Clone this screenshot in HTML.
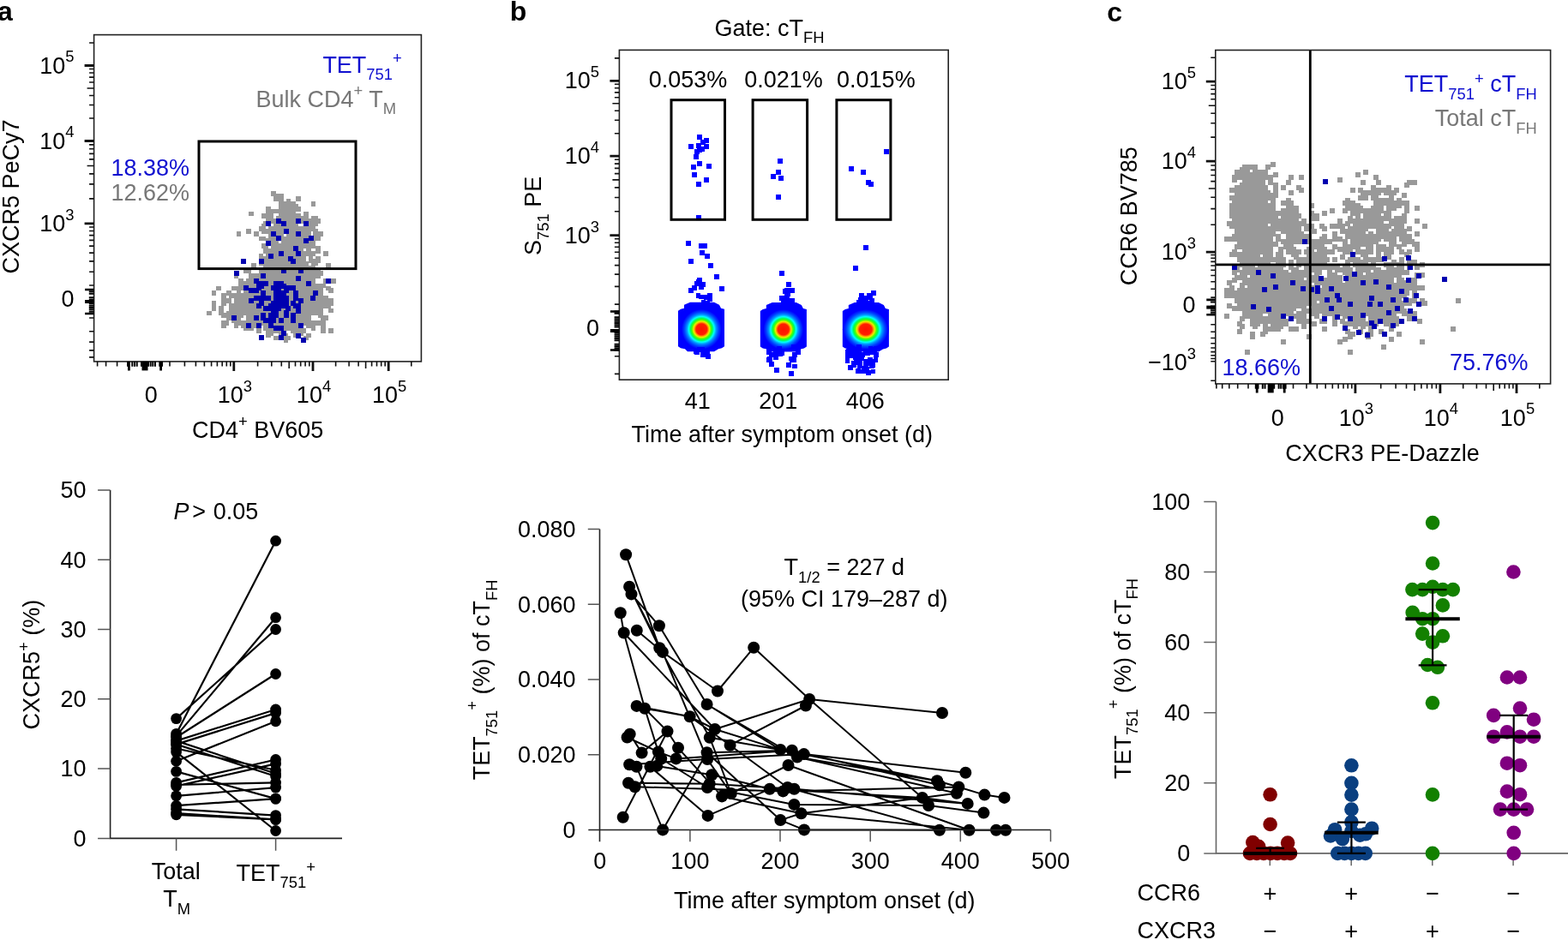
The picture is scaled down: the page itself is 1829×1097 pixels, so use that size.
<!DOCTYPE html>
<html><head><meta charset="utf-8"><title>Figure</title>
<style>html,body{margin:0;padding:0;background:#fff;}svg{display:block;}</style></head>
<body><svg width="1829" height="1097" viewBox="0 0 1829 1097" font-family='"Liberation Sans", Arial, Helvetica, sans-serif'>
<rect width="1829" height="1097" fill="#fff"/>
<path d="M327.7 353.8h5.8v5.8h-5.8zM319 333.5h5.8v5.8h-5.8zM316.1 333.5h5.8v5.8h-5.8zM327.7 371.2h5.8v5.8h-5.8zM316.1 339.3h5.8v5.8h-5.8zM339.3 353.8h5.8v5.8h-5.8zM330.6 333.5h5.8v5.8h-5.8zM327.7 359.6h5.8v5.8h-5.8zM292.9 342.2h5.8v5.8h-5.8zM278.4 327.7h5.8v5.8h-5.8zM281.3 345.1h5.8v5.8h-5.8zM295.8 353.8h5.8v5.8h-5.8zM330.6 345.1h5.8v5.8h-5.8zM263.9 339.3h5.8v5.8h-5.8zM324.8 350.9h5.8v5.8h-5.8zM290 342.2h5.8v5.8h-5.8zM301.6 336.4h5.8v5.8h-5.8zM353.8 336.4h5.8v5.8h-5.8zM327.7 365.4h5.8v5.8h-5.8zM313.2 348h5.8v5.8h-5.8zM330.6 350.9h5.8v5.8h-5.8zM295.8 350.9h5.8v5.8h-5.8zM362.5 321.9h5.8v5.8h-5.8zM348 350.9h5.8v5.8h-5.8zM310.3 382.8h5.8v5.8h-5.8zM345.1 327.7h5.8v5.8h-5.8zM321.9 359.6h5.8v5.8h-5.8zM324.8 359.6h5.8v5.8h-5.8zM362.5 336.4h5.8v5.8h-5.8zM333.5 342.2h5.8v5.8h-5.8zM330.6 327.7h5.8v5.8h-5.8zM313.2 345.1h5.8v5.8h-5.8zM350.9 368.3h5.8v5.8h-5.8zM292.9 336.4h5.8v5.8h-5.8zM342.2 316.1h5.8v5.8h-5.8zM316.1 348h5.8v5.8h-5.8zM359.6 359.6h5.8v5.8h-5.8zM319 342.2h5.8v5.8h-5.8zM321.9 374.1h5.8v5.8h-5.8zM316.1 345.1h5.8v5.8h-5.8zM336.4 348h5.8v5.8h-5.8zM321.9 330.6h5.8v5.8h-5.8zM327.7 342.2h5.8v5.8h-5.8zM356.7 359.6h5.8v5.8h-5.8zM319 368.3h5.8v5.8h-5.8zM284.2 313.2h5.8v5.8h-5.8zM330.6 388.6h5.8v5.8h-5.8zM307.4 339.3h5.8v5.8h-5.8zM333.5 356.7h5.8v5.8h-5.8zM321.9 345.1h5.8v5.8h-5.8zM345.1 356.7h5.8v5.8h-5.8zM301.6 348h5.8v5.8h-5.8zM327.7 330.6h5.8v5.8h-5.8zM333.5 333.5h5.8v5.8h-5.8zM350.9 353.8h5.8v5.8h-5.8zM330.6 339.3h5.8v5.8h-5.8zM324.8 316.1h5.8v5.8h-5.8zM298.7 356.7h5.8v5.8h-5.8zM272.6 362.5h5.8v5.8h-5.8zM284.2 362.5h5.8v5.8h-5.8zM307.4 362.5h5.8v5.8h-5.8zM330.6 321.9h5.8v5.8h-5.8zM359.6 374.1h5.8v5.8h-5.8zM324.8 345.1h5.8v5.8h-5.8zM321.9 333.5h5.8v5.8h-5.8zM353.8 339.3h5.8v5.8h-5.8zM324.8 336.4h5.8v5.8h-5.8zM310.3 327.7h5.8v5.8h-5.8zM359.6 345.1h5.8v5.8h-5.8zM350.9 348h5.8v5.8h-5.8zM310.3 342.2h5.8v5.8h-5.8zM319 345.1h5.8v5.8h-5.8zM368.3 336.4h5.8v5.8h-5.8zM301.6 353.8h5.8v5.8h-5.8zM362.5 324.8h5.8v5.8h-5.8zM321.9 339.3h5.8v5.8h-5.8zM327.7 350.9h5.8v5.8h-5.8zM307.4 356.7h5.8v5.8h-5.8zM298.7 327.7h5.8v5.8h-5.8zM359.6 339.3h5.8v5.8h-5.8zM333.5 348h5.8v5.8h-5.8zM342.2 345.1h5.8v5.8h-5.8zM321.9 350.9h5.8v5.8h-5.8zM336.4 339.3h5.8v5.8h-5.8zM292.9 365.4h5.8v5.8h-5.8zM339.3 362.5h5.8v5.8h-5.8zM348 365.4h5.8v5.8h-5.8zM316.1 374.1h5.8v5.8h-5.8zM295.8 362.5h5.8v5.8h-5.8zM339.3 365.4h5.8v5.8h-5.8zM374.1 374.1h5.8v5.8h-5.8zM298.7 319h5.8v5.8h-5.8zM348 330.6h5.8v5.8h-5.8zM327.7 362.5h5.8v5.8h-5.8zM287.1 313.2h5.8v5.8h-5.8zM333.5 350.9h5.8v5.8h-5.8zM304.5 324.8h5.8v5.8h-5.8zM287.1 356.7h5.8v5.8h-5.8zM324.8 356.7h5.8v5.8h-5.8zM301.6 339.3h5.8v5.8h-5.8zM301.6 333.5h5.8v5.8h-5.8zM330.6 336.4h5.8v5.8h-5.8zM336.4 353.8h5.8v5.8h-5.8zM377 324.8h5.8v5.8h-5.8zM348 348h5.8v5.8h-5.8zM327.7 324.8h5.8v5.8h-5.8zM316.1 362.5h5.8v5.8h-5.8zM327.7 310.3h5.8v5.8h-5.8zM310.3 316.1h5.8v5.8h-5.8zM246.5 339.3h5.8v5.8h-5.8zM359.6 350.9h5.8v5.8h-5.8zM298.7 333.5h5.8v5.8h-5.8zM356.7 350.9h5.8v5.8h-5.8zM327.7 348h5.8v5.8h-5.8zM342.2 353.8h5.8v5.8h-5.8zM301.6 356.7h5.8v5.8h-5.8zM310.3 368.3h5.8v5.8h-5.8zM295.8 348h5.8v5.8h-5.8zM327.7 327.7h5.8v5.8h-5.8zM371.2 374.1h5.8v5.8h-5.8zM336.4 304.5h5.8v5.8h-5.8zM330.6 330.6h5.8v5.8h-5.8zM356.7 353.8h5.8v5.8h-5.8zM327.7 374.1h5.8v5.8h-5.8zM313.2 342.2h5.8v5.8h-5.8zM281.3 377h5.8v5.8h-5.8zM350.9 365.4h5.8v5.8h-5.8zM345.1 350.9h5.8v5.8h-5.8zM333.5 345.1h5.8v5.8h-5.8zM365.4 359.6h5.8v5.8h-5.8zM324.8 339.3h5.8v5.8h-5.8zM310.3 377h5.8v5.8h-5.8zM339.3 350.9h5.8v5.8h-5.8zM319 330.6h5.8v5.8h-5.8zM324.8 365.4h5.8v5.8h-5.8zM287.1 345.1h5.8v5.8h-5.8zM304.5 365.4h5.8v5.8h-5.8zM307.4 359.6h5.8v5.8h-5.8zM365.4 345.1h5.8v5.8h-5.8zM313.2 353.8h5.8v5.8h-5.8zM327.7 333.5h5.8v5.8h-5.8zM339.3 382.8h5.8v5.8h-5.8zM295.8 330.6h5.8v5.8h-5.8zM359.6 333.5h5.8v5.8h-5.8zM353.8 374.1h5.8v5.8h-5.8zM333.5 359.6h5.8v5.8h-5.8zM377 345.1h5.8v5.8h-5.8zM313.2 324.8h5.8v5.8h-5.8zM350.9 333.5h5.8v5.8h-5.8zM304.5 339.3h5.8v5.8h-5.8zM333.5 353.8h5.8v5.8h-5.8zM319 348h5.8v5.8h-5.8zM339.3 379.9h5.8v5.8h-5.8zM342.2 350.9h5.8v5.8h-5.8zM284.2 356.7h5.8v5.8h-5.8zM278.4 324.8h5.8v5.8h-5.8zM348 362.5h5.8v5.8h-5.8zM324.8 319h5.8v5.8h-5.8zM319 336.4h5.8v5.8h-5.8zM342.2 388.6h5.8v5.8h-5.8zM333.5 336.4h5.8v5.8h-5.8zM298.7 348h5.8v5.8h-5.8zM353.8 368.3h5.8v5.8h-5.8zM353.8 342.2h5.8v5.8h-5.8zM339.3 348h5.8v5.8h-5.8zM316.1 342.2h5.8v5.8h-5.8zM295.8 324.8h5.8v5.8h-5.8zM348 345.1h5.8v5.8h-5.8zM333.5 365.4h5.8v5.8h-5.8zM284.2 336.4h5.8v5.8h-5.8zM330.6 356.7h5.8v5.8h-5.8zM319 365.4h5.8v5.8h-5.8zM333.5 327.7h5.8v5.8h-5.8zM304.5 362.5h5.8v5.8h-5.8zM339.3 316.1h5.8v5.8h-5.8zM359.6 342.2h5.8v5.8h-5.8zM365.4 339.3h5.8v5.8h-5.8zM316.1 365.4h5.8v5.8h-5.8zM295.8 368.3h5.8v5.8h-5.8zM336.4 330.6h5.8v5.8h-5.8zM307.4 345.1h5.8v5.8h-5.8zM301.6 327.7h5.8v5.8h-5.8zM290 348h5.8v5.8h-5.8zM310.3 333.5h5.8v5.8h-5.8zM348 339.3h5.8v5.8h-5.8zM365.4 336.4h5.8v5.8h-5.8zM336.4 345.1h5.8v5.8h-5.8zM324.8 330.6h5.8v5.8h-5.8zM342.2 330.6h5.8v5.8h-5.8zM281.3 348h5.8v5.8h-5.8zM353.8 321.9h5.8v5.8h-5.8zM298.7 336.4h5.8v5.8h-5.8zM307.4 336.4h5.8v5.8h-5.8zM342.2 336.4h5.8v5.8h-5.8zM339.3 333.5h5.8v5.8h-5.8zM295.8 319h5.8v5.8h-5.8zM374.1 345.1h5.8v5.8h-5.8zM374.1 330.6h5.8v5.8h-5.8zM287.1 330.6h5.8v5.8h-5.8zM292.9 362.5h5.8v5.8h-5.8zM348 333.5h5.8v5.8h-5.8zM362.5 301.6h5.8v5.8h-5.8zM339.3 330.6h5.8v5.8h-5.8zM353.8 330.6h5.8v5.8h-5.8zM319 324.8h5.8v5.8h-5.8zM301.6 374.1h5.8v5.8h-5.8zM348 342.2h5.8v5.8h-5.8zM304.5 316.1h5.8v5.8h-5.8zM324.8 348h5.8v5.8h-5.8zM324.8 371.2h5.8v5.8h-5.8zM374.1 348h5.8v5.8h-5.8zM307.4 348h5.8v5.8h-5.8zM313.2 336.4h5.8v5.8h-5.8zM342.2 348h5.8v5.8h-5.8zM292.9 350.9h5.8v5.8h-5.8zM292.9 339.3h5.8v5.8h-5.8zM319 313.2h5.8v5.8h-5.8zM321.9 342.2h5.8v5.8h-5.8zM319 339.3h5.8v5.8h-5.8zM324.8 342.2h5.8v5.8h-5.8zM342.2 321.9h5.8v5.8h-5.8zM310.3 345.1h5.8v5.8h-5.8zM342.2 356.7h5.8v5.8h-5.8zM333.5 324.8h5.8v5.8h-5.8zM339.3 368.3h5.8v5.8h-5.8zM287.1 365.4h5.8v5.8h-5.8zM324.8 307.4h5.8v5.8h-5.8zM336.4 324.8h5.8v5.8h-5.8zM295.8 339.3h5.8v5.8h-5.8zM333.5 379.9h5.8v5.8h-5.8zM368.3 348h5.8v5.8h-5.8zM321.9 327.7h5.8v5.8h-5.8zM310.3 356.7h5.8v5.8h-5.8zM336.4 350.9h5.8v5.8h-5.8zM350.9 336.4h5.8v5.8h-5.8zM324.8 362.5h5.8v5.8h-5.8zM342.2 368.3h5.8v5.8h-5.8zM336.4 333.5h5.8v5.8h-5.8zM287.1 359.6h5.8v5.8h-5.8zM324.8 353.8h5.8v5.8h-5.8zM284.2 342.2h5.8v5.8h-5.8zM313.2 333.5h5.8v5.8h-5.8zM269.7 342.2h5.8v5.8h-5.8zM350.9 356.7h5.8v5.8h-5.8zM345.1 301.6h5.8v5.8h-5.8zM345.1 377h5.8v5.8h-5.8zM333.5 362.5h5.8v5.8h-5.8zM350.9 382.8h5.8v5.8h-5.8zM321.9 348h5.8v5.8h-5.8zM333.5 371.2h5.8v5.8h-5.8zM301.6 345.1h5.8v5.8h-5.8zM321.9 362.5h5.8v5.8h-5.8zM353.8 324.8h5.8v5.8h-5.8zM304.5 353.8h5.8v5.8h-5.8zM310.3 321.9h5.8v5.8h-5.8zM353.8 356.7h5.8v5.8h-5.8zM339.3 342.2h5.8v5.8h-5.8zM353.8 345.1h5.8v5.8h-5.8zM353.8 333.5h5.8v5.8h-5.8zM310.3 359.6h5.8v5.8h-5.8zM350.9 339.3h5.8v5.8h-5.8zM316.1 368.3h5.8v5.8h-5.8zM382.8 382.8h5.8v5.8h-5.8zM365.4 348h5.8v5.8h-5.8zM301.6 350.9h5.8v5.8h-5.8zM339.3 336.4h5.8v5.8h-5.8zM287.1 324.8h5.8v5.8h-5.8zM345.1 336.4h5.8v5.8h-5.8zM342.2 342.2h5.8v5.8h-5.8zM356.7 348h5.8v5.8h-5.8zM307.4 342.2h5.8v5.8h-5.8zM319 391.5h5.8v5.8h-5.8zM345.1 382.8h5.8v5.8h-5.8zM356.7 356.7h5.8v5.8h-5.8zM345.1 339.3h5.8v5.8h-5.8zM374.1 377h5.8v5.8h-5.8zM342.2 359.6h5.8v5.8h-5.8zM275.5 359.6h5.8v5.8h-5.8zM321.9 356.7h5.8v5.8h-5.8zM345.1 342.2h5.8v5.8h-5.8zM269.7 371.2h5.8v5.8h-5.8zM333.5 368.3h5.8v5.8h-5.8zM377 350.9h5.8v5.8h-5.8zM281.3 333.5h5.8v5.8h-5.8zM327.7 316.1h5.8v5.8h-5.8zM313.2 339.3h5.8v5.8h-5.8zM284.2 348h5.8v5.8h-5.8zM374.1 382.8h5.8v5.8h-5.8zM359.6 362.5h5.8v5.8h-5.8zM310.3 374.1h5.8v5.8h-5.8zM319 350.9h5.8v5.8h-5.8zM298.7 342.2h5.8v5.8h-5.8zM382.8 348h5.8v5.8h-5.8zM345.1 330.6h5.8v5.8h-5.8zM321.9 365.4h5.8v5.8h-5.8zM365.4 316.1h5.8v5.8h-5.8zM310.3 339.3h5.8v5.8h-5.8zM345.1 359.6h5.8v5.8h-5.8zM345.1 345.1h5.8v5.8h-5.8zM304.5 313.2h5.8v5.8h-5.8zM333.5 377h5.8v5.8h-5.8zM321.9 321.9h5.8v5.8h-5.8zM307.4 333.5h5.8v5.8h-5.8zM295.8 356.7h5.8v5.8h-5.8zM345.1 348h5.8v5.8h-5.8zM336.4 356.7h5.8v5.8h-5.8zM290 345.1h5.8v5.8h-5.8zM321.9 353.8h5.8v5.8h-5.8zM292.9 377h5.8v5.8h-5.8zM284.2 345.1h5.8v5.8h-5.8zM316.1 313.2h5.8v5.8h-5.8zM348 359.6h5.8v5.8h-5.8zM324.8 333.5h5.8v5.8h-5.8zM342.2 339.3h5.8v5.8h-5.8zM362.5 353.8h5.8v5.8h-5.8zM356.7 342.2h5.8v5.8h-5.8zM321.9 391.5h5.8v5.8h-5.8zM359.6 353.8h5.8v5.8h-5.8zM348 385.7h5.8v5.8h-5.8zM345.1 353.8h5.8v5.8h-5.8zM330.6 379.9h5.8v5.8h-5.8zM304.5 348h5.8v5.8h-5.8zM316.1 353.8h5.8v5.8h-5.8zM356.7 388.6h5.8v5.8h-5.8zM330.6 374.1h5.8v5.8h-5.8zM292.9 368.3h5.8v5.8h-5.8zM324.8 374.1h5.8v5.8h-5.8zM327.7 356.7h5.8v5.8h-5.8zM313.2 313.2h5.8v5.8h-5.8zM350.9 359.6h5.8v5.8h-5.8zM356.7 324.8h5.8v5.8h-5.8zM356.7 339.3h5.8v5.8h-5.8zM298.7 371.2h5.8v5.8h-5.8zM324.8 327.7h5.8v5.8h-5.8zM336.4 362.5h5.8v5.8h-5.8zM310.3 353.8h5.8v5.8h-5.8zM327.7 339.3h5.8v5.8h-5.8zM316.1 350.9h5.8v5.8h-5.8zM382.8 336.4h5.8v5.8h-5.8zM278.4 333.5h5.8v5.8h-5.8zM345.1 362.5h5.8v5.8h-5.8zM339.3 359.6h5.8v5.8h-5.8zM269.7 359.6h5.8v5.8h-5.8zM301.6 365.4h5.8v5.8h-5.8zM304.5 321.9h5.8v5.8h-5.8zM353.8 348h5.8v5.8h-5.8zM316.1 382.8h5.8v5.8h-5.8zM336.4 379.9h5.8v5.8h-5.8zM316.1 356.7h5.8v5.8h-5.8zM319 319h5.8v5.8h-5.8zM321.9 310.3h5.8v5.8h-5.8zM336.4 336.4h5.8v5.8h-5.8zM284.2 330.6h5.8v5.8h-5.8zM275.5 333.5h5.8v5.8h-5.8zM368.3 330.6h5.8v5.8h-5.8zM342.2 324.8h5.8v5.8h-5.8zM371.2 353.8h5.8v5.8h-5.8zM371.2 316.1h5.8v5.8h-5.8zM321.9 324.8h5.8v5.8h-5.8zM330.6 391.5h5.8v5.8h-5.8zM356.7 330.6h5.8v5.8h-5.8zM304.5 342.2h5.8v5.8h-5.8zM310.3 365.4h5.8v5.8h-5.8zM298.7 321.9h5.8v5.8h-5.8zM310.3 310.3h5.8v5.8h-5.8zM348 368.3h5.8v5.8h-5.8zM324.8 321.9h5.8v5.8h-5.8zM362.5 307.4h5.8v5.8h-5.8zM298.7 345.1h5.8v5.8h-5.8zM356.7 313.2h5.8v5.8h-5.8zM327.7 336.4h5.8v5.8h-5.8zM330.6 353.8h5.8v5.8h-5.8zM348 353.8h5.8v5.8h-5.8zM385.7 324.8h5.8v5.8h-5.8zM333.5 391.5h5.8v5.8h-5.8zM316.1 327.7h5.8v5.8h-5.8zM310.3 350.9h5.8v5.8h-5.8zM307.4 310.3h5.8v5.8h-5.8zM307.4 316.1h5.8v5.8h-5.8zM324.8 368.3h5.8v5.8h-5.8zM342.2 327.7h5.8v5.8h-5.8zM307.4 379.9h5.8v5.8h-5.8zM353.8 391.5h5.8v5.8h-5.8zM336.4 359.6h5.8v5.8h-5.8zM313.2 330.6h5.8v5.8h-5.8zM316.1 336.4h5.8v5.8h-5.8zM287.1 333.5h5.8v5.8h-5.8zM301.6 342.2h5.8v5.8h-5.8zM281.3 330.6h5.8v5.8h-5.8zM368.3 313.2h5.8v5.8h-5.8zM319 353.8h5.8v5.8h-5.8zM342.2 365.4h5.8v5.8h-5.8zM356.7 368.3h5.8v5.8h-5.8zM362.5 348h5.8v5.8h-5.8zM292.9 353.8h5.8v5.8h-5.8zM284.2 333.5h5.8v5.8h-5.8zM321.9 336.4h5.8v5.8h-5.8zM342.2 379.9h5.8v5.8h-5.8zM295.8 371.2h5.8v5.8h-5.8zM333.5 321.9h5.8v5.8h-5.8zM342.2 371.2h5.8v5.8h-5.8zM362.5 359.6h5.8v5.8h-5.8zM350.9 342.2h5.8v5.8h-5.8zM304.5 374.1h5.8v5.8h-5.8zM336.4 307.4h5.8v5.8h-5.8zM298.7 382.8h5.8v5.8h-5.8zM310.3 362.5h5.8v5.8h-5.8zM330.6 362.5h5.8v5.8h-5.8zM310.3 371.2h5.8v5.8h-5.8zM345.1 365.4h5.8v5.8h-5.8zM362.5 356.7h5.8v5.8h-5.8zM330.6 324.8h5.8v5.8h-5.8zM298.7 324.8h5.8v5.8h-5.8zM368.3 333.5h5.8v5.8h-5.8zM371.2 365.4h5.8v5.8h-5.8zM368.3 319h5.8v5.8h-5.8zM287.1 368.3h5.8v5.8h-5.8zM313.2 359.6h5.8v5.8h-5.8zM330.6 304.5h5.8v5.8h-5.8zM307.4 353.8h5.8v5.8h-5.8zM365.4 353.8h5.8v5.8h-5.8zM362.5 379.9h5.8v5.8h-5.8zM327.7 345.1h5.8v5.8h-5.8zM301.6 371.2h5.8v5.8h-5.8zM295.8 345.1h5.8v5.8h-5.8zM307.4 327.7h5.8v5.8h-5.8zM295.8 327.7h5.8v5.8h-5.8zM316.1 319h5.8v5.8h-5.8zM292.9 321.9h5.8v5.8h-5.8zM371.2 342.2h5.8v5.8h-5.8zM292.9 333.5h5.8v5.8h-5.8zM342.2 319h5.8v5.8h-5.8zM319 356.7h5.8v5.8h-5.8zM319 362.5h5.8v5.8h-5.8zM365.4 313.2h5.8v5.8h-5.8zM350.9 371.2h5.8v5.8h-5.8zM350.9 350.9h5.8v5.8h-5.8zM298.7 359.6h5.8v5.8h-5.8zM310.3 307.4h5.8v5.8h-5.8zM371.2 333.5h5.8v5.8h-5.8zM362.5 377h5.8v5.8h-5.8zM272.6 319h5.8v5.8h-5.8zM374.1 371.2h5.8v5.8h-5.8zM350.9 327.7h5.8v5.8h-5.8zM319 327.7h5.8v5.8h-5.8zM330.6 377h5.8v5.8h-5.8zM304.5 330.6h5.8v5.8h-5.8zM295.8 374.1h5.8v5.8h-5.8zM316.1 324.8h5.8v5.8h-5.8zM371.2 362.5h5.8v5.8h-5.8zM319 374.1h5.8v5.8h-5.8zM290 374.1h5.8v5.8h-5.8zM310.3 301.6h5.8v5.8h-5.8zM290 336.4h5.8v5.8h-5.8zM333.5 316.1h5.8v5.8h-5.8zM304.5 356.7h5.8v5.8h-5.8zM304.5 333.5h5.8v5.8h-5.8zM295.8 377h5.8v5.8h-5.8zM348 374.1h5.8v5.8h-5.8zM356.7 377h5.8v5.8h-5.8zM359.6 336.4h5.8v5.8h-5.8zM339.3 324.8h5.8v5.8h-5.8zM377 368.3h5.8v5.8h-5.8zM336.4 319h5.8v5.8h-5.8zM278.4 365.4h5.8v5.8h-5.8zM362.5 327.7h5.8v5.8h-5.8zM330.6 342.2h5.8v5.8h-5.8zM365.4 333.5h5.8v5.8h-5.8zM261 348h5.8v5.8h-5.8zM365.4 330.6h5.8v5.8h-5.8zM298.7 374.1h5.8v5.8h-5.8zM313.2 382.8h5.8v5.8h-5.8zM284.2 327.7h5.8v5.8h-5.8zM336.4 371.2h5.8v5.8h-5.8zM382.8 359.6h5.8v5.8h-5.8zM275.5 345.1h5.8v5.8h-5.8zM313.2 368.3h5.8v5.8h-5.8zM269.7 333.5h5.8v5.8h-5.8zM301.6 330.6h5.8v5.8h-5.8zM307.4 350.9h5.8v5.8h-5.8zM368.3 353.8h5.8v5.8h-5.8zM310.3 348h5.8v5.8h-5.8zM321.9 368.3h5.8v5.8h-5.8zM313.2 385.7h5.8v5.8h-5.8zM379.9 353.8h5.8v5.8h-5.8zM321.9 313.2h5.8v5.8h-5.8zM295.8 333.5h5.8v5.8h-5.8zM365.4 362.5h5.8v5.8h-5.8zM290 319h5.8v5.8h-5.8zM295.8 342.2h5.8v5.8h-5.8zM330.6 313.2h5.8v5.8h-5.8zM275.5 371.2h5.8v5.8h-5.8zM336.4 365.4h5.8v5.8h-5.8zM336.4 368.3h5.8v5.8h-5.8zM330.6 371.2h5.8v5.8h-5.8zM359.6 348h5.8v5.8h-5.8zM362.5 350.9h5.8v5.8h-5.8zM292.9 359.6h5.8v5.8h-5.8zM272.6 348h5.8v5.8h-5.8zM330.6 307.4h5.8v5.8h-5.8zM348 319h5.8v5.8h-5.8zM310.3 388.6h5.8v5.8h-5.8zM310.3 319h5.8v5.8h-5.8zM304.5 345.1h5.8v5.8h-5.8zM292.9 324.8h5.8v5.8h-5.8zM382.8 350.9h5.8v5.8h-5.8zM371.2 356.7h5.8v5.8h-5.8zM362.5 339.3h5.8v5.8h-5.8zM307.4 365.4h5.8v5.8h-5.8zM356.7 362.5h5.8v5.8h-5.8zM301.6 313.2h5.8v5.8h-5.8zM292.9 330.6h5.8v5.8h-5.8zM269.7 362.5h5.8v5.8h-5.8zM298.7 330.6h5.8v5.8h-5.8zM290 379.9h5.8v5.8h-5.8zM333.5 374.1h5.8v5.8h-5.8zM307.4 368.3h5.8v5.8h-5.8zM374.1 353.8h5.8v5.8h-5.8zM330.6 348h5.8v5.8h-5.8zM301.6 359.6h5.8v5.8h-5.8zM275.5 342.2h5.8v5.8h-5.8zM310.3 324.8h5.8v5.8h-5.8zM298.7 353.8h5.8v5.8h-5.8zM353.8 365.4h5.8v5.8h-5.8zM298.7 365.4h5.8v5.8h-5.8zM327.7 368.3h5.8v5.8h-5.8zM339.3 356.7h5.8v5.8h-5.8zM371.2 348h5.8v5.8h-5.8zM321.9 382.8h5.8v5.8h-5.8zM371.2 336.4h5.8v5.8h-5.8zM313.2 362.5h5.8v5.8h-5.8zM353.8 350.9h5.8v5.8h-5.8zM359.6 356.7h5.8v5.8h-5.8zM324.8 385.7h5.8v5.8h-5.8zM379.9 333.5h5.8v5.8h-5.8zM345.1 333.5h5.8v5.8h-5.8zM359.6 330.6h5.8v5.8h-5.8zM339.3 374.1h5.8v5.8h-5.8zM278.4 348h5.8v5.8h-5.8zM365.4 374.1h5.8v5.8h-5.8zM287.1 350.9h5.8v5.8h-5.8zM371.2 359.6h5.8v5.8h-5.8zM330.6 394.4h5.8v5.8h-5.8zM327.7 292.9h5.8v5.8h-5.8zM330.6 261h5.8v5.8h-5.8zM345.1 269.7h5.8v5.8h-5.8zM324.8 246.5h5.8v5.8h-5.8zM319 301.6h5.8v5.8h-5.8zM304.5 284.2h5.8v5.8h-5.8zM345.1 275.5h5.8v5.8h-5.8zM336.4 255.2h5.8v5.8h-5.8zM356.7 316.1h5.8v5.8h-5.8zM336.4 237.8h5.8v5.8h-5.8zM316.1 310.3h5.8v5.8h-5.8zM362.5 292.9h5.8v5.8h-5.8zM353.8 269.7h5.8v5.8h-5.8zM330.6 284.2h5.8v5.8h-5.8zM339.3 243.6h5.8v5.8h-5.8zM348 321.9h5.8v5.8h-5.8zM313.2 249.4h5.8v5.8h-5.8zM339.3 266.8h5.8v5.8h-5.8zM292.9 307.4h5.8v5.8h-5.8zM336.4 272.6h5.8v5.8h-5.8zM368.3 290h5.8v5.8h-5.8zM319 287.1h5.8v5.8h-5.8zM316.1 263.9h5.8v5.8h-5.8zM339.3 269.7h5.8v5.8h-5.8zM348 307.4h5.8v5.8h-5.8zM342.2 298.7h5.8v5.8h-5.8zM356.7 284.2h5.8v5.8h-5.8zM365.4 258.1h5.8v5.8h-5.8zM327.7 246.5h5.8v5.8h-5.8zM327.7 298.7h5.8v5.8h-5.8zM356.7 266.8h5.8v5.8h-5.8zM333.5 275.5h5.8v5.8h-5.8zM321.9 252.3h5.8v5.8h-5.8zM333.5 237.8h5.8v5.8h-5.8zM336.4 287.1h5.8v5.8h-5.8zM321.9 258.1h5.8v5.8h-5.8zM310.3 336.4h5.8v5.8h-5.8zM342.2 275.5h5.8v5.8h-5.8zM362.5 261h5.8v5.8h-5.8zM327.7 313.2h5.8v5.8h-5.8zM339.3 339.3h5.8v5.8h-5.8zM324.8 298.7h5.8v5.8h-5.8zM321.9 226.2h5.8v5.8h-5.8zM330.6 281.3h5.8v5.8h-5.8zM365.4 275.5h5.8v5.8h-5.8zM333.5 301.6h5.8v5.8h-5.8zM359.6 284.2h5.8v5.8h-5.8zM350.9 298.7h5.8v5.8h-5.8zM327.7 287.1h5.8v5.8h-5.8zM333.5 261h5.8v5.8h-5.8zM353.8 246.5h5.8v5.8h-5.8zM353.8 310.3h5.8v5.8h-5.8zM330.6 263.9h5.8v5.8h-5.8zM330.6 298.7h5.8v5.8h-5.8zM345.1 292.9h5.8v5.8h-5.8zM350.9 269.7h5.8v5.8h-5.8zM336.4 243.6h5.8v5.8h-5.8zM345.1 290h5.8v5.8h-5.8zM333.5 246.5h5.8v5.8h-5.8zM324.8 287.1h5.8v5.8h-5.8zM327.7 295.8h5.8v5.8h-5.8zM345.1 319h5.8v5.8h-5.8zM316.1 292.9h5.8v5.8h-5.8zM353.8 304.5h5.8v5.8h-5.8zM316.1 266.8h5.8v5.8h-5.8zM324.8 284.2h5.8v5.8h-5.8zM353.8 249.4h5.8v5.8h-5.8zM342.2 301.6h5.8v5.8h-5.8zM359.6 298.7h5.8v5.8h-5.8zM348 301.6h5.8v5.8h-5.8zM362.5 234.9h5.8v5.8h-5.8zM353.8 278.4h5.8v5.8h-5.8zM327.7 258.1h5.8v5.8h-5.8zM301.6 275.5h5.8v5.8h-5.8zM321.9 298.7h5.8v5.8h-5.8zM307.4 324.8h5.8v5.8h-5.8zM336.4 278.4h5.8v5.8h-5.8zM321.9 263.9h5.8v5.8h-5.8zM313.2 269.7h5.8v5.8h-5.8zM333.5 281.3h5.8v5.8h-5.8zM310.3 278.4h5.8v5.8h-5.8zM319 290h5.8v5.8h-5.8zM365.4 301.6h5.8v5.8h-5.8zM327.7 240.7h5.8v5.8h-5.8zM310.3 240.7h5.8v5.8h-5.8zM345.1 263.9h5.8v5.8h-5.8zM333.5 269.7h5.8v5.8h-5.8zM321.9 275.5h5.8v5.8h-5.8zM319 307.4h5.8v5.8h-5.8zM316.1 255.2h5.8v5.8h-5.8zM310.3 246.5h5.8v5.8h-5.8zM327.7 278.4h5.8v5.8h-5.8zM301.6 295.8h5.8v5.8h-5.8zM336.4 295.8h5.8v5.8h-5.8zM345.1 229.1h5.8v5.8h-5.8zM350.9 313.2h5.8v5.8h-5.8zM310.3 281.3h5.8v5.8h-5.8zM319 269.7h5.8v5.8h-5.8zM350.9 263.9h5.8v5.8h-5.8zM330.6 234.9h5.8v5.8h-5.8zM330.6 287.1h5.8v5.8h-5.8zM321.9 266.8h5.8v5.8h-5.8zM365.4 252.3h5.8v5.8h-5.8zM324.8 313.2h5.8v5.8h-5.8zM356.7 287.1h5.8v5.8h-5.8zM345.1 304.5h5.8v5.8h-5.8zM359.6 258.1h5.8v5.8h-5.8zM353.8 275.5h5.8v5.8h-5.8zM330.6 258.1h5.8v5.8h-5.8zM304.5 261h5.8v5.8h-5.8zM345.1 316.1h5.8v5.8h-5.8zM339.3 255.2h5.8v5.8h-5.8zM316.1 287.1h5.8v5.8h-5.8zM327.7 255.2h5.8v5.8h-5.8zM339.3 278.4h5.8v5.8h-5.8zM350.9 284.2h5.8v5.8h-5.8zM330.6 266.8h5.8v5.8h-5.8zM327.7 304.5h5.8v5.8h-5.8zM304.5 275.5h5.8v5.8h-5.8zM324.8 290h5.8v5.8h-5.8zM324.8 272.6h5.8v5.8h-5.8zM313.2 321.9h5.8v5.8h-5.8zM348 263.9h5.8v5.8h-5.8zM350.9 278.4h5.8v5.8h-5.8zM319 275.5h5.8v5.8h-5.8zM333.5 234.9h5.8v5.8h-5.8zM336.4 316.1h5.8v5.8h-5.8zM336.4 275.5h5.8v5.8h-5.8zM324.8 269.7h5.8v5.8h-5.8zM316.1 316.1h5.8v5.8h-5.8zM333.5 310.3h5.8v5.8h-5.8zM348 292.9h5.8v5.8h-5.8zM362.5 278.4h5.8v5.8h-5.8zM339.3 298.7h5.8v5.8h-5.8zM330.6 246.5h5.8v5.8h-5.8zM310.3 295.8h5.8v5.8h-5.8zM313.2 246.5h5.8v5.8h-5.8zM348 316.1h5.8v5.8h-5.8zM379.9 307.4h5.8v5.8h-5.8zM321.9 261h5.8v5.8h-5.8zM275.5 269.7h5.8v5.8h-5.8zM330.6 310.3h5.8v5.8h-5.8zM336.4 301.6h5.8v5.8h-5.8zM356.7 255.2h5.8v5.8h-5.8zM359.6 319h5.8v5.8h-5.8zM345.1 252.3h5.8v5.8h-5.8zM327.7 281.3h5.8v5.8h-5.8zM327.7 243.6h5.8v5.8h-5.8zM348 255.2h5.8v5.8h-5.8zM345.1 295.8h5.8v5.8h-5.8zM324.8 263.9h5.8v5.8h-5.8zM313.2 304.5h5.8v5.8h-5.8zM324.8 292.9h5.8v5.8h-5.8zM319 284.2h5.8v5.8h-5.8zM342.2 287.1h5.8v5.8h-5.8zM324.8 255.2h5.8v5.8h-5.8zM327.7 263.9h5.8v5.8h-5.8zM336.4 266.8h5.8v5.8h-5.8zM356.7 278.4h5.8v5.8h-5.8zM319 278.4h5.8v5.8h-5.8zM336.4 269.7h5.8v5.8h-5.8zM333.5 249.4h5.8v5.8h-5.8zM365.4 304.5h5.8v5.8h-5.8zM350.9 330.6h5.8v5.8h-5.8zM350.9 281.3h5.8v5.8h-5.8zM336.4 290h5.8v5.8h-5.8zM339.3 290h5.8v5.8h-5.8zM319 229.1h5.8v5.8h-5.8zM321.9 229.1h5.8v5.8h-5.8zM333.5 284.2h5.8v5.8h-5.8zM304.5 304.5h5.8v5.8h-5.8zM348 287.1h5.8v5.8h-5.8zM339.3 295.8h5.8v5.8h-5.8zM348 266.8h5.8v5.8h-5.8zM319 281.3h5.8v5.8h-5.8zM307.4 258.1h5.8v5.8h-5.8zM342.2 284.2h5.8v5.8h-5.8zM339.3 234.9h5.8v5.8h-5.8zM348 284.2h5.8v5.8h-5.8zM345.1 272.6h5.8v5.8h-5.8zM342.2 313.2h5.8v5.8h-5.8zM348 295.8h5.8v5.8h-5.8zM353.8 284.2h5.8v5.8h-5.8zM333.5 252.3h5.8v5.8h-5.8zM368.3 298.7h5.8v5.8h-5.8zM307.4 298.7h5.8v5.8h-5.8zM316.1 223.3h5.8v5.8h-5.8zM324.8 226.2h5.8v5.8h-5.8zM301.6 316.1h5.8v5.8h-5.8zM339.3 281.3h5.8v5.8h-5.8zM321.9 304.5h5.8v5.8h-5.8zM324.8 237.8h5.8v5.8h-5.8zM368.3 275.5h5.8v5.8h-5.8zM321.9 292.9h5.8v5.8h-5.8zM307.4 249.4h5.8v5.8h-5.8zM342.2 255.2h5.8v5.8h-5.8zM336.4 261h5.8v5.8h-5.8zM336.4 263.9h5.8v5.8h-5.8zM345.1 281.3h5.8v5.8h-5.8zM319 310.3h5.8v5.8h-5.8zM319 272.6h5.8v5.8h-5.8zM359.6 278.4h5.8v5.8h-5.8zM339.3 310.3h5.8v5.8h-5.8zM336.4 252.3h5.8v5.8h-5.8zM356.7 272.6h5.8v5.8h-5.8zM350.9 307.4h5.8v5.8h-5.8zM348 310.3h5.8v5.8h-5.8zM362.5 284.2h5.8v5.8h-5.8zM339.3 249.4h5.8v5.8h-5.8zM319 295.8h5.8v5.8h-5.8zM324.8 243.6h5.8v5.8h-5.8zM307.4 290h5.8v5.8h-5.8zM313.2 275.5h5.8v5.8h-5.8zM350.9 316.1h5.8v5.8h-5.8zM339.3 287.1h5.8v5.8h-5.8zM348 252.3h5.8v5.8h-5.8zM336.4 281.3h5.8v5.8h-5.8zM313.2 290h5.8v5.8h-5.8zM333.5 272.6h5.8v5.8h-5.8zM339.3 246.5h5.8v5.8h-5.8zM333.5 295.8h5.8v5.8h-5.8zM339.3 313.2h5.8v5.8h-5.8zM313.2 243.6h5.8v5.8h-5.8zM336.4 298.7h5.8v5.8h-5.8zM368.3 301.6h5.8v5.8h-5.8zM319 243.6h5.8v5.8h-5.8zM377 292.9h5.8v5.8h-5.8zM353.8 258.1h5.8v5.8h-5.8zM345.1 298.7h5.8v5.8h-5.8zM342.2 304.5h5.8v5.8h-5.8zM313.2 298.7h5.8v5.8h-5.8zM371.2 269.7h5.8v5.8h-5.8zM304.5 298.7h5.8v5.8h-5.8zM313.2 263.9h5.8v5.8h-5.8zM342.2 278.4h5.8v5.8h-5.8zM348 371.2h5.8v5.8h-5.8zM319 266.8h5.8v5.8h-5.8zM316.1 269.7h5.8v5.8h-5.8zM313.2 266.8h5.8v5.8h-5.8zM310.3 249.4h5.8v5.8h-5.8zM313.2 295.8h5.8v5.8h-5.8zM301.6 263.9h5.8v5.8h-5.8zM345.1 287.1h5.8v5.8h-5.8zM324.8 310.3h5.8v5.8h-5.8zM324.8 261h5.8v5.8h-5.8zM342.2 258.1h5.8v5.8h-5.8zM365.4 269.7h5.8v5.8h-5.8zM368.3 255.2h5.8v5.8h-5.8zM342.2 252.3h5.8v5.8h-5.8zM310.3 290h5.8v5.8h-5.8zM345.1 249.4h5.8v5.8h-5.8zM353.8 263.9h5.8v5.8h-5.8zM342.2 237.8h5.8v5.8h-5.8zM359.6 301.6h5.8v5.8h-5.8zM324.8 258.1h5.8v5.8h-5.8zM304.5 249.4h5.8v5.8h-5.8zM359.6 275.5h5.8v5.8h-5.8zM321.9 243.6h5.8v5.8h-5.8zM313.2 272.6h5.8v5.8h-5.8zM330.6 295.8h5.8v5.8h-5.8zM342.2 290h5.8v5.8h-5.8zM336.4 258.1h5.8v5.8h-5.8zM295.8 269.7h5.8v5.8h-5.8zM327.7 252.3h5.8v5.8h-5.8zM313.2 281.3h5.8v5.8h-5.8zM365.4 266.8h5.8v5.8h-5.8zM359.6 263.9h5.8v5.8h-5.8zM368.3 287.1h5.8v5.8h-5.8zM330.6 319h5.8v5.8h-5.8zM348 304.5h5.8v5.8h-5.8zM350.9 255.2h5.8v5.8h-5.8zM362.5 252.3h5.8v5.8h-5.8zM307.4 266.8h5.8v5.8h-5.8zM350.9 272.6h5.8v5.8h-5.8zM321.9 307.4h5.8v5.8h-5.8zM350.9 310.3h5.8v5.8h-5.8zM350.9 266.8h5.8v5.8h-5.8zM359.6 255.2h5.8v5.8h-5.8zM290 246.5h5.8v5.8h-5.8zM316.1 281.3h5.8v5.8h-5.8zM342.2 281.3h5.8v5.8h-5.8zM321.9 290h5.8v5.8h-5.8zM316.1 284.2h5.8v5.8h-5.8zM316.1 272.6h5.8v5.8h-5.8zM304.5 266.8h5.8v5.8h-5.8zM310.3 252.3h5.8v5.8h-5.8zM330.6 278.4h5.8v5.8h-5.8zM353.8 266.8h5.8v5.8h-5.8zM350.9 292.9h5.8v5.8h-5.8zM333.5 232h5.8v5.8h-5.8zM310.3 304.5h5.8v5.8h-5.8zM356.7 290h5.8v5.8h-5.8zM327.7 266.8h5.8v5.8h-5.8zM350.9 295.8h5.8v5.8h-5.8zM327.7 275.5h5.8v5.8h-5.8zM342.2 292.9h5.8v5.8h-5.8zM336.4 284.2h5.8v5.8h-5.8zM359.6 313.2h5.8v5.8h-5.8zM301.6 304.5h5.8v5.8h-5.8zM319 258.1h5.8v5.8h-5.8zM330.6 292.9h5.8v5.8h-5.8zM342.2 333.5h5.8v5.8h-5.8zM345.1 240.7h5.8v5.8h-5.8zM287.1 266.8h5.8v5.8h-5.8zM356.7 327.7h5.8v5.8h-5.8zM348 278.4h5.8v5.8h-5.8zM339.3 261h5.8v5.8h-5.8zM336.4 249.4h5.8v5.8h-5.8zM353.8 292.9h5.8v5.8h-5.8zM307.4 284.2h5.8v5.8h-5.8zM333.5 266.8h5.8v5.8h-5.8zM348 269.7h5.8v5.8h-5.8zM342.2 310.3h5.8v5.8h-5.8zM339.3 284.2h5.8v5.8h-5.8zM356.7 310.3h5.8v5.8h-5.8zM356.7 292.9h5.8v5.8h-5.8zM330.6 316.1h5.8v5.8h-5.8zM324.8 232h5.8v5.8h-5.8zM345.1 284.2h5.8v5.8h-5.8zM333.5 240.7h5.8v5.8h-5.8zM278.4 374.1h5.8v5.8h-5.8zM287.1 362.5h5.8v5.8h-5.8zM281.3 353.8h5.8v5.8h-5.8zM261 365.4h5.8v5.8h-5.8zM287.1 342.2h5.8v5.8h-5.8zM261 374.1h5.8v5.8h-5.8zM284.2 350.9h5.8v5.8h-5.8zM252.3 333.5h5.8v5.8h-5.8zM255.2 356.7h5.8v5.8h-5.8zM278.4 353.8h5.8v5.8h-5.8zM246.5 350.9h5.8v5.8h-5.8zM266.8 342.2h5.8v5.8h-5.8zM269.7 353.8h5.8v5.8h-5.8zM275.5 339.3h5.8v5.8h-5.8zM272.6 374.1h5.8v5.8h-5.8zM292.9 348h5.8v5.8h-5.8zM278.4 362.5h5.8v5.8h-5.8zM287.1 353.8h5.8v5.8h-5.8zM292.9 356.7h5.8v5.8h-5.8zM255.2 362.5h5.8v5.8h-5.8zM258.1 350.9h5.8v5.8h-5.8zM278.4 350.9h5.8v5.8h-5.8zM272.6 368.3h5.8v5.8h-5.8zM240.7 362.5h5.8v5.8h-5.8zM313.2 356.7h5.8v5.8h-5.8zM290 350.9h5.8v5.8h-5.8zM278.4 342.2h5.8v5.8h-5.8zM258.1 365.4h5.8v5.8h-5.8zM266.8 359.6h5.8v5.8h-5.8zM278.4 356.7h5.8v5.8h-5.8zM246.5 356.7h5.8v5.8h-5.8zM258.1 377h5.8v5.8h-5.8zM272.6 377h5.8v5.8h-5.8zM295.8 359.6h5.8v5.8h-5.8zM281.3 356.7h5.8v5.8h-5.8zM298.7 362.5h5.8v5.8h-5.8zM263.9 348h5.8v5.8h-5.8zM272.6 345.1h5.8v5.8h-5.8zM281.3 374.1h5.8v5.8h-5.8zM258.1 374.1h5.8v5.8h-5.8zM275.5 362.5h5.8v5.8h-5.8zM258.1 342.2h5.8v5.8h-5.8zM281.3 350.9h5.8v5.8h-5.8zM266.8 362.5h5.8v5.8h-5.8zM290 353.8h5.8v5.8h-5.8zM263.9 368.3h5.8v5.8h-5.8zM284.2 379.9h5.8v5.8h-5.8zM266.8 353.8h5.8v5.8h-5.8zM258.1 345.1h5.8v5.8h-5.8zM281.3 359.6h5.8v5.8h-5.8zM263.9 362.5h5.8v5.8h-5.8zM287.1 371.2h5.8v5.8h-5.8zM281.3 362.5h5.8v5.8h-5.8zM275.5 353.8h5.8v5.8h-5.8zM275.5 348h5.8v5.8h-5.8z" fill="#999" shape-rendering="crispEdges"/>
<path d="M295.7 345h6v6h-6zM304.4 365.3h6v6h-6zM318.9 379.8h6v6h-6zM330.5 362.4h6v6h-6zM321.8 350.8h6v6h-6zM330.5 365.3h6v6h-6zM307.3 356.6h6v6h-6zM362.4 345h6v6h-6zM316 333.4h6v6h-6zM295.7 368.2h6v6h-6zM318.9 353.7h6v6h-6zM350.8 394.3h6v6h-6zM304.4 368.2h6v6h-6zM330.5 353.7h6v6h-6zM327.6 347.9h6v6h-6zM345 359.5h6v6h-6zM324.7 371.1h6v6h-6zM333.4 356.6h6v6h-6zM324.7 379.8h6v6h-6zM327.6 345h6v6h-6zM304.4 339.2h6v6h-6zM301.5 347.9h6v6h-6zM318.9 359.5h6v6h-6zM321.8 327.6h6v6h-6zM339.2 333.4h6v6h-6zM298.6 327.6h6v6h-6zM318.9 365.3h6v6h-6zM339.2 350.8h6v6h-6zM298.6 333.4h6v6h-6zM304.4 345h6v6h-6zM289.9 347.9h6v6h-6zM330.5 345h6v6h-6zM327.6 330.5h6v6h-6zM295.7 336.3h6v6h-6zM339.2 365.3h6v6h-6zM310.2 371.1h6v6h-6zM313.1 376.9h6v6h-6zM327.6 339.2h6v6h-6zM333.4 333.4h6v6h-6zM304.4 318.9h6v6h-6zM324.7 345h6v6h-6zM318.9 339.2h6v6h-6zM342.1 339.2h6v6h-6zM307.3 371.1h6v6h-6zM342.1 353.7h6v6h-6zM289.9 336.3h6v6h-6zM330.5 347.9h6v6h-6zM345 321.8h6v6h-6zM330.5 336.3h6v6h-6zM342.1 345h6v6h-6zM336.3 333.4h6v6h-6zM295.7 324.7h6v6h-6zM307.3 327.6h6v6h-6zM339.2 371.1h6v6h-6zM324.7 327.6h6v6h-6zM345 353.7h6v6h-6zM284.1 333.4h6v6h-6zM298.6 353.7h6v6h-6zM321.8 330.5h6v6h-6zM301.5 330.5h6v6h-6zM313.1 356.6h6v6h-6zM347.9 313.1h6v6h-6zM318.9 347.9h6v6h-6zM318.9 342.1h6v6h-6zM313.1 365.3h6v6h-6zM310.2 345h6v6h-6zM316 365.3h6v6h-6zM318.9 350.8h6v6h-6zM318.9 327.6h6v6h-6zM304.4 327.6h6v6h-6zM321.8 333.4h6v6h-6zM301.5 350.8h6v6h-6zM327.6 313.1h6v6h-6zM347.9 347.9h6v6h-6zM316 368.2h6v6h-6zM318.9 336.3h6v6h-6zM356.6 327.6h6v6h-6zM316 362.4h6v6h-6zM301.5 345h6v6h-6zM324.7 391.4h6v6h-6zM321.8 356.6h6v6h-6zM324.7 353.7h6v6h-6zM321.8 339.2h6v6h-6zM345 388.5h6v6h-6zM313.1 353.7h6v6h-6zM316 371.1h6v6h-6zM316 350.8h6v6h-6zM310.2 258h6v6h-6zM321.8 255.1h6v6h-6zM327.6 258h6v6h-6zM345 255.1h6v6h-6zM353.7 258h6v6h-6zM330.5 266.7h6v6h-6zM316 269.6h6v6h-6zM345 269.6h6v6h-6zM321.8 275.4h6v6h-6zM353.7 278.3h6v6h-6zM359.5 275.4h6v6h-6zM310.2 281.2h6v6h-6zM342.1 287h6v6h-6zM345 292.8h6v6h-6zM324.7 292.8h6v6h-6zM313.1 295.7h6v6h-6zM281.2 301.5h6v6h-6zM301.5 301.5h6v6h-6zM336.3 298.6h6v6h-6zM339.2 301.5h6v6h-6zM272.5 316h6v6h-6zM379.8 324.7h6v6h-6zM365.3 339.2h6v6h-6zM269.6 368.2h6v6h-6zM287 376.9h6v6h-6zM301.5 391.4h6v6h-6zM327.6 385.6h6v6h-6zM347.9 376.9h6v6h-6zM298.6 376.9h6v6h-6z" fill="#0000b0" shape-rendering="crispEdges"/>
<rect x="232" y="165" width="183" height="148.6" fill="none" stroke="#000" stroke-width="3"/>
<rect x="109.6" y="40.6" width="381.8" height="381.3" fill="none" stroke="#222" stroke-width="1.6"/>
<path d="M104.1 333H109.6M104.1 317.3H109.6M104.1 304.9H109.6M104.1 295.1H109.6M104.1 287.1H109.6M104.1 280.4H109.6M104.1 274.6H109.6M104.1 269.5H109.6M104.1 265H109.6M104.1 231.9H109.6M104.1 214.9H109.6M104.1 202.9H109.6M101.6 193.5H109.6M104.1 185.9H109.6M104.1 179.4H109.6M104.1 173.8H109.6M104.1 168.9H109.6M104.1 138H109.6M104.1 122.5H109.6M104.1 111.5H109.6M101.6 103H109.6M104.1 96H109.6M104.1 90.1H109.6M104.1 85H109.6M104.1 80.5H109.6M104.1 50H109.6M104.1 371H109.6M104.1 386.7H109.6M104.1 399.1H109.6M104.1 408.9H109.6M104.1 416.9H109.6" stroke="#111" stroke-width="1.6" fill="none"/>
<path d="M98.6 260.9H109.6M98.6 164.5H109.6M98.6 76.5H109.6" stroke="#111" stroke-width="2.8" fill="none"/>
<path d="M198 421.9V427.4M215.4 421.9V427.4M228.4 421.9V427.4M238.4 421.9V427.4M246.6 421.9V427.4M253.4 421.9V427.4M259.2 421.9V427.4M264.3 421.9V427.4M268.8 421.9V427.4M300.6 421.9V427.4M316.8 421.9V427.4M328.3 421.9V427.4M337.2 421.9V429.9M344.5 421.9V427.4M350.7 421.9V427.4M356.1 421.9V427.4M360.8 421.9V427.4M391.6 421.9V427.4M407.1 421.9V427.4M418.1 421.9V427.4M426.6 421.9V429.9M433.6 421.9V427.4M439.5 421.9V427.4M444.7 421.9V427.4M449.2 421.9V427.4M479.8 421.9V427.4M136.6 421.9V427.4M123.6 421.9V427.4M113.6 421.9V427.4" stroke="#111" stroke-width="1.6" fill="none"/>
<path d="M272.8 421.9V432.9M365 421.9V432.9M453.2 421.9V432.9" stroke="#111" stroke-width="2.8" fill="none"/>
<path d="M103.8 338H109.6M103.8 340.3H109.6M103.8 342.7H109.6M103.8 347.3H109.6M103.8 349.7H109.6M103.8 352H109.6M103.8 354.3H109.6M103.8 356.7H109.6M103.8 359H109.6M103.8 361.3H109.6M103.8 363.7H109.6M103.8 366H109.6" stroke="#000" stroke-width="2" fill="none"/>
<path d="M99.1 338H109.6M99.1 366H109.6" stroke="#000" stroke-width="2.6" fill="none"/>
<path d="M99.1 352H109.6" stroke="#000" stroke-width="4" fill="none"/>
<path d="M149 421.9V427.7M154.3 421.9V427.7M157 421.9V427.7M159.7 421.9V427.7M165 421.9V427.7M167.7 421.9V427.7M170.3 421.9V427.7M173 421.9V427.7M175.7 421.9V427.7M178.3 421.9V427.7M181 421.9V427.7M186.3 421.9V427.7M189 421.9V427.7" stroke="#000" stroke-width="2" fill="none"/>
<path d="M150.4 421.9V432.4M187.6 421.9V432.4" stroke="#000" stroke-width="2.8" fill="none"/>
<path d="M169 421.9V432.4" stroke="#000" stroke-width="7" fill="none"/>
<text x="86.6" y="85.7" font-size="27" fill="#000" text-anchor="end" transform="matrix(1 0 0 1.04 0 -3.43)"><tspan>10</tspan><tspan dy="-12.7" font-size="18.4">5</tspan></text>
<text x="86.6" y="173.7" font-size="27" fill="#000" text-anchor="end" transform="matrix(1 0 0 1.04 0 -6.95)"><tspan>10</tspan><tspan dy="-12.7" font-size="18.4">4</tspan></text>
<text x="86.6" y="270.1" font-size="27" fill="#000" text-anchor="end" transform="matrix(1 0 0 1.04 0 -10.80)"><tspan>10</tspan><tspan dy="-12.7" font-size="18.4">3</tspan></text>
<text x="86.4" y="358.4" font-size="27" fill="#000" text-anchor="end" transform="matrix(1 0 0 1.04 0 -14.34)"><tspan>0</tspan></text>
<text x="273.8" y="470.4" font-size="27" fill="#000" text-anchor="middle" transform="matrix(1 0 0 1.04 0 -18.82)"><tspan>10</tspan><tspan dy="-12.7" font-size="18.4">3</tspan></text>
<text x="366" y="470.4" font-size="27" fill="#000" text-anchor="middle" transform="matrix(1 0 0 1.04 0 -18.82)"><tspan>10</tspan><tspan dy="-12.7" font-size="18.4">4</tspan></text>
<text x="454.2" y="470.4" font-size="27" fill="#000" text-anchor="middle" transform="matrix(1 0 0 1.04 0 -18.82)"><tspan>10</tspan><tspan dy="-12.7" font-size="18.4">5</tspan></text>
<text x="176.3" y="470.4" font-size="27" fill="#000" text-anchor="middle" transform="matrix(1 0 0 1.04 0 -18.82)"><tspan>0</tspan></text>
<text x="224" y="511" font-size="27" fill="#000" text-anchor="start" transform="matrix(1 0 0 1.04 0 -20.44)"><tspan>CD4</tspan><tspan dy="-12.2" font-size="18.4">+</tspan><tspan dy="12.2"> BV605</tspan></text>
<text x="22.3" y="229.5" font-size="27" fill="#000" text-anchor="middle" transform="rotate(-90 22.3 229.5) matrix(1 0 0 1.04 0 -9.18)"><tspan>CXCR5 PeCy7</tspan></text>
<text x="468.8" y="84.7" font-size="27" fill="#1010d0" text-anchor="end" transform="matrix(1 0 0 1.04 0 -3.39)"><tspan>TET</tspan><tspan dy="8.1" font-size="18.4">751</tspan><tspan dy="-18.4" font-size="18.4">+</tspan></text>
<text x="462" y="124.8" font-size="27" fill="#777" text-anchor="end" transform="matrix(1 0 0 1.04 0 -4.99)"><tspan>Bulk CD4</tspan><tspan dy="-12.2" font-size="18.4">+</tspan><tspan dy="12.2"> T</tspan><tspan dy="8.1" font-size="18.4">M</tspan></text>
<text x="221" y="204.8" font-size="27" fill="#1010d0" text-anchor="end" transform="matrix(1 0 0 1.04 0 -8.19)"><tspan>18.38%</tspan></text>
<text x="221" y="233.8" font-size="27" fill="#777" text-anchor="end" transform="matrix(1 0 0 1.04 0 -9.35)"><tspan>12.62%</tspan></text>
<defs><radialGradient id="pc" cx="50%" cy="50%" r="50%">
<stop offset="0" stop-color="#ff1000"/><stop offset="0.27" stop-color="#ff2000"/><stop offset="0.33" stop-color="#ff9000"/>
<stop offset="0.39" stop-color="#e8f000"/><stop offset="0.46" stop-color="#50ff00"/><stop offset="0.53" stop-color="#00ff50"/>
<stop offset="0.62" stop-color="#00ffff"/><stop offset="0.72" stop-color="#0090ff"/><stop offset="0.84" stop-color="#0040ff"/><stop offset="0.97" stop-color="#0000ff"/>
</radialGradient></defs>
<polygon points="791,362.8 794,360.8 798,359.8 798,355.8 805,352.8 833,352.8 839,355.8 841,359.8 845,360.8 845,404.3 842,406.3 838,407.3 833,410.3 802,410.3 799,407.3 794,406.3 791,404.3" fill="#0000ff"/>
<circle cx="818.3" cy="384.3" r="24" fill="url(#pc)"/>
<polygon points="886.8,363 889.8,361 893.8,360 893.8,356 900.8,353 928.9,353 934.9,356 936.9,360 940.9,361 940.9,404.5 937.9,406.5 933.9,407.5 928.9,410.5 897.8,410.5 894.8,407.5 889.8,406.5 886.8,404.5" fill="#0000ff"/>
<circle cx="913.8" cy="384.5" r="24" fill="url(#pc)"/>
<polygon points="982.8,363 985.8,361 989.8,360 989.8,356 996.8,353 1024.9,353 1030.9,356 1032.9,360 1036.9,361 1036.9,404.5 1033.9,406.5 1029.9,407.5 1024.9,410.5 993.8,410.5 990.8,407.5 985.8,406.5 982.8,404.5" fill="#0000ff"/>
<ellipse cx="1009.8" cy="384.5" rx="26.9" ry="24" fill="url(#pc)"/>
<path d="M990.1 412.6h5.8v5.8h-5.8zM1012.6 403.6h5.8v5.8h-5.8zM1003.6 411.1h5.8v5.8h-5.8zM988.6 411.1h5.8v5.8h-5.8zM994.6 405.1h5.8v5.8h-5.8zM1020.1 403.6h5.8v5.8h-5.8zM997.6 412.6h5.8v5.8h-5.8zM999.1 402.1h5.8v5.8h-5.8zM1015.6 406.6h5.8v5.8h-5.8zM999.1 417.1h5.8v5.8h-5.8zM1018.6 417.1h5.8v5.8h-5.8zM999.1 414.1h5.8v5.8h-5.8zM1014.1 405.1h5.8v5.8h-5.8zM1018.6 403.6h5.8v5.8h-5.8zM1008.1 406.6h5.8v5.8h-5.8zM993.1 405.1h5.8v5.8h-5.8zM1017.1 405.1h5.8v5.8h-5.8zM996.1 405.1h5.8v5.8h-5.8zM1018.6 415.6h5.8v5.8h-5.8zM994.6 411.1h5.8v5.8h-5.8zM990.1 409.6h5.8v5.8h-5.8zM985.6 414.1h5.8v5.8h-5.8zM1006.6 406.6h5.8v5.8h-5.8zM985.6 418.6h5.8v5.8h-5.8zM990.1 408.1h5.8v5.8h-5.8zM985.6 408.1h5.8v5.8h-5.8zM999.1 411.1h5.8v5.8h-5.8zM996.1 406.6h5.8v5.8h-5.8zM1012.6 406.6h5.8v5.8h-5.8zM996.1 411.1h5.8v5.8h-5.8zM994.6 414.1h5.8v5.8h-5.8zM988.6 408.1h5.8v5.8h-5.8zM999.1 406.6h5.8v5.8h-5.8zM1014.1 408.1h5.8v5.8h-5.8zM999.1 409.6h5.8v5.8h-5.8zM1014.1 418.6h5.8v5.8h-5.8zM996.1 420.1h5.8v5.8h-5.8zM1011.1 421.6h5.8v5.8h-5.8zM996.1 418.6h5.8v5.8h-5.8zM1006.6 430.6h5.8v5.8h-5.8zM1014.1 424.6h5.8v5.8h-5.8zM1002.1 430.6h5.8v5.8h-5.8zM1008.1 430.6h5.8v5.8h-5.8zM1008.1 427.6h5.8v5.8h-5.8zM1008.1 418.6h5.8v5.8h-5.8zM1015.6 430.6h5.8v5.8h-5.8zM1006.6 418.6h5.8v5.8h-5.8zM993.1 423.1h5.8v5.8h-5.8zM1000.6 420.1h5.8v5.8h-5.8zM999.1 349.6h5.8v5.8h-5.8zM1011.1 342.1h5.8v5.8h-5.8zM1002.1 345.1h5.8v5.8h-5.8zM1006.6 348.1h5.8v5.8h-5.8zM1005.1 351.1h5.8v5.8h-5.8zM1003.6 345.1h5.8v5.8h-5.8zM1011.1 351.1h5.8v5.8h-5.8zM1012.6 343.6h5.8v5.8h-5.8zM1000.6 346.6h5.8v5.8h-5.8zM1014.1 348.1h5.8v5.8h-5.8zM817.6 343.6h5.8v5.8h-5.8zM825.1 342.1h5.8v5.8h-5.8zM817.6 349.6h5.8v5.8h-5.8zM822.1 351.1h5.8v5.8h-5.8zM814.6 343.6h5.8v5.8h-5.8zM825.1 346.6h5.8v5.8h-5.8zM811.6 342.1h5.8v5.8h-5.8zM916.6 340.6h5.8v5.8h-5.8zM916.6 352.6h5.8v5.8h-5.8zM916.6 348.1h5.8v5.8h-5.8zM921.1 348.1h5.8v5.8h-5.8zM915.1 336.1h5.8v5.8h-5.8zM918.1 349.6h5.8v5.8h-5.8zM921.1 336.1h5.8v5.8h-5.8zM909.1 345.1h5.8v5.8h-5.8zM906.1 403.6h5.8v5.8h-5.8zM903.1 408.1h5.8v5.8h-5.8zM909.1 409.6h5.8v5.8h-5.8zM894.1 417.1h5.8v5.8h-5.8zM897.1 411.1h5.8v5.8h-5.8zM894.1 408.1h5.8v5.8h-5.8zM894.1 406.6h5.8v5.8h-5.8zM901.6 408.1h5.8v5.8h-5.8zM924.1 424.6h5.8v5.8h-5.8zM922.6 402.1h5.8v5.8h-5.8zM928.6 406.6h5.8v5.8h-5.8zM919.6 415.6h5.8v5.8h-5.8zM924.1 411.1h5.8v5.8h-5.8zM921.1 417.1h5.8v5.8h-5.8zM814.6 405.1h5.8v5.8h-5.8zM813.1 405.1h5.8v5.8h-5.8zM810.1 408.1h5.8v5.8h-5.8zM816.1 405.1h5.8v5.8h-5.8zM822.1 409.6h5.8v5.8h-5.8z" fill="#0000ff" shape-rendering="crispEdges"/>
<path d="M813.1 157.1h5.8v5.8h-5.8zM821.1 161.1h5.8v5.8h-5.8zM803.1 168.1h5.8v5.8h-5.8zM812.1 167.1h5.8v5.8h-5.8zM821.1 168.1h5.8v5.8h-5.8zM813.1 172.1h5.8v5.8h-5.8zM810.1 174.1h5.8v5.8h-5.8zM816.1 171.1h5.8v5.8h-5.8zM813.1 188.1h5.8v5.8h-5.8zM806.1 192.1h5.8v5.8h-5.8zM824.1 191.1h5.8v5.8h-5.8zM807.1 201.1h5.8v5.8h-5.8zM821.1 207.1h5.8v5.8h-5.8zM812.1 212.1h5.8v5.8h-5.8zM812.1 251.1h5.8v5.8h-5.8zM817.1 163.1h5.8v5.8h-5.8zM809.1 180.1h5.8v5.8h-5.8zM907.1 185.1h5.8v5.8h-5.8zM905.1 198.1h5.8v5.8h-5.8zM899.1 203.1h5.8v5.8h-5.8zM908.1 205.1h5.8v5.8h-5.8zM905.1 227.1h5.8v5.8h-5.8zM990.1 194.1h5.8v5.8h-5.8zM1004.1 198.1h5.8v5.8h-5.8zM1010.1 210.1h5.8v5.8h-5.8zM1013.1 212.1h5.8v5.8h-5.8zM1031.1 174.1h5.8v5.8h-5.8zM800.1 281.1h5.8v5.8h-5.8zM815.1 284.1h5.8v5.8h-5.8zM819.1 284.1h5.8v5.8h-5.8zM816.1 292.1h5.8v5.8h-5.8zM822.1 296.1h5.8v5.8h-5.8zM803.1 302.1h5.8v5.8h-5.8zM826.1 307.1h5.8v5.8h-5.8zM833.1 320.1h5.8v5.8h-5.8zM813.1 324.1h5.8v5.8h-5.8zM810.1 328.1h5.8v5.8h-5.8zM817.1 329.1h5.8v5.8h-5.8zM803.1 336.1h5.8v5.8h-5.8zM839.1 334.1h5.8v5.8h-5.8zM821.1 344.1h5.8v5.8h-5.8zM812.1 326.1h5.8v5.8h-5.8zM815.1 332.1h5.8v5.8h-5.8zM807.1 333.1h5.8v5.8h-5.8zM909.1 316.1h5.8v5.8h-5.8zM917.1 329.1h5.8v5.8h-5.8zM913.1 337.1h5.8v5.8h-5.8zM915.1 343.1h5.8v5.8h-5.8zM911.1 348.1h5.8v5.8h-5.8zM921.1 350.1h5.8v5.8h-5.8zM913.1 353.1h5.8v5.8h-5.8zM903.1 429.1h5.8v5.8h-5.8zM920.1 433.1h5.8v5.8h-5.8zM897.1 422.1h5.8v5.8h-5.8zM923.1 417.1h5.8v5.8h-5.8zM902.1 414.1h5.8v5.8h-5.8zM928.1 408.1h5.8v5.8h-5.8zM894.1 405.1h5.8v5.8h-5.8zM907.1 410.1h5.8v5.8h-5.8zM917.1 423.1h5.8v5.8h-5.8zM895.1 416.1h5.8v5.8h-5.8zM1007.1 286.1h5.8v5.8h-5.8zM995.1 310.1h5.8v5.8h-5.8zM1016.1 339.1h5.8v5.8h-5.8zM1007.1 345.1h5.8v5.8h-5.8zM1002.1 342.1h5.8v5.8h-5.8zM1011.1 344.1h5.8v5.8h-5.8zM989.1 426.1h5.8v5.8h-5.8zM998.1 430.1h5.8v5.8h-5.8zM1010.1 432.1h5.8v5.8h-5.8zM1015.1 423.1h5.8v5.8h-5.8zM1019.1 411.1h5.8v5.8h-5.8zM997.1 419.1h5.8v5.8h-5.8zM985.1 400.1h5.8v5.8h-5.8zM992.1 412.1h5.8v5.8h-5.8zM1002.1 415.1h5.8v5.8h-5.8zM1007.1 422.1h5.8v5.8h-5.8zM1000.1 424.1h5.8v5.8h-5.8zM1012.1 417.1h5.8v5.8h-5.8zM993.1 421.1h5.8v5.8h-5.8zM1005.1 427.1h5.8v5.8h-5.8zM997.1 409.1h5.8v5.8h-5.8zM1009.1 409.1h5.8v5.8h-5.8zM987.1 407.1h5.8v5.8h-5.8zM817.1 411.1h5.8v5.8h-5.8zM823.1 413.1h5.8v5.8h-5.8zM809.1 407.1h5.8v5.8h-5.8z" fill="#0000ff" shape-rendering="crispEdges"/>
<rect x="783" y="116.7" width="62.5" height="139.6" fill="none" stroke="#000" stroke-width="3"/>
<rect x="878.1" y="116.7" width="63.5" height="139.6" fill="none" stroke="#000" stroke-width="3"/>
<rect x="975.9" y="116.7" width="63" height="139.6" fill="none" stroke="#000" stroke-width="3"/>
<rect x="722.4" y="58.4" width="383.8" height="384.8" fill="none" stroke="#222" stroke-width="1.6"/>
<path d="M716.9 355.1H722.4M716.9 334.4H722.4M716.9 320.1H722.4M716.9 309.6H722.4M716.9 301.2H722.4M716.9 294.2H722.4M716.9 288.3H722.4M716.9 283.2H722.4M716.9 278.7H722.4M716.9 246.8H722.4M716.9 230.5H722.4M716.9 218.9H722.4M714.4 209.9H722.4M716.9 202.6H722.4M716.9 196.4H722.4M716.9 191.1H722.4M716.9 186.3H722.4M716.9 155.7H722.4M716.9 140.2H722.4M716.9 129.2H722.4M714.4 120.7H722.4M716.9 113.8H722.4M716.9 107.9H722.4M716.9 102.8H722.4M716.9 98.3H722.4M716.9 67.9H722.4M716.9 415.7H722.4M716.9 436.4H722.4" stroke="#111" stroke-width="1.6" fill="none"/>
<path d="M711.4 274.6H722.4M711.4 182.1H722.4M711.4 94.3H722.4" stroke="#111" stroke-width="2.8" fill="none"/>
<path d="M716.6 363.5H722.4M716.6 365.8H722.4M716.6 370.2H722.4M716.6 372.5H722.4M716.6 374.8H722.4M716.6 377H722.4M716.6 379.2H722.4M716.6 381.5H722.4M716.6 386H722.4M716.6 388.2H722.4M716.6 390.5H722.4M716.6 392.8H722.4M716.6 395H722.4M716.6 397.2H722.4M716.6 401.8H722.4M716.6 404H722.4M716.6 406.2H722.4M716.6 408.5H722.4" stroke="#000" stroke-width="2" fill="none"/>
<path d="M711.9 363.5H722.4M711.9 408.5H722.4" stroke="#000" stroke-width="2.6" fill="none"/>
<path d="M711.9 386H722.4" stroke="#000" stroke-width="4" fill="none"/>
<text x="699" y="103.5" font-size="27" fill="#000" text-anchor="end" transform="matrix(1 0 0 1.04 0 -4.14)"><tspan>10</tspan><tspan dy="-12.7" font-size="18.4">5</tspan></text>
<text x="699" y="191.3" font-size="27" fill="#000" text-anchor="end" transform="matrix(1 0 0 1.04 0 -7.65)"><tspan>10</tspan><tspan dy="-12.7" font-size="18.4">4</tspan></text>
<text x="699" y="283.8" font-size="27" fill="#000" text-anchor="end" transform="matrix(1 0 0 1.04 0 -11.35)"><tspan>10</tspan><tspan dy="-12.7" font-size="18.4">3</tspan></text>
<text x="699" y="392" font-size="27" fill="#000" text-anchor="end" transform="matrix(1 0 0 1.04 0 -15.68)"><tspan>0</tspan></text>
<text x="813.8" y="477" font-size="27" fill="#000" text-anchor="middle" transform="matrix(1 0 0 1.04 0 -19.08)"><tspan>41</tspan></text>
<text x="907.7" y="477" font-size="27" fill="#000" text-anchor="middle" transform="matrix(1 0 0 1.04 0 -19.08)"><tspan>201</tspan></text>
<text x="1009.3" y="477" font-size="27" fill="#000" text-anchor="middle" transform="matrix(1 0 0 1.04 0 -19.08)"><tspan>406</tspan></text>
<text x="736.5" y="516" font-size="27" fill="#000" text-anchor="start" transform="matrix(1 0 0 1.04 0 -20.64)"><tspan>Time after symptom onset (d)</tspan></text>
<text x="833.6" y="41.8" font-size="27" fill="#000" text-anchor="start" transform="matrix(1 0 0 1.04 0 -1.67)"><tspan>Gate: cT</tspan><tspan dy="8.1" font-size="18.4">FH</tspan></text>
<text x="756.7" y="101.6" font-size="27" fill="#000" text-anchor="start" transform="matrix(1 0 0 1.04 0 -4.06)"><tspan>0.053%</tspan></text>
<text x="868.3" y="101.6" font-size="27" fill="#000" text-anchor="start" transform="matrix(1 0 0 1.04 0 -4.06)"><tspan>0.021%</tspan></text>
<text x="976.1" y="101.6" font-size="27" fill="#000" text-anchor="start" transform="matrix(1 0 0 1.04 0 -4.06)"><tspan>0.015%</tspan></text>
<text x="631.3" y="251.8" font-size="27" fill="#000" text-anchor="middle" transform="rotate(-90 631.3 251.8) matrix(1 0 0 1.04 0 -10.07)"><tspan>S</tspan><tspan dy="8.1" font-size="18.4">751</tspan><tspan dy="-8.1"> PE</tspan></text>
<path d="M1455 276.1h5.9v5.9h-5.9zM1452 258.1h5.9v5.9h-5.9zM1449 306.1h5.9v5.9h-5.9zM1470 282.1h5.9v5.9h-5.9zM1443 222.1h5.9v5.9h-5.9zM1470 249.1h5.9v5.9h-5.9zM1455 261.1h5.9v5.9h-5.9zM1446 273.1h5.9v5.9h-5.9zM1458 267.1h5.9v5.9h-5.9zM1452 267.1h5.9v5.9h-5.9zM1452 279.1h5.9v5.9h-5.9zM1470 279.1h5.9v5.9h-5.9zM1464 270.1h5.9v5.9h-5.9zM1428 276.1h5.9v5.9h-5.9zM1455 255.1h5.9v5.9h-5.9zM1455 216.1h5.9v5.9h-5.9zM1452 270.1h5.9v5.9h-5.9zM1476 237.1h5.9v5.9h-5.9zM1449 291.1h5.9v5.9h-5.9zM1449 309.1h5.9v5.9h-5.9zM1461 228.1h5.9v5.9h-5.9zM1470 300.1h5.9v5.9h-5.9zM1443 294.1h5.9v5.9h-5.9zM1455 294.1h5.9v5.9h-5.9zM1455 210.1h5.9v5.9h-5.9zM1464 279.1h5.9v5.9h-5.9zM1482 300.1h5.9v5.9h-5.9zM1467 246.1h5.9v5.9h-5.9zM1452 246.1h5.9v5.9h-5.9zM1449 246.1h5.9v5.9h-5.9zM1431 258.1h5.9v5.9h-5.9zM1458 321.1h5.9v5.9h-5.9zM1467 240.1h5.9v5.9h-5.9zM1464 219.1h5.9v5.9h-5.9zM1452 204.1h5.9v5.9h-5.9zM1476 270.1h5.9v5.9h-5.9zM1446 252.1h5.9v5.9h-5.9zM1470 267.1h5.9v5.9h-5.9zM1464 231.1h5.9v5.9h-5.9zM1452 255.1h5.9v5.9h-5.9zM1470 231.1h5.9v5.9h-5.9zM1446 285.1h5.9v5.9h-5.9zM1449 282.1h5.9v5.9h-5.9zM1461 276.1h5.9v5.9h-5.9zM1479 273.1h5.9v5.9h-5.9zM1467 228.1h5.9v5.9h-5.9zM1476 291.1h5.9v5.9h-5.9zM1485 261.1h5.9v5.9h-5.9zM1461 279.1h5.9v5.9h-5.9zM1458 252.1h5.9v5.9h-5.9zM1446 279.1h5.9v5.9h-5.9zM1446 267.1h5.9v5.9h-5.9zM1443 282.1h5.9v5.9h-5.9zM1449 276.1h5.9v5.9h-5.9zM1443 240.1h5.9v5.9h-5.9zM1473 231.1h5.9v5.9h-5.9zM1461 240.1h5.9v5.9h-5.9zM1434 261.1h5.9v5.9h-5.9zM1464 222.1h5.9v5.9h-5.9zM1449 252.1h5.9v5.9h-5.9zM1452 315.1h5.9v5.9h-5.9zM1443 273.1h5.9v5.9h-5.9zM1470 201.1h5.9v5.9h-5.9zM1440 267.1h5.9v5.9h-5.9zM1455 264.1h5.9v5.9h-5.9zM1473 243.1h5.9v5.9h-5.9zM1461 258.1h5.9v5.9h-5.9zM1443 300.1h5.9v5.9h-5.9zM1470 276.1h5.9v5.9h-5.9zM1446 243.1h5.9v5.9h-5.9zM1452 243.1h5.9v5.9h-5.9zM1446 264.1h5.9v5.9h-5.9zM1461 264.1h5.9v5.9h-5.9zM1452 288.1h5.9v5.9h-5.9zM1452 252.1h5.9v5.9h-5.9zM1470 246.1h5.9v5.9h-5.9zM1455 234.1h5.9v5.9h-5.9zM1452 234.1h5.9v5.9h-5.9zM1464 240.1h5.9v5.9h-5.9zM1440 270.1h5.9v5.9h-5.9zM1452 264.1h5.9v5.9h-5.9zM1464 285.1h5.9v5.9h-5.9zM1470 237.1h5.9v5.9h-5.9zM1458 219.1h5.9v5.9h-5.9zM1476 264.1h5.9v5.9h-5.9zM1437 294.1h5.9v5.9h-5.9zM1461 270.1h5.9v5.9h-5.9zM1464 210.1h5.9v5.9h-5.9zM1470 240.1h5.9v5.9h-5.9zM1455 300.1h5.9v5.9h-5.9zM1470 243.1h5.9v5.9h-5.9zM1440 258.1h5.9v5.9h-5.9zM1464 252.1h5.9v5.9h-5.9zM1446 231.1h5.9v5.9h-5.9zM1446 258.1h5.9v5.9h-5.9zM1467 282.1h5.9v5.9h-5.9zM1458 309.1h5.9v5.9h-5.9zM1440 252.1h5.9v5.9h-5.9zM1473 309.1h5.9v5.9h-5.9zM1473 273.1h5.9v5.9h-5.9zM1461 237.1h5.9v5.9h-5.9zM1458 270.1h5.9v5.9h-5.9zM1449 279.1h5.9v5.9h-5.9zM1449 204.1h5.9v5.9h-5.9zM1449 207.1h5.9v5.9h-5.9zM1443 285.1h5.9v5.9h-5.9zM1458 258.1h5.9v5.9h-5.9zM1473 288.1h5.9v5.9h-5.9zM1464 216.1h5.9v5.9h-5.9zM1449 249.1h5.9v5.9h-5.9zM1467 243.1h5.9v5.9h-5.9zM1458 279.1h5.9v5.9h-5.9zM1476 273.1h5.9v5.9h-5.9zM1455 240.1h5.9v5.9h-5.9zM1476 249.1h5.9v5.9h-5.9zM1449 267.1h5.9v5.9h-5.9zM1479 255.1h5.9v5.9h-5.9zM1473 240.1h5.9v5.9h-5.9zM1458 303.1h5.9v5.9h-5.9zM1446 297.1h5.9v5.9h-5.9zM1467 270.1h5.9v5.9h-5.9zM1461 207.1h5.9v5.9h-5.9zM1464 225.1h5.9v5.9h-5.9zM1488 246.1h5.9v5.9h-5.9zM1461 222.1h5.9v5.9h-5.9zM1455 219.1h5.9v5.9h-5.9zM1464 234.1h5.9v5.9h-5.9zM1455 279.1h5.9v5.9h-5.9zM1452 294.1h5.9v5.9h-5.9zM1458 231.1h5.9v5.9h-5.9zM1461 285.1h5.9v5.9h-5.9zM1443 279.1h5.9v5.9h-5.9zM1443 231.1h5.9v5.9h-5.9zM1440 309.1h5.9v5.9h-5.9zM1461 261.1h5.9v5.9h-5.9zM1452 282.1h5.9v5.9h-5.9zM1437 255.1h5.9v5.9h-5.9zM1482 243.1h5.9v5.9h-5.9zM1449 255.1h5.9v5.9h-5.9zM1470 258.1h5.9v5.9h-5.9zM1464 243.1h5.9v5.9h-5.9zM1461 255.1h5.9v5.9h-5.9zM1467 273.1h5.9v5.9h-5.9zM1449 198.1h5.9v5.9h-5.9zM1446 240.1h5.9v5.9h-5.9zM1458 249.1h5.9v5.9h-5.9zM1452 297.1h5.9v5.9h-5.9zM1470 264.1h5.9v5.9h-5.9zM1455 315.1h5.9v5.9h-5.9zM1449 216.1h5.9v5.9h-5.9zM1464 282.1h5.9v5.9h-5.9zM1473 255.1h5.9v5.9h-5.9zM1470 225.1h5.9v5.9h-5.9zM1461 234.1h5.9v5.9h-5.9zM1461 273.1h5.9v5.9h-5.9zM1443 252.1h5.9v5.9h-5.9zM1461 249.1h5.9v5.9h-5.9zM1464 246.1h5.9v5.9h-5.9zM1458 213.1h5.9v5.9h-5.9zM1455 249.1h5.9v5.9h-5.9zM1461 210.1h5.9v5.9h-5.9zM1443 246.1h5.9v5.9h-5.9zM1464 264.1h5.9v5.9h-5.9zM1470 288.1h5.9v5.9h-5.9zM1449 228.1h5.9v5.9h-5.9zM1461 252.1h5.9v5.9h-5.9zM1461 303.1h5.9v5.9h-5.9zM1470 270.1h5.9v5.9h-5.9zM1467 255.1h5.9v5.9h-5.9zM1470 261.1h5.9v5.9h-5.9zM1467 198.1h5.9v5.9h-5.9zM1473 315.1h5.9v5.9h-5.9zM1449 261.1h5.9v5.9h-5.9zM1449 273.1h5.9v5.9h-5.9zM1473 198.1h5.9v5.9h-5.9zM1443 237.1h5.9v5.9h-5.9zM1458 282.1h5.9v5.9h-5.9zM1482 270.1h5.9v5.9h-5.9zM1464 273.1h5.9v5.9h-5.9zM1488 273.1h5.9v5.9h-5.9zM1464 294.1h5.9v5.9h-5.9zM1479 294.1h5.9v5.9h-5.9zM1467 276.1h5.9v5.9h-5.9zM1446 261.1h5.9v5.9h-5.9zM1467 258.1h5.9v5.9h-5.9zM1476 285.1h5.9v5.9h-5.9zM1449 270.1h5.9v5.9h-5.9zM1479 249.1h5.9v5.9h-5.9zM1473 264.1h5.9v5.9h-5.9zM1467 303.1h5.9v5.9h-5.9zM1464 291.1h5.9v5.9h-5.9zM1443 276.1h5.9v5.9h-5.9zM1458 261.1h5.9v5.9h-5.9zM1476 204.1h5.9v5.9h-5.9zM1458 234.1h5.9v5.9h-5.9zM1467 279.1h5.9v5.9h-5.9zM1443 261.1h5.9v5.9h-5.9zM1467 237.1h5.9v5.9h-5.9zM1470 198.1h5.9v5.9h-5.9zM1440 216.1h5.9v5.9h-5.9zM1446 219.1h5.9v5.9h-5.9zM1482 189.1h5.9v5.9h-5.9zM1458 291.1h5.9v5.9h-5.9zM1458 276.1h5.9v5.9h-5.9zM1473 228.1h5.9v5.9h-5.9zM1467 261.1h5.9v5.9h-5.9zM1470 291.1h5.9v5.9h-5.9zM1455 213.1h5.9v5.9h-5.9zM1464 300.1h5.9v5.9h-5.9zM1485 225.1h5.9v5.9h-5.9zM1476 228.1h5.9v5.9h-5.9zM1452 210.1h5.9v5.9h-5.9zM1455 282.1h5.9v5.9h-5.9zM1437 207.1h5.9v5.9h-5.9zM1434 228.1h5.9v5.9h-5.9zM1464 258.1h5.9v5.9h-5.9zM1434 243.1h5.9v5.9h-5.9zM1458 237.1h5.9v5.9h-5.9zM1455 225.1h5.9v5.9h-5.9zM1437 204.1h5.9v5.9h-5.9zM1437 276.1h5.9v5.9h-5.9zM1467 210.1h5.9v5.9h-5.9zM1446 213.1h5.9v5.9h-5.9zM1446 276.1h5.9v5.9h-5.9zM1449 258.1h5.9v5.9h-5.9zM1452 219.1h5.9v5.9h-5.9zM1479 237.1h5.9v5.9h-5.9zM1458 288.1h5.9v5.9h-5.9zM1452 231.1h5.9v5.9h-5.9zM1464 249.1h5.9v5.9h-5.9zM1467 216.1h5.9v5.9h-5.9zM1458 255.1h5.9v5.9h-5.9zM1452 240.1h5.9v5.9h-5.9zM1449 222.1h5.9v5.9h-5.9zM1452 237.1h5.9v5.9h-5.9zM1461 267.1h5.9v5.9h-5.9zM1467 249.1h5.9v5.9h-5.9zM1455 273.1h5.9v5.9h-5.9zM1473 261.1h5.9v5.9h-5.9zM1440 225.1h5.9v5.9h-5.9zM1440 231.1h5.9v5.9h-5.9zM1449 213.1h5.9v5.9h-5.9zM1443 228.1h5.9v5.9h-5.9zM1473 216.1h5.9v5.9h-5.9zM1467 252.1h5.9v5.9h-5.9zM1470 285.1h5.9v5.9h-5.9zM1482 225.1h5.9v5.9h-5.9zM1437 231.1h5.9v5.9h-5.9zM1443 225.1h5.9v5.9h-5.9zM1470 273.1h5.9v5.9h-5.9zM1437 243.1h5.9v5.9h-5.9zM1464 261.1h5.9v5.9h-5.9zM1470 216.1h5.9v5.9h-5.9zM1461 219.1h5.9v5.9h-5.9zM1443 267.1h5.9v5.9h-5.9zM1458 207.1h5.9v5.9h-5.9zM1476 279.1h5.9v5.9h-5.9zM1467 204.1h5.9v5.9h-5.9zM1458 264.1h5.9v5.9h-5.9zM1452 285.1h5.9v5.9h-5.9zM1479 225.1h5.9v5.9h-5.9zM1461 243.1h5.9v5.9h-5.9zM1479 267.1h5.9v5.9h-5.9zM1455 243.1h5.9v5.9h-5.9zM1482 228.1h5.9v5.9h-5.9zM1446 195.1h5.9v5.9h-5.9zM1461 315.1h5.9v5.9h-5.9zM1455 252.1h5.9v5.9h-5.9zM1443 219.1h5.9v5.9h-5.9zM1455 231.1h5.9v5.9h-5.9zM1437 261.1h5.9v5.9h-5.9zM1449 219.1h5.9v5.9h-5.9zM1458 240.1h5.9v5.9h-5.9zM1434 249.1h5.9v5.9h-5.9zM1479 276.1h5.9v5.9h-5.9zM1449 243.1h5.9v5.9h-5.9zM1461 204.1h5.9v5.9h-5.9zM1482 249.1h5.9v5.9h-5.9zM1449 192.1h5.9v5.9h-5.9zM1476 243.1h5.9v5.9h-5.9zM1458 192.1h5.9v5.9h-5.9zM1464 276.1h5.9v5.9h-5.9zM1461 297.1h5.9v5.9h-5.9zM1461 198.1h5.9v5.9h-5.9zM1455 267.1h5.9v5.9h-5.9zM1467 231.1h5.9v5.9h-5.9zM1440 198.1h5.9v5.9h-5.9zM1476 246.1h5.9v5.9h-5.9zM1440 285.1h5.9v5.9h-5.9zM1437 237.1h5.9v5.9h-5.9zM1461 231.1h5.9v5.9h-5.9zM1476 222.1h5.9v5.9h-5.9zM1461 225.1h5.9v5.9h-5.9zM1440 234.1h5.9v5.9h-5.9zM1446 201.1h5.9v5.9h-5.9zM1473 237.1h5.9v5.9h-5.9zM1452 222.1h5.9v5.9h-5.9zM1455 246.1h5.9v5.9h-5.9zM1467 264.1h5.9v5.9h-5.9zM1470 252.1h5.9v5.9h-5.9zM1479 210.1h5.9v5.9h-5.9zM1455 297.1h5.9v5.9h-5.9zM1455 207.1h5.9v5.9h-5.9zM1473 267.1h5.9v5.9h-5.9zM1446 216.1h5.9v5.9h-5.9zM1458 273.1h5.9v5.9h-5.9zM1452 216.1h5.9v5.9h-5.9zM1476 276.1h5.9v5.9h-5.9zM1452 276.1h5.9v5.9h-5.9zM1503 270.1h5.9v5.9h-5.9zM1458 225.1h5.9v5.9h-5.9zM1470 207.1h5.9v5.9h-5.9zM1446 294.1h5.9v5.9h-5.9zM1443 264.1h5.9v5.9h-5.9zM1461 213.1h5.9v5.9h-5.9zM1455 288.1h5.9v5.9h-5.9zM1455 258.1h5.9v5.9h-5.9zM1485 264.1h5.9v5.9h-5.9zM1458 243.1h5.9v5.9h-5.9zM1443 216.1h5.9v5.9h-5.9zM1452 225.1h5.9v5.9h-5.9zM1455 222.1h5.9v5.9h-5.9zM1437 273.1h5.9v5.9h-5.9zM1449 234.1h5.9v5.9h-5.9zM1446 222.1h5.9v5.9h-5.9zM1446 246.1h5.9v5.9h-5.9zM1434 219.1h5.9v5.9h-5.9zM1461 282.1h5.9v5.9h-5.9zM1470 210.1h5.9v5.9h-5.9zM1455 303.1h5.9v5.9h-5.9zM1470 228.1h5.9v5.9h-5.9zM1485 201.1h5.9v5.9h-5.9zM1452 249.1h5.9v5.9h-5.9zM1470 255.1h5.9v5.9h-5.9zM1467 309.1h5.9v5.9h-5.9zM1437 246.1h5.9v5.9h-5.9zM1470 219.1h5.9v5.9h-5.9zM1455 309.1h5.9v5.9h-5.9zM1473 285.1h5.9v5.9h-5.9zM1452 273.1h5.9v5.9h-5.9zM1464 255.1h5.9v5.9h-5.9zM1449 294.1h5.9v5.9h-5.9zM1449 264.1h5.9v5.9h-5.9zM1482 246.1h5.9v5.9h-5.9zM1458 222.1h5.9v5.9h-5.9zM1440 243.1h5.9v5.9h-5.9zM1449 300.1h5.9v5.9h-5.9zM1467 285.1h5.9v5.9h-5.9zM1485 246.1h5.9v5.9h-5.9zM1476 300.1h5.9v5.9h-5.9zM1455 333.1h5.9v5.9h-5.9zM1455 237.1h5.9v5.9h-5.9zM1458 246.1h5.9v5.9h-5.9zM1449 231.1h5.9v5.9h-5.9zM1461 294.1h5.9v5.9h-5.9zM1464 198.1h5.9v5.9h-5.9zM1473 246.1h5.9v5.9h-5.9zM1470 234.1h5.9v5.9h-5.9zM1461 192.1h5.9v5.9h-5.9zM1449 297.1h5.9v5.9h-5.9zM1452 198.1h5.9v5.9h-5.9zM1434 294.1h5.9v5.9h-5.9zM1473 252.1h5.9v5.9h-5.9zM1434 276.1h5.9v5.9h-5.9zM1467 267.1h5.9v5.9h-5.9zM1455 270.1h5.9v5.9h-5.9zM1467 234.1h5.9v5.9h-5.9zM1440 255.1h5.9v5.9h-5.9zM1446 300.1h5.9v5.9h-5.9zM1458 294.1h5.9v5.9h-5.9zM1473 270.1h5.9v5.9h-5.9zM1473 294.1h5.9v5.9h-5.9zM1440 276.1h5.9v5.9h-5.9zM1452 261.1h5.9v5.9h-5.9zM1479 288.1h5.9v5.9h-5.9zM1479 246.1h5.9v5.9h-5.9zM1473 297.1h5.9v5.9h-5.9zM1434 237.1h5.9v5.9h-5.9zM1467 288.1h5.9v5.9h-5.9zM1464 213.1h5.9v5.9h-5.9zM1464 228.1h5.9v5.9h-5.9zM1437 291.1h5.9v5.9h-5.9zM1482 267.1h5.9v5.9h-5.9zM1452 228.1h5.9v5.9h-5.9zM1443 255.1h5.9v5.9h-5.9zM1437 315.1h5.9v5.9h-5.9zM1473 282.1h5.9v5.9h-5.9zM1437 258.1h5.9v5.9h-5.9zM1461 300.1h5.9v5.9h-5.9zM1458 300.1h5.9v5.9h-5.9zM1461 291.1h5.9v5.9h-5.9zM1458 201.1h5.9v5.9h-5.9zM1494 243.1h5.9v5.9h-5.9zM1440 228.1h5.9v5.9h-5.9zM1482 237.1h5.9v5.9h-5.9zM1467 300.1h5.9v5.9h-5.9zM1458 228.1h5.9v5.9h-5.9zM1446 255.1h5.9v5.9h-5.9zM1446 228.1h5.9v5.9h-5.9zM1476 288.1h5.9v5.9h-5.9zM1473 258.1h5.9v5.9h-5.9zM1455 228.1h5.9v5.9h-5.9zM1461 246.1h5.9v5.9h-5.9zM1449 285.1h5.9v5.9h-5.9zM1443 204.1h5.9v5.9h-5.9zM1452 207.1h5.9v5.9h-5.9zM1455 285.1h5.9v5.9h-5.9zM1452 213.1h5.9v5.9h-5.9zM1440 261.1h5.9v5.9h-5.9zM1470 306.1h5.9v5.9h-5.9zM1464 237.1h5.9v5.9h-5.9zM1476 303.1h5.9v5.9h-5.9zM1446 234.1h5.9v5.9h-5.9zM1479 282.1h5.9v5.9h-5.9zM1449 288.1h5.9v5.9h-5.9zM1455 192.1h5.9v5.9h-5.9zM1440 222.1h5.9v5.9h-5.9zM1461 201.1h5.9v5.9h-5.9zM1458 216.1h5.9v5.9h-5.9zM1476 192.1h5.9v5.9h-5.9zM1449 240.1h5.9v5.9h-5.9zM1455 312.1h5.9v5.9h-5.9zM1473 300.1h5.9v5.9h-5.9zM1452 300.1h5.9v5.9h-5.9zM1440 240.1h5.9v5.9h-5.9zM1494 246.1h5.9v5.9h-5.9zM1503 234.1h5.9v5.9h-5.9zM1497 279.1h5.9v5.9h-5.9zM1494 300.1h5.9v5.9h-5.9zM1509 240.1h5.9v5.9h-5.9zM1503 324.1h5.9v5.9h-5.9zM1521 264.1h5.9v5.9h-5.9zM1512 249.1h5.9v5.9h-5.9zM1482 282.1h5.9v5.9h-5.9zM1503 282.1h5.9v5.9h-5.9zM1500 276.1h5.9v5.9h-5.9zM1494 279.1h5.9v5.9h-5.9zM1512 264.1h5.9v5.9h-5.9zM1512 216.1h5.9v5.9h-5.9zM1491 306.1h5.9v5.9h-5.9zM1524 273.1h5.9v5.9h-5.9zM1500 231.1h5.9v5.9h-5.9zM1506 288.1h5.9v5.9h-5.9zM1506 279.1h5.9v5.9h-5.9zM1485 282.1h5.9v5.9h-5.9zM1482 309.1h5.9v5.9h-5.9zM1518 300.1h5.9v5.9h-5.9zM1491 330.1h5.9v5.9h-5.9zM1488 276.1h5.9v5.9h-5.9zM1515 204.1h5.9v5.9h-5.9zM1500 237.1h5.9v5.9h-5.9zM1503 237.1h5.9v5.9h-5.9zM1488 255.1h5.9v5.9h-5.9zM1485 312.1h5.9v5.9h-5.9zM1497 267.1h5.9v5.9h-5.9zM1509 291.1h5.9v5.9h-5.9zM1497 255.1h5.9v5.9h-5.9zM1500 291.1h5.9v5.9h-5.9zM1509 252.1h5.9v5.9h-5.9zM1473 327.1h5.9v5.9h-5.9zM1512 273.1h5.9v5.9h-5.9zM1503 252.1h5.9v5.9h-5.9zM1488 258.1h5.9v5.9h-5.9zM1497 249.1h5.9v5.9h-5.9zM1482 258.1h5.9v5.9h-5.9zM1506 252.1h5.9v5.9h-5.9zM1500 210.1h5.9v5.9h-5.9zM1497 264.1h5.9v5.9h-5.9zM1485 219.1h5.9v5.9h-5.9zM1506 243.1h5.9v5.9h-5.9zM1506 255.1h5.9v5.9h-5.9zM1509 258.1h5.9v5.9h-5.9zM1479 264.1h5.9v5.9h-5.9zM1497 285.1h5.9v5.9h-5.9zM1494 255.1h5.9v5.9h-5.9zM1512 300.1h5.9v5.9h-5.9zM1509 297.1h5.9v5.9h-5.9zM1512 279.1h5.9v5.9h-5.9zM1500 270.1h5.9v5.9h-5.9zM1530 267.1h5.9v5.9h-5.9zM1497 258.1h5.9v5.9h-5.9zM1500 273.1h5.9v5.9h-5.9zM1485 213.1h5.9v5.9h-5.9zM1503 222.1h5.9v5.9h-5.9zM1515 315.1h5.9v5.9h-5.9zM1500 267.1h5.9v5.9h-5.9zM1500 246.1h5.9v5.9h-5.9zM1494 216.1h5.9v5.9h-5.9zM1503 309.1h5.9v5.9h-5.9zM1503 276.1h5.9v5.9h-5.9zM1488 306.1h5.9v5.9h-5.9zM1491 288.1h5.9v5.9h-5.9zM1500 240.1h5.9v5.9h-5.9zM1512 267.1h5.9v5.9h-5.9zM1503 279.1h5.9v5.9h-5.9zM1500 255.1h5.9v5.9h-5.9zM1500 249.1h5.9v5.9h-5.9zM1494 267.1h5.9v5.9h-5.9zM1515 219.1h5.9v5.9h-5.9zM1503 204.1h5.9v5.9h-5.9zM1485 252.1h5.9v5.9h-5.9zM1500 243.1h5.9v5.9h-5.9zM1527 261.1h5.9v5.9h-5.9zM1488 315.1h5.9v5.9h-5.9zM1515 270.1h5.9v5.9h-5.9zM1509 273.1h5.9v5.9h-5.9zM1488 294.1h5.9v5.9h-5.9zM1503 240.1h5.9v5.9h-5.9zM1491 294.1h5.9v5.9h-5.9zM1509 270.1h5.9v5.9h-5.9zM1479 285.1h5.9v5.9h-5.9zM1512 291.1h5.9v5.9h-5.9zM1521 276.1h5.9v5.9h-5.9zM1509 312.1h5.9v5.9h-5.9zM1497 315.1h5.9v5.9h-5.9zM1524 288.1h5.9v5.9h-5.9zM1524 291.1h5.9v5.9h-5.9zM1488 300.1h5.9v5.9h-5.9zM1503 306.1h5.9v5.9h-5.9zM1506 249.1h5.9v5.9h-5.9zM1491 255.1h5.9v5.9h-5.9zM1494 249.1h5.9v5.9h-5.9zM1506 294.1h5.9v5.9h-5.9zM1524 300.1h5.9v5.9h-5.9zM1518 255.1h5.9v5.9h-5.9zM1509 276.1h5.9v5.9h-5.9zM1494 258.1h5.9v5.9h-5.9zM1503 288.1h5.9v5.9h-5.9zM1491 264.1h5.9v5.9h-5.9zM1479 204.1h5.9v5.9h-5.9zM1476 309.1h5.9v5.9h-5.9zM1521 318.1h5.9v5.9h-5.9zM1512 333.1h5.9v5.9h-5.9zM1509 246.1h5.9v5.9h-5.9zM1482 231.1h5.9v5.9h-5.9zM1530 252.1h5.9v5.9h-5.9zM1503 261.1h5.9v5.9h-5.9zM1494 234.1h5.9v5.9h-5.9zM1515 318.1h5.9v5.9h-5.9zM1506 264.1h5.9v5.9h-5.9zM1515 258.1h5.9v5.9h-5.9zM1482 255.1h5.9v5.9h-5.9zM1527 246.1h5.9v5.9h-5.9zM1473 324.1h5.9v5.9h-5.9zM1482 351.1h5.9v5.9h-5.9zM1488 324.1h5.9v5.9h-5.9zM1476 315.1h5.9v5.9h-5.9zM1500 327.1h5.9v5.9h-5.9zM1473 336.1h5.9v5.9h-5.9zM1467 327.1h5.9v5.9h-5.9zM1443 375.1h5.9v5.9h-5.9zM1485 348.1h5.9v5.9h-5.9zM1524 342.1h5.9v5.9h-5.9zM1491 345.1h5.9v5.9h-5.9zM1506 354.1h5.9v5.9h-5.9zM1485 339.1h5.9v5.9h-5.9zM1485 363.1h5.9v5.9h-5.9zM1437 342.1h5.9v5.9h-5.9zM1470 339.1h5.9v5.9h-5.9zM1437 357.1h5.9v5.9h-5.9zM1461 342.1h5.9v5.9h-5.9zM1470 315.1h5.9v5.9h-5.9zM1470 312.1h5.9v5.9h-5.9zM1461 339.1h5.9v5.9h-5.9zM1479 345.1h5.9v5.9h-5.9zM1476 381.1h5.9v5.9h-5.9zM1467 333.1h5.9v5.9h-5.9zM1476 333.1h5.9v5.9h-5.9zM1461 372.1h5.9v5.9h-5.9zM1482 339.1h5.9v5.9h-5.9zM1473 342.1h5.9v5.9h-5.9zM1509 354.1h5.9v5.9h-5.9zM1503 291.1h5.9v5.9h-5.9zM1488 363.1h5.9v5.9h-5.9zM1521 345.1h5.9v5.9h-5.9zM1443 354.1h5.9v5.9h-5.9zM1467 315.1h5.9v5.9h-5.9zM1467 363.1h5.9v5.9h-5.9zM1506 357.1h5.9v5.9h-5.9zM1458 387.1h5.9v5.9h-5.9zM1455 342.1h5.9v5.9h-5.9zM1449 366.1h5.9v5.9h-5.9zM1488 360.1h5.9v5.9h-5.9zM1482 342.1h5.9v5.9h-5.9zM1482 312.1h5.9v5.9h-5.9zM1500 360.1h5.9v5.9h-5.9zM1473 345.1h5.9v5.9h-5.9zM1485 372.1h5.9v5.9h-5.9zM1488 345.1h5.9v5.9h-5.9zM1470 318.1h5.9v5.9h-5.9zM1467 345.1h5.9v5.9h-5.9zM1476 345.1h5.9v5.9h-5.9zM1497 351.1h5.9v5.9h-5.9zM1485 357.1h5.9v5.9h-5.9zM1485 345.1h5.9v5.9h-5.9zM1491 315.1h5.9v5.9h-5.9zM1506 324.1h5.9v5.9h-5.9zM1497 345.1h5.9v5.9h-5.9zM1503 345.1h5.9v5.9h-5.9zM1461 363.1h5.9v5.9h-5.9zM1482 363.1h5.9v5.9h-5.9zM1497 348.1h5.9v5.9h-5.9zM1446 339.1h5.9v5.9h-5.9zM1482 375.1h5.9v5.9h-5.9zM1488 342.1h5.9v5.9h-5.9zM1506 342.1h5.9v5.9h-5.9zM1479 348.1h5.9v5.9h-5.9zM1449 360.1h5.9v5.9h-5.9zM1488 339.1h5.9v5.9h-5.9zM1455 348.1h5.9v5.9h-5.9zM1509 333.1h5.9v5.9h-5.9zM1458 351.1h5.9v5.9h-5.9zM1446 306.1h5.9v5.9h-5.9zM1470 333.1h5.9v5.9h-5.9zM1467 336.1h5.9v5.9h-5.9zM1494 360.1h5.9v5.9h-5.9zM1500 357.1h5.9v5.9h-5.9zM1473 348.1h5.9v5.9h-5.9zM1446 369.1h5.9v5.9h-5.9zM1488 333.1h5.9v5.9h-5.9zM1464 354.1h5.9v5.9h-5.9zM1470 321.1h5.9v5.9h-5.9zM1467 342.1h5.9v5.9h-5.9zM1458 366.1h5.9v5.9h-5.9zM1458 375.1h5.9v5.9h-5.9zM1500 330.1h5.9v5.9h-5.9zM1482 366.1h5.9v5.9h-5.9zM1476 324.1h5.9v5.9h-5.9zM1482 378.1h5.9v5.9h-5.9zM1449 354.1h5.9v5.9h-5.9zM1473 339.1h5.9v5.9h-5.9zM1503 354.1h5.9v5.9h-5.9zM1458 372.1h5.9v5.9h-5.9zM1452 357.1h5.9v5.9h-5.9zM1485 366.1h5.9v5.9h-5.9zM1479 363.1h5.9v5.9h-5.9zM1488 381.1h5.9v5.9h-5.9zM1467 366.1h5.9v5.9h-5.9zM1491 348.1h5.9v5.9h-5.9zM1470 354.1h5.9v5.9h-5.9zM1449 321.1h5.9v5.9h-5.9zM1494 318.1h5.9v5.9h-5.9zM1512 342.1h5.9v5.9h-5.9zM1503 366.1h5.9v5.9h-5.9zM1506 351.1h5.9v5.9h-5.9zM1476 318.1h5.9v5.9h-5.9zM1473 360.1h5.9v5.9h-5.9zM1509 348.1h5.9v5.9h-5.9zM1503 351.1h5.9v5.9h-5.9zM1443 336.1h5.9v5.9h-5.9zM1473 354.1h5.9v5.9h-5.9zM1461 345.1h5.9v5.9h-5.9zM1482 372.1h5.9v5.9h-5.9zM1428 342.1h5.9v5.9h-5.9zM1488 366.1h5.9v5.9h-5.9zM1500 339.1h5.9v5.9h-5.9zM1440 339.1h5.9v5.9h-5.9zM1455 357.1h5.9v5.9h-5.9zM1464 375.1h5.9v5.9h-5.9zM1485 333.1h5.9v5.9h-5.9zM1470 327.1h5.9v5.9h-5.9zM1488 372.1h5.9v5.9h-5.9zM1476 360.1h5.9v5.9h-5.9zM1461 351.1h5.9v5.9h-5.9zM1530 321.1h5.9v5.9h-5.9zM1506 366.1h5.9v5.9h-5.9zM1440 321.1h5.9v5.9h-5.9zM1494 348.1h5.9v5.9h-5.9zM1503 333.1h5.9v5.9h-5.9zM1515 339.1h5.9v5.9h-5.9zM1464 357.1h5.9v5.9h-5.9zM1491 312.1h5.9v5.9h-5.9zM1485 321.1h5.9v5.9h-5.9zM1464 360.1h5.9v5.9h-5.9zM1473 378.1h5.9v5.9h-5.9zM1479 324.1h5.9v5.9h-5.9zM1458 330.1h5.9v5.9h-5.9zM1482 345.1h5.9v5.9h-5.9zM1500 348.1h5.9v5.9h-5.9zM1479 351.1h5.9v5.9h-5.9zM1497 357.1h5.9v5.9h-5.9zM1464 351.1h5.9v5.9h-5.9zM1428 336.1h5.9v5.9h-5.9zM1491 336.1h5.9v5.9h-5.9zM1509 342.1h5.9v5.9h-5.9zM1509 366.1h5.9v5.9h-5.9zM1458 390.1h5.9v5.9h-5.9zM1458 345.1h5.9v5.9h-5.9zM1452 345.1h5.9v5.9h-5.9zM1503 348.1h5.9v5.9h-5.9zM1476 372.1h5.9v5.9h-5.9zM1461 360.1h5.9v5.9h-5.9zM1482 348.1h5.9v5.9h-5.9zM1479 333.1h5.9v5.9h-5.9zM1467 351.1h5.9v5.9h-5.9zM1464 333.1h5.9v5.9h-5.9zM1482 333.1h5.9v5.9h-5.9zM1479 321.1h5.9v5.9h-5.9zM1446 330.1h5.9v5.9h-5.9zM1455 354.1h5.9v5.9h-5.9zM1470 324.1h5.9v5.9h-5.9zM1446 351.1h5.9v5.9h-5.9zM1488 357.1h5.9v5.9h-5.9zM1518 348.1h5.9v5.9h-5.9zM1485 342.1h5.9v5.9h-5.9zM1461 378.1h5.9v5.9h-5.9zM1440 348.1h5.9v5.9h-5.9zM1488 348.1h5.9v5.9h-5.9zM1458 342.1h5.9v5.9h-5.9zM1479 336.1h5.9v5.9h-5.9zM1467 357.1h5.9v5.9h-5.9zM1461 348.1h5.9v5.9h-5.9zM1494 363.1h5.9v5.9h-5.9zM1461 333.1h5.9v5.9h-5.9zM1446 315.1h5.9v5.9h-5.9zM1443 384.1h5.9v5.9h-5.9zM1494 330.1h5.9v5.9h-5.9zM1512 318.1h5.9v5.9h-5.9zM1452 342.1h5.9v5.9h-5.9zM1464 369.1h5.9v5.9h-5.9zM1482 354.1h5.9v5.9h-5.9zM1524 336.1h5.9v5.9h-5.9zM1482 357.1h5.9v5.9h-5.9zM1446 378.1h5.9v5.9h-5.9zM1515 363.1h5.9v5.9h-5.9zM1473 333.1h5.9v5.9h-5.9zM1479 315.1h5.9v5.9h-5.9zM1470 336.1h5.9v5.9h-5.9zM1494 342.1h5.9v5.9h-5.9zM1503 303.1h5.9v5.9h-5.9zM1491 351.1h5.9v5.9h-5.9zM1446 321.1h5.9v5.9h-5.9zM1497 324.1h5.9v5.9h-5.9zM1470 351.1h5.9v5.9h-5.9zM1431 354.1h5.9v5.9h-5.9zM1479 327.1h5.9v5.9h-5.9zM1506 315.1h5.9v5.9h-5.9zM1518 333.1h5.9v5.9h-5.9zM1449 345.1h5.9v5.9h-5.9zM1485 351.1h5.9v5.9h-5.9zM1458 357.1h5.9v5.9h-5.9zM1449 363.1h5.9v5.9h-5.9zM1446 345.1h5.9v5.9h-5.9zM1461 312.1h5.9v5.9h-5.9zM1479 339.1h5.9v5.9h-5.9zM1509 381.1h5.9v5.9h-5.9zM1500 333.1h5.9v5.9h-5.9zM1461 369.1h5.9v5.9h-5.9zM1470 342.1h5.9v5.9h-5.9zM1503 336.1h5.9v5.9h-5.9zM1446 333.1h5.9v5.9h-5.9zM1503 381.1h5.9v5.9h-5.9zM1485 324.1h5.9v5.9h-5.9zM1494 306.1h5.9v5.9h-5.9zM1494 321.1h5.9v5.9h-5.9zM1443 357.1h5.9v5.9h-5.9zM1464 327.1h5.9v5.9h-5.9zM1449 348.1h5.9v5.9h-5.9zM1461 354.1h5.9v5.9h-5.9zM1437 324.1h5.9v5.9h-5.9zM1494 396.1h5.9v5.9h-5.9zM1452 327.1h5.9v5.9h-5.9zM1464 345.1h5.9v5.9h-5.9zM1443 339.1h5.9v5.9h-5.9zM1497 372.1h5.9v5.9h-5.9zM1488 330.1h5.9v5.9h-5.9zM1485 360.1h5.9v5.9h-5.9zM1464 321.1h5.9v5.9h-5.9zM1464 336.1h5.9v5.9h-5.9zM1455 327.1h5.9v5.9h-5.9zM1500 321.1h5.9v5.9h-5.9zM1470 357.1h5.9v5.9h-5.9zM1494 345.1h5.9v5.9h-5.9zM1479 354.1h5.9v5.9h-5.9zM1458 354.1h5.9v5.9h-5.9zM1506 339.1h5.9v5.9h-5.9zM1455 363.1h5.9v5.9h-5.9zM1485 336.1h5.9v5.9h-5.9zM1476 339.1h5.9v5.9h-5.9zM1458 333.1h5.9v5.9h-5.9zM1506 330.1h5.9v5.9h-5.9zM1497 375.1h5.9v5.9h-5.9zM1503 357.1h5.9v5.9h-5.9zM1458 339.1h5.9v5.9h-5.9zM1482 321.1h5.9v5.9h-5.9zM1497 342.1h5.9v5.9h-5.9zM1515 345.1h5.9v5.9h-5.9zM1470 372.1h5.9v5.9h-5.9zM1461 330.1h5.9v5.9h-5.9zM1512 330.1h5.9v5.9h-5.9zM1494 369.1h5.9v5.9h-5.9zM1476 357.1h5.9v5.9h-5.9zM1434 336.1h5.9v5.9h-5.9zM1443 345.1h5.9v5.9h-5.9zM1479 330.1h5.9v5.9h-5.9zM1449 339.1h5.9v5.9h-5.9zM1521 333.1h5.9v5.9h-5.9zM1494 351.1h5.9v5.9h-5.9zM1467 312.1h5.9v5.9h-5.9zM1431 342.1h5.9v5.9h-5.9zM1467 330.1h5.9v5.9h-5.9zM1488 336.1h5.9v5.9h-5.9zM1491 363.1h5.9v5.9h-5.9zM1482 318.1h5.9v5.9h-5.9zM1473 330.1h5.9v5.9h-5.9zM1476 351.1h5.9v5.9h-5.9zM1485 354.1h5.9v5.9h-5.9zM1434 339.1h5.9v5.9h-5.9zM1452 366.1h5.9v5.9h-5.9zM1512 372.1h5.9v5.9h-5.9zM1494 336.1h5.9v5.9h-5.9zM1515 342.1h5.9v5.9h-5.9zM1524 390.1h5.9v5.9h-5.9zM1488 321.1h5.9v5.9h-5.9zM1494 372.1h5.9v5.9h-5.9zM1494 327.1h5.9v5.9h-5.9zM1440 312.1h5.9v5.9h-5.9zM1491 342.1h5.9v5.9h-5.9zM1506 333.1h5.9v5.9h-5.9zM1452 324.1h5.9v5.9h-5.9zM1497 327.1h5.9v5.9h-5.9zM1515 321.1h5.9v5.9h-5.9zM1482 327.1h5.9v5.9h-5.9zM1479 342.1h5.9v5.9h-5.9zM1479 381.1h5.9v5.9h-5.9zM1434 333.1h5.9v5.9h-5.9zM1485 375.1h5.9v5.9h-5.9zM1506 336.1h5.9v5.9h-5.9zM1488 318.1h5.9v5.9h-5.9zM1491 327.1h5.9v5.9h-5.9zM1476 354.1h5.9v5.9h-5.9zM1449 327.1h5.9v5.9h-5.9zM1485 318.1h5.9v5.9h-5.9zM1464 330.1h5.9v5.9h-5.9zM1536 309.1h5.9v5.9h-5.9zM1497 336.1h5.9v5.9h-5.9zM1428 366.1h5.9v5.9h-5.9zM1449 324.1h5.9v5.9h-5.9zM1497 333.1h5.9v5.9h-5.9zM1491 333.1h5.9v5.9h-5.9zM1476 348.1h5.9v5.9h-5.9zM1515 336.1h5.9v5.9h-5.9zM1521 339.1h5.9v5.9h-5.9zM1527 351.1h5.9v5.9h-5.9zM1452 336.1h5.9v5.9h-5.9zM1506 321.1h5.9v5.9h-5.9zM1524 339.1h5.9v5.9h-5.9zM1491 354.1h5.9v5.9h-5.9zM1467 348.1h5.9v5.9h-5.9zM1473 321.1h5.9v5.9h-5.9zM1518 366.1h5.9v5.9h-5.9zM1518 327.1h5.9v5.9h-5.9zM1491 321.1h5.9v5.9h-5.9zM1458 363.1h5.9v5.9h-5.9zM1500 354.1h5.9v5.9h-5.9zM1485 369.1h5.9v5.9h-5.9zM1452 363.1h5.9v5.9h-5.9zM1461 357.1h5.9v5.9h-5.9zM1491 357.1h5.9v5.9h-5.9zM1467 318.1h5.9v5.9h-5.9zM1527 363.1h5.9v5.9h-5.9zM1485 327.1h5.9v5.9h-5.9zM1458 369.1h5.9v5.9h-5.9zM1458 327.1h5.9v5.9h-5.9zM1509 339.1h5.9v5.9h-5.9zM1497 363.1h5.9v5.9h-5.9zM1476 312.1h5.9v5.9h-5.9zM1452 354.1h5.9v5.9h-5.9zM1509 336.1h5.9v5.9h-5.9zM1482 369.1h5.9v5.9h-5.9zM1476 342.1h5.9v5.9h-5.9zM1470 387.1h5.9v5.9h-5.9zM1512 354.1h5.9v5.9h-5.9zM1494 333.1h5.9v5.9h-5.9zM1482 330.1h5.9v5.9h-5.9zM1485 309.1h5.9v5.9h-5.9zM1479 366.1h5.9v5.9h-5.9zM1464 348.1h5.9v5.9h-5.9zM1449 357.1h5.9v5.9h-5.9zM1455 324.1h5.9v5.9h-5.9zM1473 384.1h5.9v5.9h-5.9zM1467 321.1h5.9v5.9h-5.9zM1512 321.1h5.9v5.9h-5.9zM1500 318.1h5.9v5.9h-5.9zM1497 360.1h5.9v5.9h-5.9zM1533 342.1h5.9v5.9h-5.9zM1512 324.1h5.9v5.9h-5.9zM1470 330.1h5.9v5.9h-5.9zM1512 363.1h5.9v5.9h-5.9zM1470 345.1h5.9v5.9h-5.9zM1494 339.1h5.9v5.9h-5.9zM1473 369.1h5.9v5.9h-5.9zM1497 321.1h5.9v5.9h-5.9zM1458 312.1h5.9v5.9h-5.9zM1470 348.1h5.9v5.9h-5.9zM1473 318.1h5.9v5.9h-5.9zM1443 351.1h5.9v5.9h-5.9zM1515 330.1h5.9v5.9h-5.9zM1491 378.1h5.9v5.9h-5.9zM1479 369.1h5.9v5.9h-5.9zM1479 312.1h5.9v5.9h-5.9zM1503 363.1h5.9v5.9h-5.9zM1479 357.1h5.9v5.9h-5.9zM1485 381.1h5.9v5.9h-5.9zM1524 324.1h5.9v5.9h-5.9zM1473 357.1h5.9v5.9h-5.9zM1458 348.1h5.9v5.9h-5.9zM1581 291.1h5.9v5.9h-5.9zM1620 237.1h5.9v5.9h-5.9zM1635 234.1h5.9v5.9h-5.9zM1629 270.1h5.9v5.9h-5.9zM1575 234.1h5.9v5.9h-5.9zM1590 264.1h5.9v5.9h-5.9zM1581 279.1h5.9v5.9h-5.9zM1563 264.1h5.9v5.9h-5.9zM1599 216.1h5.9v5.9h-5.9zM1608 231.1h5.9v5.9h-5.9zM1533 249.1h5.9v5.9h-5.9zM1593 288.1h5.9v5.9h-5.9zM1587 303.1h5.9v5.9h-5.9zM1638 294.1h5.9v5.9h-5.9zM1635 273.1h5.9v5.9h-5.9zM1584 282.1h5.9v5.9h-5.9zM1626 270.1h5.9v5.9h-5.9zM1593 222.1h5.9v5.9h-5.9zM1617 273.1h5.9v5.9h-5.9zM1566 267.1h5.9v5.9h-5.9zM1617 261.1h5.9v5.9h-5.9zM1620 285.1h5.9v5.9h-5.9zM1560 255.1h5.9v5.9h-5.9zM1611 288.1h5.9v5.9h-5.9zM1638 213.1h5.9v5.9h-5.9zM1596 282.1h5.9v5.9h-5.9zM1632 309.1h5.9v5.9h-5.9zM1575 255.1h5.9v5.9h-5.9zM1572 285.1h5.9v5.9h-5.9zM1563 297.1h5.9v5.9h-5.9zM1623 276.1h5.9v5.9h-5.9zM1542 246.1h5.9v5.9h-5.9zM1620 225.1h5.9v5.9h-5.9zM1593 261.1h5.9v5.9h-5.9zM1623 273.1h5.9v5.9h-5.9zM1605 252.1h5.9v5.9h-5.9zM1599 261.1h5.9v5.9h-5.9zM1620 258.1h5.9v5.9h-5.9zM1626 219.1h5.9v5.9h-5.9zM1632 261.1h5.9v5.9h-5.9zM1629 267.1h5.9v5.9h-5.9zM1623 303.1h5.9v5.9h-5.9zM1584 267.1h5.9v5.9h-5.9zM1596 270.1h5.9v5.9h-5.9zM1557 261.1h5.9v5.9h-5.9zM1593 243.1h5.9v5.9h-5.9zM1635 276.1h5.9v5.9h-5.9zM1650 240.1h5.9v5.9h-5.9zM1569 273.1h5.9v5.9h-5.9zM1554 270.1h5.9v5.9h-5.9zM1581 255.1h5.9v5.9h-5.9zM1605 264.1h5.9v5.9h-5.9zM1650 282.1h5.9v5.9h-5.9zM1566 291.1h5.9v5.9h-5.9zM1563 267.1h5.9v5.9h-5.9zM1566 243.1h5.9v5.9h-5.9zM1635 249.1h5.9v5.9h-5.9zM1581 249.1h5.9v5.9h-5.9zM1590 303.1h5.9v5.9h-5.9zM1569 231.1h5.9v5.9h-5.9zM1614 222.1h5.9v5.9h-5.9zM1590 294.1h5.9v5.9h-5.9zM1599 252.1h5.9v5.9h-5.9zM1581 240.1h5.9v5.9h-5.9zM1632 291.1h5.9v5.9h-5.9zM1584 243.1h5.9v5.9h-5.9zM1617 216.1h5.9v5.9h-5.9zM1587 255.1h5.9v5.9h-5.9zM1569 237.1h5.9v5.9h-5.9zM1608 219.1h5.9v5.9h-5.9zM1575 246.1h5.9v5.9h-5.9zM1602 228.1h5.9v5.9h-5.9zM1629 255.1h5.9v5.9h-5.9zM1593 255.1h5.9v5.9h-5.9zM1581 237.1h5.9v5.9h-5.9zM1596 291.1h5.9v5.9h-5.9zM1578 279.1h5.9v5.9h-5.9zM1599 240.1h5.9v5.9h-5.9zM1620 222.1h5.9v5.9h-5.9zM1617 240.1h5.9v5.9h-5.9zM1608 300.1h5.9v5.9h-5.9zM1614 246.1h5.9v5.9h-5.9zM1596 252.1h5.9v5.9h-5.9zM1566 234.1h5.9v5.9h-5.9zM1599 276.1h5.9v5.9h-5.9zM1551 261.1h5.9v5.9h-5.9zM1611 267.1h5.9v5.9h-5.9zM1572 291.1h5.9v5.9h-5.9zM1566 279.1h5.9v5.9h-5.9zM1641 210.1h5.9v5.9h-5.9zM1605 270.1h5.9v5.9h-5.9zM1605 243.1h5.9v5.9h-5.9zM1590 225.1h5.9v5.9h-5.9zM1602 276.1h5.9v5.9h-5.9zM1584 261.1h5.9v5.9h-5.9zM1599 228.1h5.9v5.9h-5.9zM1524 279.1h5.9v5.9h-5.9zM1635 225.1h5.9v5.9h-5.9zM1581 270.1h5.9v5.9h-5.9zM1623 279.1h5.9v5.9h-5.9zM1608 273.1h5.9v5.9h-5.9zM1587 294.1h5.9v5.9h-5.9zM1614 288.1h5.9v5.9h-5.9zM1587 291.1h5.9v5.9h-5.9zM1527 237.1h5.9v5.9h-5.9zM1617 249.1h5.9v5.9h-5.9zM1602 219.1h5.9v5.9h-5.9zM1638 279.1h5.9v5.9h-5.9zM1596 273.1h5.9v5.9h-5.9zM1605 300.1h5.9v5.9h-5.9zM1602 222.1h5.9v5.9h-5.9zM1590 297.1h5.9v5.9h-5.9zM1611 252.1h5.9v5.9h-5.9zM1614 264.1h5.9v5.9h-5.9zM1614 219.1h5.9v5.9h-5.9zM1575 279.1h5.9v5.9h-5.9zM1590 273.1h5.9v5.9h-5.9zM1650 255.1h5.9v5.9h-5.9zM1605 249.1h5.9v5.9h-5.9zM1581 261.1h5.9v5.9h-5.9zM1560 207.1h5.9v5.9h-5.9zM1626 267.1h5.9v5.9h-5.9zM1602 279.1h5.9v5.9h-5.9zM1617 231.1h5.9v5.9h-5.9zM1629 237.1h5.9v5.9h-5.9zM1602 330.1h5.9v5.9h-5.9zM1599 306.1h5.9v5.9h-5.9zM1587 279.1h5.9v5.9h-5.9zM1599 273.1h5.9v5.9h-5.9zM1575 237.1h5.9v5.9h-5.9zM1605 222.1h5.9v5.9h-5.9zM1569 267.1h5.9v5.9h-5.9zM1587 267.1h5.9v5.9h-5.9zM1593 312.1h5.9v5.9h-5.9zM1587 210.1h5.9v5.9h-5.9zM1626 261.1h5.9v5.9h-5.9zM1596 222.1h5.9v5.9h-5.9zM1611 261.1h5.9v5.9h-5.9zM1632 252.1h5.9v5.9h-5.9zM1572 273.1h5.9v5.9h-5.9zM1569 258.1h5.9v5.9h-5.9zM1590 261.1h5.9v5.9h-5.9zM1584 240.1h5.9v5.9h-5.9zM1596 246.1h5.9v5.9h-5.9zM1602 255.1h5.9v5.9h-5.9zM1539 261.1h5.9v5.9h-5.9zM1635 270.1h5.9v5.9h-5.9zM1614 273.1h5.9v5.9h-5.9zM1584 228.1h5.9v5.9h-5.9zM1620 291.1h5.9v5.9h-5.9zM1611 273.1h5.9v5.9h-5.9zM1608 261.1h5.9v5.9h-5.9zM1605 237.1h5.9v5.9h-5.9zM1581 276.1h5.9v5.9h-5.9zM1590 198.1h5.9v5.9h-5.9zM1602 204.1h5.9v5.9h-5.9zM1647 282.1h5.9v5.9h-5.9zM1599 243.1h5.9v5.9h-5.9zM1614 234.1h5.9v5.9h-5.9zM1542 264.1h5.9v5.9h-5.9zM1581 273.1h5.9v5.9h-5.9zM1641 306.1h5.9v5.9h-5.9zM1605 291.1h5.9v5.9h-5.9zM1641 264.1h5.9v5.9h-5.9zM1605 285.1h5.9v5.9h-5.9zM1596 249.1h5.9v5.9h-5.9zM1578 264.1h5.9v5.9h-5.9zM1581 282.1h5.9v5.9h-5.9zM1590 300.1h5.9v5.9h-5.9zM1629 231.1h5.9v5.9h-5.9zM1626 252.1h5.9v5.9h-5.9zM1632 276.1h5.9v5.9h-5.9zM1596 279.1h5.9v5.9h-5.9zM1584 270.1h5.9v5.9h-5.9zM1608 258.1h5.9v5.9h-5.9zM1608 237.1h5.9v5.9h-5.9zM1611 231.1h5.9v5.9h-5.9zM1614 276.1h5.9v5.9h-5.9zM1602 243.1h5.9v5.9h-5.9zM1635 252.1h5.9v5.9h-5.9zM1623 240.1h5.9v5.9h-5.9zM1605 255.1h5.9v5.9h-5.9zM1623 255.1h5.9v5.9h-5.9zM1575 276.1h5.9v5.9h-5.9zM1569 240.1h5.9v5.9h-5.9zM1617 252.1h5.9v5.9h-5.9zM1575 270.1h5.9v5.9h-5.9zM1614 249.1h5.9v5.9h-5.9zM1593 285.1h5.9v5.9h-5.9zM1578 240.1h5.9v5.9h-5.9zM1635 255.1h5.9v5.9h-5.9zM1590 255.1h5.9v5.9h-5.9zM1647 210.1h5.9v5.9h-5.9zM1605 276.1h5.9v5.9h-5.9zM1602 324.1h5.9v5.9h-5.9zM1629 285.1h5.9v5.9h-5.9zM1614 306.1h5.9v5.9h-5.9zM1551 291.1h5.9v5.9h-5.9zM1587 282.1h5.9v5.9h-5.9zM1578 285.1h5.9v5.9h-5.9zM1572 240.1h5.9v5.9h-5.9zM1599 279.1h5.9v5.9h-5.9zM1566 288.1h5.9v5.9h-5.9zM1584 279.1h5.9v5.9h-5.9zM1587 222.1h5.9v5.9h-5.9zM1581 246.1h5.9v5.9h-5.9zM1641 291.1h5.9v5.9h-5.9zM1566 285.1h5.9v5.9h-5.9zM1611 285.1h5.9v5.9h-5.9zM1584 258.1h5.9v5.9h-5.9zM1605 240.1h5.9v5.9h-5.9zM1608 288.1h5.9v5.9h-5.9zM1608 243.1h5.9v5.9h-5.9zM1620 270.1h5.9v5.9h-5.9zM1614 294.1h5.9v5.9h-5.9zM1578 261.1h5.9v5.9h-5.9zM1650 288.1h5.9v5.9h-5.9zM1554 276.1h5.9v5.9h-5.9zM1602 261.1h5.9v5.9h-5.9zM1602 258.1h5.9v5.9h-5.9zM1572 264.1h5.9v5.9h-5.9zM1620 231.1h5.9v5.9h-5.9zM1590 243.1h5.9v5.9h-5.9zM1614 252.1h5.9v5.9h-5.9zM1560 276.1h5.9v5.9h-5.9zM1581 258.1h5.9v5.9h-5.9zM1596 285.1h5.9v5.9h-5.9zM1620 309.1h5.9v5.9h-5.9zM1641 273.1h5.9v5.9h-5.9zM1584 273.1h5.9v5.9h-5.9zM1605 267.1h5.9v5.9h-5.9zM1581 201.1h5.9v5.9h-5.9zM1605 210.1h5.9v5.9h-5.9zM1599 219.1h5.9v5.9h-5.9zM1650 270.1h5.9v5.9h-5.9zM1569 285.1h5.9v5.9h-5.9zM1602 234.1h5.9v5.9h-5.9zM1635 267.1h5.9v5.9h-5.9zM1575 219.1h5.9v5.9h-5.9zM1641 303.1h5.9v5.9h-5.9zM1569 306.1h5.9v5.9h-5.9zM1605 258.1h5.9v5.9h-5.9zM1599 258.1h5.9v5.9h-5.9zM1554 318.1h5.9v5.9h-5.9zM1623 237.1h5.9v5.9h-5.9zM1581 285.1h5.9v5.9h-5.9zM1596 321.1h5.9v5.9h-5.9zM1602 246.1h5.9v5.9h-5.9zM1578 258.1h5.9v5.9h-5.9zM1626 234.1h5.9v5.9h-5.9zM1635 282.1h5.9v5.9h-5.9zM1593 300.1h5.9v5.9h-5.9zM1644 279.1h5.9v5.9h-5.9zM1605 312.1h5.9v5.9h-5.9zM1638 243.1h5.9v5.9h-5.9zM1596 261.1h5.9v5.9h-5.9zM1590 228.1h5.9v5.9h-5.9zM1623 267.1h5.9v5.9h-5.9zM1602 300.1h5.9v5.9h-5.9zM1587 264.1h5.9v5.9h-5.9zM1608 255.1h5.9v5.9h-5.9zM1599 300.1h5.9v5.9h-5.9zM1563 261.1h5.9v5.9h-5.9zM1581 300.1h5.9v5.9h-5.9zM1620 279.1h5.9v5.9h-5.9zM1647 303.1h5.9v5.9h-5.9zM1617 246.1h5.9v5.9h-5.9zM1590 249.1h5.9v5.9h-5.9zM1638 237.1h5.9v5.9h-5.9zM1560 288.1h5.9v5.9h-5.9zM1623 258.1h5.9v5.9h-5.9zM1572 252.1h5.9v5.9h-5.9zM1554 300.1h5.9v5.9h-5.9zM1638 234.1h5.9v5.9h-5.9zM1584 219.1h5.9v5.9h-5.9zM1617 270.1h5.9v5.9h-5.9zM1659 261.1h5.9v5.9h-5.9zM1590 246.1h5.9v5.9h-5.9zM1623 222.1h5.9v5.9h-5.9zM1587 243.1h5.9v5.9h-5.9zM1626 312.1h5.9v5.9h-5.9zM1590 279.1h5.9v5.9h-5.9zM1638 333.1h5.9v5.9h-5.9zM1584 321.1h5.9v5.9h-5.9zM1587 342.1h5.9v5.9h-5.9zM1578 330.1h5.9v5.9h-5.9zM1548 321.1h5.9v5.9h-5.9zM1563 351.1h5.9v5.9h-5.9zM1578 327.1h5.9v5.9h-5.9zM1608 351.1h5.9v5.9h-5.9zM1569 333.1h5.9v5.9h-5.9zM1608 348.1h5.9v5.9h-5.9zM1569 345.1h5.9v5.9h-5.9zM1590 360.1h5.9v5.9h-5.9zM1566 357.1h5.9v5.9h-5.9zM1602 327.1h5.9v5.9h-5.9zM1620 357.1h5.9v5.9h-5.9zM1554 375.1h5.9v5.9h-5.9zM1560 327.1h5.9v5.9h-5.9zM1581 354.1h5.9v5.9h-5.9zM1608 339.1h5.9v5.9h-5.9zM1629 348.1h5.9v5.9h-5.9zM1629 387.1h5.9v5.9h-5.9zM1596 300.1h5.9v5.9h-5.9zM1578 324.1h5.9v5.9h-5.9zM1593 345.1h5.9v5.9h-5.9zM1557 324.1h5.9v5.9h-5.9zM1584 339.1h5.9v5.9h-5.9zM1518 357.1h5.9v5.9h-5.9zM1593 342.1h5.9v5.9h-5.9zM1599 324.1h5.9v5.9h-5.9zM1620 351.1h5.9v5.9h-5.9zM1584 330.1h5.9v5.9h-5.9zM1629 351.1h5.9v5.9h-5.9zM1578 306.1h5.9v5.9h-5.9zM1566 309.1h5.9v5.9h-5.9zM1626 345.1h5.9v5.9h-5.9zM1569 336.1h5.9v5.9h-5.9zM1554 339.1h5.9v5.9h-5.9zM1557 312.1h5.9v5.9h-5.9zM1596 381.1h5.9v5.9h-5.9zM1635 342.1h5.9v5.9h-5.9zM1581 345.1h5.9v5.9h-5.9zM1620 318.1h5.9v5.9h-5.9zM1539 372.1h5.9v5.9h-5.9zM1599 369.1h5.9v5.9h-5.9zM1599 366.1h5.9v5.9h-5.9zM1575 351.1h5.9v5.9h-5.9zM1635 360.1h5.9v5.9h-5.9zM1578 357.1h5.9v5.9h-5.9zM1572 318.1h5.9v5.9h-5.9zM1605 366.1h5.9v5.9h-5.9zM1614 321.1h5.9v5.9h-5.9zM1617 354.1h5.9v5.9h-5.9zM1578 300.1h5.9v5.9h-5.9zM1548 360.1h5.9v5.9h-5.9zM1614 351.1h5.9v5.9h-5.9zM1584 348.1h5.9v5.9h-5.9zM1575 336.1h5.9v5.9h-5.9zM1566 345.1h5.9v5.9h-5.9zM1611 327.1h5.9v5.9h-5.9zM1644 324.1h5.9v5.9h-5.9zM1605 360.1h5.9v5.9h-5.9zM1629 306.1h5.9v5.9h-5.9zM1620 363.1h5.9v5.9h-5.9zM1632 303.1h5.9v5.9h-5.9zM1572 339.1h5.9v5.9h-5.9zM1578 366.1h5.9v5.9h-5.9zM1572 363.1h5.9v5.9h-5.9zM1608 318.1h5.9v5.9h-5.9zM1563 333.1h5.9v5.9h-5.9zM1593 360.1h5.9v5.9h-5.9zM1587 357.1h5.9v5.9h-5.9zM1545 291.1h5.9v5.9h-5.9zM1581 351.1h5.9v5.9h-5.9zM1581 324.1h5.9v5.9h-5.9zM1602 375.1h5.9v5.9h-5.9zM1587 330.1h5.9v5.9h-5.9zM1566 375.1h5.9v5.9h-5.9zM1590 351.1h5.9v5.9h-5.9zM1626 360.1h5.9v5.9h-5.9zM1563 357.1h5.9v5.9h-5.9zM1620 333.1h5.9v5.9h-5.9zM1590 333.1h5.9v5.9h-5.9zM1614 330.1h5.9v5.9h-5.9zM1587 336.1h5.9v5.9h-5.9zM1587 345.1h5.9v5.9h-5.9zM1587 339.1h5.9v5.9h-5.9zM1530 360.1h5.9v5.9h-5.9zM1566 360.1h5.9v5.9h-5.9zM1566 351.1h5.9v5.9h-5.9zM1626 369.1h5.9v5.9h-5.9zM1626 354.1h5.9v5.9h-5.9zM1557 363.1h5.9v5.9h-5.9zM1626 357.1h5.9v5.9h-5.9zM1614 342.1h5.9v5.9h-5.9zM1575 360.1h5.9v5.9h-5.9zM1629 324.1h5.9v5.9h-5.9zM1617 345.1h5.9v5.9h-5.9zM1617 348.1h5.9v5.9h-5.9zM1623 360.1h5.9v5.9h-5.9zM1617 318.1h5.9v5.9h-5.9zM1560 354.1h5.9v5.9h-5.9zM1551 357.1h5.9v5.9h-5.9zM1641 333.1h5.9v5.9h-5.9zM1617 351.1h5.9v5.9h-5.9zM1611 318.1h5.9v5.9h-5.9zM1608 345.1h5.9v5.9h-5.9zM1623 348.1h5.9v5.9h-5.9zM1611 366.1h5.9v5.9h-5.9zM1596 360.1h5.9v5.9h-5.9zM1599 351.1h5.9v5.9h-5.9zM1626 342.1h5.9v5.9h-5.9zM1560 348.1h5.9v5.9h-5.9zM1629 333.1h5.9v5.9h-5.9zM1542 345.1h5.9v5.9h-5.9zM1575 375.1h5.9v5.9h-5.9zM1590 342.1h5.9v5.9h-5.9zM1575 348.1h5.9v5.9h-5.9zM1575 327.1h5.9v5.9h-5.9zM1590 330.1h5.9v5.9h-5.9zM1554 369.1h5.9v5.9h-5.9zM1533 366.1h5.9v5.9h-5.9zM1551 345.1h5.9v5.9h-5.9zM1656 306.1h5.9v5.9h-5.9zM1554 363.1h5.9v5.9h-5.9zM1596 333.1h5.9v5.9h-5.9zM1590 327.1h5.9v5.9h-5.9zM1596 369.1h5.9v5.9h-5.9zM1626 375.1h5.9v5.9h-5.9zM1575 333.1h5.9v5.9h-5.9zM1581 333.1h5.9v5.9h-5.9zM1542 309.1h5.9v5.9h-5.9zM1572 345.1h5.9v5.9h-5.9zM1626 333.1h5.9v5.9h-5.9zM1587 354.1h5.9v5.9h-5.9zM1590 375.1h5.9v5.9h-5.9zM1584 333.1h5.9v5.9h-5.9zM1545 351.1h5.9v5.9h-5.9zM1584 375.1h5.9v5.9h-5.9zM1584 357.1h5.9v5.9h-5.9zM1620 369.1h5.9v5.9h-5.9zM1584 336.1h5.9v5.9h-5.9zM1581 303.1h5.9v5.9h-5.9zM1566 342.1h5.9v5.9h-5.9zM1656 348.1h5.9v5.9h-5.9zM1581 372.1h5.9v5.9h-5.9zM1569 339.1h5.9v5.9h-5.9zM1575 339.1h5.9v5.9h-5.9zM1593 336.1h5.9v5.9h-5.9zM1572 342.1h5.9v5.9h-5.9zM1563 348.1h5.9v5.9h-5.9zM1587 327.1h5.9v5.9h-5.9zM1632 357.1h5.9v5.9h-5.9zM1596 357.1h5.9v5.9h-5.9zM1602 339.1h5.9v5.9h-5.9zM1593 387.1h5.9v5.9h-5.9zM1620 360.1h5.9v5.9h-5.9zM1656 351.1h5.9v5.9h-5.9zM1623 363.1h5.9v5.9h-5.9zM1611 369.1h5.9v5.9h-5.9zM1575 387.1h5.9v5.9h-5.9zM1599 345.1h5.9v5.9h-5.9zM1632 333.1h5.9v5.9h-5.9zM1593 330.1h5.9v5.9h-5.9zM1587 333.1h5.9v5.9h-5.9zM1596 324.1h5.9v5.9h-5.9zM1605 321.1h5.9v5.9h-5.9zM1596 342.1h5.9v5.9h-5.9zM1575 330.1h5.9v5.9h-5.9zM1572 375.1h5.9v5.9h-5.9zM1620 348.1h5.9v5.9h-5.9zM1620 321.1h5.9v5.9h-5.9zM1560 396.1h5.9v5.9h-5.9zM1590 339.1h5.9v5.9h-5.9zM1557 348.1h5.9v5.9h-5.9zM1590 354.1h5.9v5.9h-5.9zM1569 303.1h5.9v5.9h-5.9zM1581 369.1h5.9v5.9h-5.9zM1593 333.1h5.9v5.9h-5.9zM1629 339.1h5.9v5.9h-5.9zM1554 336.1h5.9v5.9h-5.9zM1608 324.1h5.9v5.9h-5.9zM1614 354.1h5.9v5.9h-5.9zM1650 333.1h5.9v5.9h-5.9zM1611 315.1h5.9v5.9h-5.9zM1602 342.1h5.9v5.9h-5.9zM1578 348.1h5.9v5.9h-5.9zM1608 354.1h5.9v5.9h-5.9zM1542 333.1h5.9v5.9h-5.9zM1620 354.1h5.9v5.9h-5.9zM1590 345.1h5.9v5.9h-5.9zM1626 336.1h5.9v5.9h-5.9zM1602 354.1h5.9v5.9h-5.9zM1602 357.1h5.9v5.9h-5.9zM1593 339.1h5.9v5.9h-5.9zM1623 342.1h5.9v5.9h-5.9zM1620 378.1h5.9v5.9h-5.9zM1611 357.1h5.9v5.9h-5.9zM1605 348.1h5.9v5.9h-5.9zM1623 315.1h5.9v5.9h-5.9zM1584 354.1h5.9v5.9h-5.9zM1569 342.1h5.9v5.9h-5.9zM1572 351.1h5.9v5.9h-5.9zM1617 366.1h5.9v5.9h-5.9zM1605 330.1h5.9v5.9h-5.9zM1602 312.1h5.9v5.9h-5.9zM1611 351.1h5.9v5.9h-5.9zM1605 357.1h5.9v5.9h-5.9zM1602 333.1h5.9v5.9h-5.9zM1602 363.1h5.9v5.9h-5.9zM1557 360.1h5.9v5.9h-5.9zM1584 363.1h5.9v5.9h-5.9zM1614 366.1h5.9v5.9h-5.9zM1632 327.1h5.9v5.9h-5.9zM1656 318.1h5.9v5.9h-5.9zM1551 351.1h5.9v5.9h-5.9zM1581 327.1h5.9v5.9h-5.9zM1530 342.1h5.9v5.9h-5.9zM1596 354.1h5.9v5.9h-5.9zM1545 336.1h5.9v5.9h-5.9zM1647 339.1h5.9v5.9h-5.9zM1542 357.1h5.9v5.9h-5.9zM1620 324.1h5.9v5.9h-5.9zM1548 345.1h5.9v5.9h-5.9zM1611 324.1h5.9v5.9h-5.9zM1581 330.1h5.9v5.9h-5.9zM1560 321.1h5.9v5.9h-5.9zM1596 336.1h5.9v5.9h-5.9zM1572 300.1h5.9v5.9h-5.9zM1641 327.1h5.9v5.9h-5.9zM1587 324.1h5.9v5.9h-5.9zM1602 318.1h5.9v5.9h-5.9zM1617 324.1h5.9v5.9h-5.9zM1650 318.1h5.9v5.9h-5.9zM1599 333.1h5.9v5.9h-5.9zM1599 354.1h5.9v5.9h-5.9zM1596 345.1h5.9v5.9h-5.9zM1584 315.1h5.9v5.9h-5.9zM1602 351.1h5.9v5.9h-5.9zM1590 321.1h5.9v5.9h-5.9zM1620 342.1h5.9v5.9h-5.9zM1608 357.1h5.9v5.9h-5.9zM1641 363.1h5.9v5.9h-5.9zM1578 354.1h5.9v5.9h-5.9zM1572 330.1h5.9v5.9h-5.9zM1584 309.1h5.9v5.9h-5.9zM1587 351.1h5.9v5.9h-5.9zM1596 330.1h5.9v5.9h-5.9zM1647 336.1h5.9v5.9h-5.9zM1617 372.1h5.9v5.9h-5.9zM1575 345.1h5.9v5.9h-5.9zM1569 360.1h5.9v5.9h-5.9zM1629 357.1h5.9v5.9h-5.9zM1596 387.1h5.9v5.9h-5.9zM1584 327.1h5.9v5.9h-5.9zM1611 342.1h5.9v5.9h-5.9zM1551 330.1h5.9v5.9h-5.9zM1629 360.1h5.9v5.9h-5.9zM1545 357.1h5.9v5.9h-5.9zM1632 351.1h5.9v5.9h-5.9zM1572 315.1h5.9v5.9h-5.9zM1623 345.1h5.9v5.9h-5.9zM1569 357.1h5.9v5.9h-5.9zM1545 327.1h5.9v5.9h-5.9zM1551 363.1h5.9v5.9h-5.9zM1542 324.1h5.9v5.9h-5.9zM1653 372.1h5.9v5.9h-5.9zM1539 327.1h5.9v5.9h-5.9zM1581 339.1h5.9v5.9h-5.9zM1554 327.1h5.9v5.9h-5.9zM1602 336.1h5.9v5.9h-5.9zM1542 354.1h5.9v5.9h-5.9zM1647 345.1h5.9v5.9h-5.9zM1554 324.1h5.9v5.9h-5.9zM1611 360.1h5.9v5.9h-5.9zM1596 318.1h5.9v5.9h-5.9zM1572 312.1h5.9v5.9h-5.9zM1581 321.1h5.9v5.9h-5.9zM1536 354.1h5.9v5.9h-5.9zM1596 339.1h5.9v5.9h-5.9zM1605 354.1h5.9v5.9h-5.9zM1599 336.1h5.9v5.9h-5.9zM1521 351.1h5.9v5.9h-5.9zM1560 333.1h5.9v5.9h-5.9zM1578 378.1h5.9v5.9h-5.9zM1563 372.1h5.9v5.9h-5.9zM1620 315.1h5.9v5.9h-5.9zM1542 327.1h5.9v5.9h-5.9zM1596 351.1h5.9v5.9h-5.9zM1581 315.1h5.9v5.9h-5.9zM1605 342.1h5.9v5.9h-5.9zM1560 342.1h5.9v5.9h-5.9zM1554 357.1h5.9v5.9h-5.9zM1596 363.1h5.9v5.9h-5.9zM1530 339.1h5.9v5.9h-5.9zM1638 315.1h5.9v5.9h-5.9zM1584 318.1h5.9v5.9h-5.9zM1545 333.1h5.9v5.9h-5.9zM1593 348.1h5.9v5.9h-5.9zM1602 360.1h5.9v5.9h-5.9zM1611 354.1h5.9v5.9h-5.9zM1563 339.1h5.9v5.9h-5.9zM1617 336.1h5.9v5.9h-5.9zM1587 378.1h5.9v5.9h-5.9zM1530 348.1h5.9v5.9h-5.9zM1542 330.1h5.9v5.9h-5.9zM1587 321.1h5.9v5.9h-5.9zM1578 318.1h5.9v5.9h-5.9zM1608 321.1h5.9v5.9h-5.9zM1611 336.1h5.9v5.9h-5.9zM1581 360.1h5.9v5.9h-5.9zM1593 309.1h5.9v5.9h-5.9zM1605 294.1h5.9v5.9h-5.9zM1551 342.1h5.9v5.9h-5.9zM1581 375.1h5.9v5.9h-5.9zM1578 375.1h5.9v5.9h-5.9zM1629 330.1h5.9v5.9h-5.9zM1566 363.1h5.9v5.9h-5.9zM1641 369.1h5.9v5.9h-5.9zM1605 363.1h5.9v5.9h-5.9zM1578 360.1h5.9v5.9h-5.9zM1530 354.1h5.9v5.9h-5.9zM1551 309.1h5.9v5.9h-5.9zM1599 321.1h5.9v5.9h-5.9zM1581 318.1h5.9v5.9h-5.9zM1608 363.1h5.9v5.9h-5.9zM1647 348.1h5.9v5.9h-5.9zM1632 360.1h5.9v5.9h-5.9zM1566 330.1h5.9v5.9h-5.9zM1590 348.1h5.9v5.9h-5.9zM1608 327.1h5.9v5.9h-5.9zM1554 330.1h5.9v5.9h-5.9zM1638 327.1h5.9v5.9h-5.9zM1530 294.1h5.9v5.9h-5.9zM1608 342.1h5.9v5.9h-5.9zM1572 357.1h5.9v5.9h-5.9zM1617 306.1h5.9v5.9h-5.9zM1584 360.1h5.9v5.9h-5.9zM1572 336.1h5.9v5.9h-5.9zM1557 330.1h5.9v5.9h-5.9zM1539 360.1h5.9v5.9h-5.9zM1542 342.1h5.9v5.9h-5.9zM1548 336.1h5.9v5.9h-5.9zM1608 336.1h5.9v5.9h-5.9zM1623 351.1h5.9v5.9h-5.9zM1611 330.1h5.9v5.9h-5.9zM1578 321.1h5.9v5.9h-5.9zM1518 336.1h5.9v5.9h-5.9zM1632 300.1h5.9v5.9h-5.9zM1614 327.1h5.9v5.9h-5.9zM1578 345.1h5.9v5.9h-5.9zM1536 345.1h5.9v5.9h-5.9zM1611 402.1h5.9v5.9h-5.9zM1584 384.1h5.9v5.9h-5.9zM1542 351.1h5.9v5.9h-5.9zM1605 345.1h5.9v5.9h-5.9zM1557 321.1h5.9v5.9h-5.9zM1584 342.1h5.9v5.9h-5.9zM1569 384.1h5.9v5.9h-5.9zM1605 339.1h5.9v5.9h-5.9zM1620 381.1h5.9v5.9h-5.9zM1623 318.1h5.9v5.9h-5.9zM1599 342.1h5.9v5.9h-5.9zM1548 312.1h5.9v5.9h-5.9zM1554 333.1h5.9v5.9h-5.9zM1572 387.1h5.9v5.9h-5.9zM1611 339.1h5.9v5.9h-5.9zM1614 348.1h5.9v5.9h-5.9zM1629 345.1h5.9v5.9h-5.9zM1560 312.1h5.9v5.9h-5.9zM1572 327.1h5.9v5.9h-5.9zM1587 306.1h5.9v5.9h-5.9zM1587 360.1h5.9v5.9h-5.9zM1554 366.1h5.9v5.9h-5.9zM1590 363.1h5.9v5.9h-5.9zM1605 318.1h5.9v5.9h-5.9zM1563 354.1h5.9v5.9h-5.9zM1557 309.1h5.9v5.9h-5.9zM1566 366.1h5.9v5.9h-5.9zM1539 294.1h5.9v5.9h-5.9zM1602 366.1h5.9v5.9h-5.9zM1590 336.1h5.9v5.9h-5.9zM1572 390.1h5.9v5.9h-5.9zM1584 351.1h5.9v5.9h-5.9zM1629 318.1h5.9v5.9h-5.9zM1566 336.1h5.9v5.9h-5.9zM1575 363.1h5.9v5.9h-5.9zM1590 312.1h5.9v5.9h-5.9zM1611 348.1h5.9v5.9h-5.9zM1560 345.1h5.9v5.9h-5.9zM1560 330.1h5.9v5.9h-5.9zM1602 348.1h5.9v5.9h-5.9zM1650 309.1h5.9v5.9h-5.9zM1626 348.1h5.9v5.9h-5.9zM1551 339.1h5.9v5.9h-5.9zM1623 282.1h5.9v5.9h-5.9zM1545 345.1h5.9v5.9h-5.9zM1614 372.1h5.9v5.9h-5.9zM1590 357.1h5.9v5.9h-5.9zM1542 339.1h5.9v5.9h-5.9zM1659 351.1h5.9v5.9h-5.9zM1623 357.1h5.9v5.9h-5.9zM1512 366.1h5.9v5.9h-5.9zM1632 336.1h5.9v5.9h-5.9zM1551 318.1h5.9v5.9h-5.9zM1593 357.1h5.9v5.9h-5.9zM1635 339.1h5.9v5.9h-5.9zM1578 369.1h5.9v5.9h-5.9zM1584 372.1h5.9v5.9h-5.9zM1584 345.1h5.9v5.9h-5.9zM1515 354.1h5.9v5.9h-5.9zM1602 345.1h5.9v5.9h-5.9zM1569 312.1h5.9v5.9h-5.9zM1569 318.1h5.9v5.9h-5.9zM1605 327.1h5.9v5.9h-5.9zM1617 312.1h5.9v5.9h-5.9zM1566 315.1h5.9v5.9h-5.9zM1608 330.1h5.9v5.9h-5.9zM1563 345.1h5.9v5.9h-5.9zM1566 393.1h5.9v5.9h-5.9zM1560 324.1h5.9v5.9h-5.9zM1617 360.1h5.9v5.9h-5.9zM1530 345.1h5.9v5.9h-5.9zM1617 321.1h5.9v5.9h-5.9zM1611 333.1h5.9v5.9h-5.9zM1560 336.1h5.9v5.9h-5.9zM1656 333.1h5.9v5.9h-5.9zM1587 363.1h5.9v5.9h-5.9zM1581 348.1h5.9v5.9h-5.9zM1638 330.1h5.9v5.9h-5.9zM1599 339.1h5.9v5.9h-5.9zM1533 345.1h5.9v5.9h-5.9zM1593 318.1h5.9v5.9h-5.9zM1587 369.1h5.9v5.9h-5.9zM1578 351.1h5.9v5.9h-5.9zM1563 336.1h5.9v5.9h-5.9zM1629 354.1h5.9v5.9h-5.9zM1545 363.1h5.9v5.9h-5.9zM1539 351.1h5.9v5.9h-5.9zM1545 342.1h5.9v5.9h-5.9zM1527 339.1h5.9v5.9h-5.9zM1608 384.1h5.9v5.9h-5.9zM1632 324.1h5.9v5.9h-5.9zM1572 360.1h5.9v5.9h-5.9zM1536 357.1h5.9v5.9h-5.9zM1551 327.1h5.9v5.9h-5.9zM1617 333.1h5.9v5.9h-5.9zM1554 351.1h5.9v5.9h-5.9zM1593 327.1h5.9v5.9h-5.9zM1614 345.1h5.9v5.9h-5.9zM1620 375.1h5.9v5.9h-5.9zM1560 363.1h5.9v5.9h-5.9zM1632 330.1h5.9v5.9h-5.9zM1608 360.1h5.9v5.9h-5.9zM1569 324.1h5.9v5.9h-5.9zM1569 348.1h5.9v5.9h-5.9zM1623 336.1h5.9v5.9h-5.9zM1584 324.1h5.9v5.9h-5.9zM1614 375.1h5.9v5.9h-5.9zM1554 354.1h5.9v5.9h-5.9zM1611 345.1h5.9v5.9h-5.9zM1557 366.1h5.9v5.9h-5.9zM1626 330.1h5.9v5.9h-5.9zM1641 351.1h5.9v5.9h-5.9zM1596 375.1h5.9v5.9h-5.9zM1521 315.1h5.9v5.9h-5.9zM1641 309.1h5.9v5.9h-5.9zM1638 351.1h5.9v5.9h-5.9zM1617 330.1h5.9v5.9h-5.9zM1581 363.1h5.9v5.9h-5.9zM1635 333.1h5.9v5.9h-5.9zM1569 351.1h5.9v5.9h-5.9zM1599 330.1h5.9v5.9h-5.9zM1593 390.1h5.9v5.9h-5.9zM1620 393.1h5.9v5.9h-5.9zM1623 330.1h5.9v5.9h-5.9zM1548 357.1h5.9v5.9h-5.9zM1524 372.1h5.9v5.9h-5.9zM1581 306.1h5.9v5.9h-5.9zM1647 330.1h5.9v5.9h-5.9zM1587 348.1h5.9v5.9h-5.9zM1581 342.1h5.9v5.9h-5.9zM1533 360.1h5.9v5.9h-5.9zM1602 372.1h5.9v5.9h-5.9zM1635 351.1h5.9v5.9h-5.9zM1596 309.1h5.9v5.9h-5.9zM1647 324.1h5.9v5.9h-5.9zM1599 327.1h5.9v5.9h-5.9zM1617 309.1h5.9v5.9h-5.9zM1605 324.1h5.9v5.9h-5.9zM1638 339.1h5.9v5.9h-5.9zM1542 366.1h5.9v5.9h-5.9zM1635 363.1h5.9v5.9h-5.9zM1617 369.1h5.9v5.9h-5.9zM1545 330.1h5.9v5.9h-5.9zM1581 357.1h5.9v5.9h-5.9zM1578 372.1h5.9v5.9h-5.9zM1575 324.1h5.9v5.9h-5.9zM1587 312.1h5.9v5.9h-5.9zM1608 333.1h5.9v5.9h-5.9zM1575 342.1h5.9v5.9h-5.9zM1563 360.1h5.9v5.9h-5.9zM1605 369.1h5.9v5.9h-5.9zM1617 297.1h5.9v5.9h-5.9zM1581 309.1h5.9v5.9h-5.9zM1638 348.1h5.9v5.9h-5.9zM1608 372.1h5.9v5.9h-5.9zM1578 342.1h5.9v5.9h-5.9zM1623 366.1h5.9v5.9h-5.9zM1596 366.1h5.9v5.9h-5.9zM1524 306.1h5.9v5.9h-5.9zM1632 315.1h5.9v5.9h-5.9zM1602 321.1h5.9v5.9h-5.9zM1614 357.1h5.9v5.9h-5.9zM1599 357.1h5.9v5.9h-5.9zM1593 354.1h5.9v5.9h-5.9zM1647 363.1h5.9v5.9h-5.9zM1545 348.1h5.9v5.9h-5.9zM1557 327.1h5.9v5.9h-5.9zM1644 348.1h5.9v5.9h-5.9zM1533 330.1h5.9v5.9h-5.9zM1527 321.1h5.9v5.9h-5.9zM1524 315.1h5.9v5.9h-5.9zM1515 273.1h5.9v5.9h-5.9zM1533 324.1h5.9v5.9h-5.9zM1521 312.1h5.9v5.9h-5.9zM1518 378.1h5.9v5.9h-5.9zM1515 369.1h5.9v5.9h-5.9zM1521 330.1h5.9v5.9h-5.9zM1527 306.1h5.9v5.9h-5.9zM1539 342.1h5.9v5.9h-5.9zM1527 291.1h5.9v5.9h-5.9zM1551 360.1h5.9v5.9h-5.9zM1530 309.1h5.9v5.9h-5.9zM1533 321.1h5.9v5.9h-5.9zM1542 288.1h5.9v5.9h-5.9zM1542 372.1h5.9v5.9h-5.9zM1530 333.1h5.9v5.9h-5.9zM1545 309.1h5.9v5.9h-5.9zM1521 348.1h5.9v5.9h-5.9zM1536 312.1h5.9v5.9h-5.9zM1545 324.1h5.9v5.9h-5.9zM1512 327.1h5.9v5.9h-5.9zM1530 375.1h5.9v5.9h-5.9zM1530 312.1h5.9v5.9h-5.9zM1527 360.1h5.9v5.9h-5.9zM1554 285.1h5.9v5.9h-5.9zM1521 291.1h5.9v5.9h-5.9zM1524 297.1h5.9v5.9h-5.9zM1530 351.1h5.9v5.9h-5.9zM1518 273.1h5.9v5.9h-5.9zM1512 351.1h5.9v5.9h-5.9zM1542 273.1h5.9v5.9h-5.9zM1542 348.1h5.9v5.9h-5.9zM1533 339.1h5.9v5.9h-5.9zM1533 300.1h5.9v5.9h-5.9zM1548 318.1h5.9v5.9h-5.9zM1518 303.1h5.9v5.9h-5.9zM1542 279.1h5.9v5.9h-5.9zM1542 381.1h5.9v5.9h-5.9zM1533 282.1h5.9v5.9h-5.9zM1521 309.1h5.9v5.9h-5.9zM1518 279.1h5.9v5.9h-5.9zM1527 312.1h5.9v5.9h-5.9zM1536 282.1h5.9v5.9h-5.9zM1548 351.1h5.9v5.9h-5.9zM1539 297.1h5.9v5.9h-5.9zM1548 309.1h5.9v5.9h-5.9zM1521 303.1h5.9v5.9h-5.9zM1548 348.1h5.9v5.9h-5.9zM1527 324.1h5.9v5.9h-5.9zM1533 294.1h5.9v5.9h-5.9zM1527 297.1h5.9v5.9h-5.9zM1527 333.1h5.9v5.9h-5.9zM1539 354.1h5.9v5.9h-5.9zM1536 339.1h5.9v5.9h-5.9zM1527 336.1h5.9v5.9h-5.9zM1536 315.1h5.9v5.9h-5.9zM1533 285.1h5.9v5.9h-5.9zM1545 300.1h5.9v5.9h-5.9zM1533 318.1h5.9v5.9h-5.9zM1539 306.1h5.9v5.9h-5.9zM1521 261.1h5.9v5.9h-5.9zM1527 282.1h5.9v5.9h-5.9zM1536 360.1h5.9v5.9h-5.9zM1509 279.1h5.9v5.9h-5.9zM1533 354.1h5.9v5.9h-5.9zM1533 327.1h5.9v5.9h-5.9zM1536 336.1h5.9v5.9h-5.9zM1527 303.1h5.9v5.9h-5.9zM1527 285.1h5.9v5.9h-5.9zM1524 318.1h5.9v5.9h-5.9zM1509 330.1h5.9v5.9h-5.9zM1518 372.1h5.9v5.9h-5.9zM1515 300.1h5.9v5.9h-5.9zM1512 315.1h5.9v5.9h-5.9zM1524 312.1h5.9v5.9h-5.9zM1536 300.1h5.9v5.9h-5.9zM1512 306.1h5.9v5.9h-5.9zM1536 279.1h5.9v5.9h-5.9zM1530 300.1h5.9v5.9h-5.9zM1539 348.1h5.9v5.9h-5.9zM1530 306.1h5.9v5.9h-5.9zM1518 351.1h5.9v5.9h-5.9zM1551 336.1h5.9v5.9h-5.9zM1530 324.1h5.9v5.9h-5.9zM1524 321.1h5.9v5.9h-5.9zM1539 303.1h5.9v5.9h-5.9zM1536 291.1h5.9v5.9h-5.9zM1527 309.1h5.9v5.9h-5.9zM1542 294.1h5.9v5.9h-5.9zM1527 345.1h5.9v5.9h-5.9zM1536 288.1h5.9v5.9h-5.9zM1518 345.1h5.9v5.9h-5.9zM1539 276.1h5.9v5.9h-5.9zM1530 357.1h5.9v5.9h-5.9zM1548 279.1h5.9v5.9h-5.9zM1521 342.1h5.9v5.9h-5.9zM1539 336.1h5.9v5.9h-5.9zM1533 252.1h5.9v5.9h-5.9zM1533 303.1h5.9v5.9h-5.9zM1539 285.1h5.9v5.9h-5.9zM1530 279.1h5.9v5.9h-5.9zM1539 282.1h5.9v5.9h-5.9zM1524 330.1h5.9v5.9h-5.9zM1521 360.1h5.9v5.9h-5.9zM1524 348.1h5.9v5.9h-5.9zM1551 243.1h5.9v5.9h-5.9zM1542 303.1h5.9v5.9h-5.9zM1452 408.1h5.9v5.9h-5.9zM1572 408.1h5.9v5.9h-5.9zM1656 396.1h5.9v5.9h-5.9zM1698 348.1h5.9v5.9h-5.9zM1692 381.1h5.9v5.9h-5.9zM1431 327.1h5.9v5.9h-5.9z" fill="#999" shape-rendering="crispEdges"/>
<path d="M1543 209h6v6h-6zM1519 279h6v6h-6zM1575 294h6v6h-6zM1640 298h6v6h-6zM1612 299h6v6h-6zM1602 326h6v6h-6zM1642 309h6v6h-6zM1437 309h6v6h-6zM1465 315h6v6h-6zM1482 319h6v6h-6zM1485 332h6v6h-6zM1472 335h6v6h-6zM1505 327h6v6h-6zM1517 334h6v6h-6zM1527 335h6v6h-6zM1534 333h6v6h-6zM1538 322h6v6h-6zM1459 355h6v6h-6zM1477 358h6v6h-6zM1494 366h6v6h-6zM1503 369h6v6h-6zM1534 337h6v6h-6zM1545 347h6v6h-6zM1550 334h6v6h-6zM1577 317h6v6h-6zM1567 322h6v6h-6zM1587 327h6v6h-6zM1597 345h6v6h-6zM1617 332h6v6h-6zM1632 337h6v6h-6zM1652 319h6v6h-6zM1640 324h6v6h-6zM1557 367h6v6h-6zM1572 369h6v6h-6zM1587 365h6v6h-6zM1572 352h6v6h-6zM1559 347h6v6h-6zM1595 352h6v6h-6zM1607 352h6v6h-6zM1622 347h6v6h-6zM1637 347h6v6h-6zM1649 342h6v6h-6zM1582 385h6v6h-6zM1566 380h6v6h-6zM1597 374h6v6h-6zM1607 372h6v6h-6zM1617 362h6v6h-6zM1627 357h6v6h-6zM1642 360h6v6h-6zM1652 352h6v6h-6zM1612 387h6v6h-6zM1600 378h6v6h-6zM1550 357h6v6h-6zM1542 369h6v6h-6zM1557 342h6v6h-6zM1632 372h6v6h-6zM1647 369h6v6h-6zM1682 323h6v6h-6zM1592 388h6v6h-6zM1622 377h6v6h-6z" fill="#0000b0" shape-rendering="crispEdges"/>
<path d="M1528.3 58.5V447.9M1417.8 308.8H1808.6" stroke="#000" stroke-width="2.8" fill="none"/>
<rect x="1417.8" y="58.5" width="390.8" height="389.4" fill="none" stroke="#222" stroke-width="1.6"/>
<path d="M1412.3 347.1H1417.8M1412.3 337.2H1417.8M1412.3 328.7H1417.8M1412.3 321.5H1417.8M1412.3 315.3H1417.8M1412.3 310H1417.8M1412.3 305.4H1417.8M1412.3 301.2H1417.8M1412.3 297.5H1417.8M1412.3 262.3H1417.8M1412.3 243.6H1417.8M1412.3 230.3H1417.8M1409.8 220H1417.8M1412.3 211.6H1417.8M1412.3 204.5H1417.8M1412.3 198.4H1417.8M1412.3 193H1417.8M1412.3 160.1H1417.8M1412.3 143.8H1417.8M1412.3 132.2H1417.8M1409.8 123.2H1417.8M1412.3 115.8H1417.8M1412.3 109.6H1417.8M1412.3 104.2H1417.8M1412.3 99.5H1417.8M1412.3 67.2H1417.8M1412.3 378.8H1417.8M1412.3 387.3H1417.8M1412.3 394.5H1417.8M1412.3 400.7H1417.8M1412.3 406H1417.8M1412.3 410.6H1417.8M1412.3 414.8H1417.8M1412.3 418.5H1417.8M1412.3 421.8H1417.8M1412.3 444.3H1417.8" stroke="#111" stroke-width="1.6" fill="none"/>
<path d="M1406.8 294.2H1417.8M1406.8 188.1H1417.8M1406.8 95.2H1417.8" stroke="#111" stroke-width="2.8" fill="none"/>
<path d="M1508.5 447.9V453.4M1524 447.9V453.4M1536.3 447.9V453.4M1546.2 447.9V453.4M1554.3 447.9V453.4M1561.1 447.9V453.4M1567 447.9V453.4M1572.2 447.9V453.4M1576.8 447.9V453.4M1610.7 447.9V453.4M1628.1 447.9V453.4M1640.5 447.9V453.4M1650.1 447.9V455.9M1657.9 447.9V453.4M1664.6 447.9V453.4M1670.3 447.9V453.4M1675.4 447.9V453.4M1706.7 447.9V453.4M1722.4 447.9V453.4M1733.5 447.9V453.4M1742.2 447.9V455.9M1749.2 447.9V453.4M1755.2 447.9V453.4M1760.4 447.9V453.4M1764.9 447.9V453.4M1795.8 447.9V453.4M1456 447.9V453.4M1443.7 447.9V453.4M1433.8 447.9V453.4M1425.7 447.9V453.4M1418.9 447.9V453.4" stroke="#111" stroke-width="1.6" fill="none"/>
<path d="M1580.9 447.9V458.9M1679.9 447.9V458.9M1769 447.9V458.9" stroke="#111" stroke-width="2.8" fill="none"/>
<path d="M1412 349.9H1417.8M1412 352.4H1417.8M1412 357.4H1417.8M1412 359.8H1417.8M1412 362.3H1417.8M1412 364.8H1417.8" stroke="#000" stroke-width="2" fill="none"/>
<path d="M1407.3 349.9H1417.8M1407.3 367.3H1417.8" stroke="#000" stroke-width="2.6" fill="none"/>
<path d="M1407.3 358.6H1417.8" stroke="#000" stroke-width="4" fill="none"/>
<path d="M1464.8 447.9V453.7M1467.5 447.9V453.7M1472.8 447.9V453.7M1475.5 447.9V453.7M1483.5 447.9V453.7M1486.2 447.9V453.7M1491.6 447.9V453.7M1494.2 447.9V453.7M1496.9 447.9V453.7M1499.6 447.9V453.7" stroke="#000" stroke-width="2" fill="none"/>
<path d="M1466.2 447.9V458.4M1498.2 447.9V458.4" stroke="#000" stroke-width="2.8" fill="none"/>
<path d="M1482.2 447.9V458.4" stroke="#000" stroke-width="7" fill="none"/>
<text x="1394.9" y="104.4" font-size="27" fill="#000" text-anchor="end" transform="matrix(1 0 0 1.04 0 -4.18)"><tspan>10</tspan><tspan dy="-12.7" font-size="18.4">5</tspan></text>
<text x="1394.9" y="197.3" font-size="27" fill="#000" text-anchor="end" transform="matrix(1 0 0 1.04 0 -7.89)"><tspan>10</tspan><tspan dy="-12.7" font-size="18.4">4</tspan></text>
<text x="1394.9" y="303.4" font-size="27" fill="#000" text-anchor="end" transform="matrix(1 0 0 1.04 0 -12.14)"><tspan>10</tspan><tspan dy="-12.7" font-size="18.4">3</tspan></text>
<text x="1394.9" y="431.8" font-size="27" fill="#000" text-anchor="end" transform="matrix(1 0 0 1.04 0 -17.27)"><tspan>−10</tspan><tspan dy="-12.7" font-size="18.4">3</tspan></text>
<text x="1394.5" y="364.6" font-size="27" fill="#000" text-anchor="end" transform="matrix(1 0 0 1.04 0 -14.58)"><tspan>0</tspan></text>
<text x="1581.9" y="496.7" font-size="27" fill="#000" text-anchor="middle" transform="matrix(1 0 0 1.04 0 -19.87)"><tspan>10</tspan><tspan dy="-12.7" font-size="18.4">3</tspan></text>
<text x="1680.9" y="496.7" font-size="27" fill="#000" text-anchor="middle" transform="matrix(1 0 0 1.04 0 -19.87)"><tspan>10</tspan><tspan dy="-12.7" font-size="18.4">4</tspan></text>
<text x="1770" y="496.7" font-size="27" fill="#000" text-anchor="middle" transform="matrix(1 0 0 1.04 0 -19.87)"><tspan>10</tspan><tspan dy="-12.7" font-size="18.4">5</tspan></text>
<text x="1490.3" y="496.7" font-size="27" fill="#000" text-anchor="middle" transform="matrix(1 0 0 1.04 0 -19.87)"><tspan>0</tspan></text>
<text x="1612.5" y="537.8" font-size="27" fill="#000" text-anchor="middle" transform="matrix(1 0 0 1.04 0 -21.51)"><tspan>CXCR3 PE-Dazzle</tspan></text>
<text x="1325.7" y="252.2" font-size="27" fill="#000" text-anchor="middle" transform="rotate(-90 1325.7 252.2) matrix(1 0 0 1.04 0 -10.09)"><tspan>CCR6 BV785</tspan></text>
<text x="1792.7" y="107.1" font-size="27" fill="#1010d0" text-anchor="end" transform="matrix(1 0 0 1.04 0 -4.28)"><tspan>TET</tspan><tspan dy="8.1" font-size="18.4">751</tspan><tspan dy="-16.5" font-size="18.4">+</tspan><tspan dy="8.4"> cT</tspan><tspan dy="8.1" font-size="18.4">FH</tspan></text>
<text x="1792.7" y="147.2" font-size="27" fill="#777" text-anchor="end" transform="matrix(1 0 0 1.04 0 -5.89)"><tspan>Total cT</tspan><tspan dy="8.1" font-size="18.4">FH</tspan></text>
<text x="1425.5" y="438" font-size="27" fill="#1010d0" text-anchor="start" transform="matrix(1 0 0 1.04 0 -17.52)"><tspan>18.66%</tspan></text>
<text x="1782.5" y="431.6" font-size="27" fill="#1010d0" text-anchor="end" transform="matrix(1 0 0 1.04 0 -17.26)"><tspan>75.76%</tspan></text>
<path d="M205.6 838.6L321.6 734.5M205.6 856.4L321.6 631.2M205.6 858.9L321.6 720.7M205.6 860.5L321.6 786.5M205.6 864.6L321.6 828M205.6 868.6L321.6 832.1M205.6 888.2L321.6 841.8M205.6 873.5L321.6 898.7M205.6 868.6L321.6 906M205.6 877.6L321.6 969.5M205.6 900.4L321.6 932.1M205.6 913.4L321.6 886.5M205.6 917.4L321.6 891.4M205.6 915.8L321.6 913.4M205.6 928.8L321.6 919.1M205.6 940.2L321.6 932.1M205.6 944.3L321.6 951.6M205.6 949.1L321.6 956.4M205.6 950.8L321.6 956.4M205.6 864.6L321.6 902.8" stroke="#000" stroke-width="2.2" fill="none"/>
<g fill="#000"><circle cx="205.6" cy="838.6" r="6.4"/><circle cx="321.6" cy="734.5" r="6.4"/><circle cx="205.6" cy="856.4" r="6.4"/><circle cx="321.6" cy="631.2" r="6.4"/><circle cx="205.6" cy="858.9" r="6.4"/><circle cx="321.6" cy="720.7" r="6.4"/><circle cx="205.6" cy="860.5" r="6.4"/><circle cx="321.6" cy="786.5" r="6.4"/><circle cx="205.6" cy="864.6" r="6.4"/><circle cx="321.6" cy="828" r="6.4"/><circle cx="205.6" cy="868.6" r="6.4"/><circle cx="321.6" cy="832.1" r="6.4"/><circle cx="205.6" cy="888.2" r="6.4"/><circle cx="321.6" cy="841.8" r="6.4"/><circle cx="205.6" cy="873.5" r="6.4"/><circle cx="321.6" cy="898.7" r="6.4"/><circle cx="205.6" cy="868.6" r="6.4"/><circle cx="321.6" cy="906" r="6.4"/><circle cx="205.6" cy="877.6" r="6.4"/><circle cx="321.6" cy="969.5" r="6.4"/><circle cx="205.6" cy="900.4" r="6.4"/><circle cx="321.6" cy="932.1" r="6.4"/><circle cx="205.6" cy="913.4" r="6.4"/><circle cx="321.6" cy="886.5" r="6.4"/><circle cx="205.6" cy="917.4" r="6.4"/><circle cx="321.6" cy="891.4" r="6.4"/><circle cx="205.6" cy="915.8" r="6.4"/><circle cx="321.6" cy="913.4" r="6.4"/><circle cx="205.6" cy="928.8" r="6.4"/><circle cx="321.6" cy="919.1" r="6.4"/><circle cx="205.6" cy="940.2" r="6.4"/><circle cx="321.6" cy="932.1" r="6.4"/><circle cx="205.6" cy="944.3" r="6.4"/><circle cx="321.6" cy="951.6" r="6.4"/><circle cx="205.6" cy="949.1" r="6.4"/><circle cx="321.6" cy="956.4" r="6.4"/><circle cx="205.6" cy="950.8" r="6.4"/><circle cx="321.6" cy="956.4" r="6.4"/><circle cx="205.6" cy="864.6" r="6.4"/><circle cx="321.6" cy="902.8" r="6.4"/></g>
<path d="M128.6 571.9V978.4H399" stroke="#222" stroke-width="1.6" fill="none"/>
<path d="M114.1 978.4H128.6M114.1 897.1H128.6M114.1 815.8H128.6M114.1 734.5H128.6M114.1 653.2H128.6M114.1 571.9H128.6M205.6 978.4V992.8M321.6 978.4V992.8" stroke="#555" stroke-width="1.5" fill="none"/>
<text x="100.5" y="987.8" font-size="27" fill="#000" text-anchor="end" transform="matrix(1 0 0 1.04 0 -39.51)"><tspan>0</tspan></text>
<text x="100.5" y="906.5" font-size="27" fill="#000" text-anchor="end" transform="matrix(1 0 0 1.04 0 -36.26)"><tspan>10</tspan></text>
<text x="100.5" y="825.2" font-size="27" fill="#000" text-anchor="end" transform="matrix(1 0 0 1.04 0 -33.01)"><tspan>20</tspan></text>
<text x="100.5" y="743.9" font-size="27" fill="#000" text-anchor="end" transform="matrix(1 0 0 1.04 0 -29.76)"><tspan>30</tspan></text>
<text x="100.5" y="662.6" font-size="27" fill="#000" text-anchor="end" transform="matrix(1 0 0 1.04 0 -26.50)"><tspan>40</tspan></text>
<text x="100.5" y="581.3" font-size="27" fill="#000" text-anchor="end" transform="matrix(1 0 0 1.04 0 -23.25)"><tspan>50</tspan></text>
<text x="46.4" y="775.6" font-size="27" fill="#000" text-anchor="middle" transform="rotate(-90 46.4 775.6) matrix(1 0 0 1.04 0 -31.02)"><tspan>CXCR5</tspan><tspan dy="-12.2" font-size="18.4">+</tspan><tspan dy="12.2"> (%)</tspan></text>
<text y="605.8" font-size="27"><tspan x="202.5" font-style="italic">P</tspan><tspan x="224.3">&gt;</tspan><tspan x="248.8">0.05</tspan></text>
<text x="205.2" y="1026" font-size="27" fill="#000" text-anchor="middle" transform="matrix(1 0 0 1.04 0 -41.04)"><tspan>Total</tspan></text>
<text x="190.3" y="1058.1" font-size="27" fill="#000" text-anchor="start" transform="matrix(1 0 0 1.04 0 -42.32)"><tspan>T</tspan><tspan dy="8.1" font-size="18.4">M</tspan></text>
<text x="275.5" y="1028" font-size="27" fill="#000" text-anchor="start" transform="matrix(1 0 0 1.04 0 -41.12)"><tspan>TET</tspan><tspan dy="8.1" font-size="18.4">751</tspan><tspan dy="-17.3" font-size="18.4">+</tspan></text>
<path d="M730.1 647.3L769.3 756.2M734.1 684.7L769.3 756.2M736.5 693.4L768.9 730.3M723.7 715.3L727.7 738.5M742.8 735.7L772.9 760.9M727.7 738.5L752.1 826.8M727.7 738.5L833.9 851M768.9 730.3L824.6 822M772.9 760.9L837 806.5M837 806.5L879.2 755.8M879.2 755.8L944.1 816M944.1 816L1075.8 930.9M944.1 816L1099 832M769.3 756.2L827.8 860.7M772.9 760.9L825.1 886.1M734.1 684.7L772.9 760.9M742.6 823.9L804.6 836.3M752.1 826.8L804.6 836.3M752.1 826.8L778.5 853.5M752.1 826.8L767.9 877.4M734.7 856.8L748.6 878.6M748.6 878.6L778.5 853.5M778.5 853.5L791 872.8M767.9 877.4L788.6 885.4M804.6 836.3L833.9 851M804.6 836.3L851.6 869.7M833.9 851L944.1 816M851.6 869.7L939.9 823.5M833.9 851L910.3 874.9M827.8 860.7L910.3 874.9M824.6 822L910.3 874.9M851.6 869.7L918.6 919M824.6 878.3L923.8 875.7M825.1 886.1L937.7 880.1M825.1 886.1L852.8 926M824.6 878.3L910.3 957.1M830.3 904.3L897.8 920.8M827.7 914.7L926.4 920.8M825.1 919L926.4 938.9M852.8 926L919.5 893M842.1 929.4L934.5 949.3M825.6 951.9L897.8 920.8M758.4 894.8L825.6 951.9M910.3 957.1L938 968.4M910.3 957.1L934.5 949.3M726.7 953.7L778.5 853.5M742.5 894.8L773.1 968.4M773.1 968.4L824.6 878.3M731.6 860.5L767.9 877.4M734.2 892.2L825.1 886.1M766.2 893.9L830.3 904.3M733 913.8L827.7 914.7M740.6 918.2L913.4 923.4M771.2 885.5L825.1 919M791 872.8L842.1 929.4M788.6 885.4L923.8 875.7M824.6 822L929.9 883.5M827.8 860.7L852.8 926M910.3 874.9L1093.1 911.2M923.8 875.7L1095.9 916.3M937.7 880.1L1126.3 901.8M929.9 883.5L1093.1 911.2M918.6 919L1095.9 968.7M919.5 893L1130.5 968.7M934.5 949.3L1130.5 968.7M934.5 949.3L1115.9 925.8M897.8 920.8L1075.8 930.9M913.4 923.4L1118.3 918.5M926.4 920.8L1128.7 937.9M926.4 938.9L1083.1 940M1083.1 940L1147.4 948.6M1075.8 930.9L1128.7 937.9M1093.1 911.2L1118.3 918.5M1118.3 918.5L1148.4 927.6M1148.4 927.6L1171.5 930.9M1130.5 968.7L1162 968.7M1162 968.7L1173 968.7M938 968.4L1095.9 968.7M929.9 883.5L1115.9 925.8" stroke="#000" stroke-width="2" fill="none"/>
<g fill="#000"><circle cx="730.1" cy="647.3" r="7"/><circle cx="734.1" cy="684.7" r="7"/><circle cx="736.5" cy="693.4" r="7"/><circle cx="723.7" cy="715.3" r="7"/><circle cx="727.7" cy="738.5" r="7"/><circle cx="742.8" cy="735.7" r="7"/><circle cx="768.9" cy="730.3" r="7"/><circle cx="769.3" cy="756.2" r="7"/><circle cx="772.9" cy="760.9" r="7"/><circle cx="879.2" cy="755.8" r="7"/><circle cx="837" cy="806.5" r="7"/><circle cx="742.6" cy="823.9" r="7"/><circle cx="752.1" cy="826.8" r="7"/><circle cx="804.6" cy="836.3" r="7"/><circle cx="824.6" cy="822" r="7"/><circle cx="944.1" cy="816" r="7"/><circle cx="939.9" cy="823.5" r="7"/><circle cx="778.5" cy="853.5" r="7"/><circle cx="833.9" cy="851" r="7"/><circle cx="827.8" cy="860.7" r="7"/><circle cx="851.6" cy="869.7" r="7"/><circle cx="734.7" cy="856.8" r="7"/><circle cx="731.6" cy="860.5" r="7"/><circle cx="748.6" cy="878.6" r="7"/><circle cx="767.9" cy="877.4" r="7"/><circle cx="791" cy="872.8" r="7"/><circle cx="824.6" cy="878.3" r="7"/><circle cx="771.2" cy="885.5" r="7"/><circle cx="788.6" cy="885.4" r="7"/><circle cx="825.1" cy="886.1" r="7"/><circle cx="910.3" cy="874.9" r="7"/><circle cx="923.8" cy="875.7" r="7"/><circle cx="937.7" cy="880.1" r="7"/><circle cx="929.9" cy="883.5" r="7"/><circle cx="919.5" cy="893" r="7"/><circle cx="734.2" cy="892.2" r="7"/><circle cx="742.5" cy="894.8" r="7"/><circle cx="758.4" cy="894.8" r="7"/><circle cx="766.2" cy="893.9" r="7"/><circle cx="830.3" cy="904.3" r="7"/><circle cx="827.7" cy="914.7" r="7"/><circle cx="825.1" cy="919" r="7"/><circle cx="733" cy="913.8" r="7"/><circle cx="740.6" cy="918.2" r="7"/><circle cx="842.1" cy="929.4" r="7"/><circle cx="852.8" cy="926" r="7"/><circle cx="897.8" cy="920.8" r="7"/><circle cx="913.4" cy="923.4" r="7"/><circle cx="918.6" cy="919" r="7"/><circle cx="926.4" cy="920.8" r="7"/><circle cx="926.4" cy="938.9" r="7"/><circle cx="934.5" cy="949.3" r="7"/><circle cx="726.7" cy="953.7" r="7"/><circle cx="773.1" cy="968.4" r="7"/><circle cx="825.6" cy="951.9" r="7"/><circle cx="910.3" cy="957.1" r="7"/><circle cx="938" cy="968.4" r="7"/><circle cx="1099" cy="832" r="7"/><circle cx="1126.3" cy="901.8" r="7"/><circle cx="1093.1" cy="911.2" r="7"/><circle cx="1095.9" cy="916.3" r="7"/><circle cx="1118.3" cy="918.5" r="7"/><circle cx="1115.9" cy="925.8" r="7"/><circle cx="1148.4" cy="927.6" r="7"/><circle cx="1171.5" cy="930.9" r="7"/><circle cx="1075.8" cy="930.9" r="7"/><circle cx="1083.1" cy="940" r="7"/><circle cx="1128.7" cy="937.9" r="7"/><circle cx="1147.4" cy="948.6" r="7"/><circle cx="1095.9" cy="968.7" r="7"/><circle cx="1130.5" cy="968.7" r="7"/><circle cx="1162" cy="968.7" r="7"/><circle cx="1173" cy="968.7" r="7"/></g>
<path d="M699.5 617.4V982.2M686.3 968.5H1225.4" stroke="#222" stroke-width="1.6" fill="none"/>
<path d="M685.8 880.8H699.5M685.8 793.1H699.5M685.8 705.3H699.5M685.8 617.6H699.5M804.9 968.5V982.2M910 968.5V982.2M1015.2 968.5V982.2M1120.3 968.5V982.2M1225.5 968.5V982.2" stroke="#555" stroke-width="1.5" fill="none"/>
<text x="671.5" y="627" font-size="27" fill="#000" text-anchor="end" transform="matrix(1 0 0 1.04 0 -25.08)"><tspan>0.080</tspan></text>
<text x="671.5" y="714.7" font-size="27" fill="#000" text-anchor="end" transform="matrix(1 0 0 1.04 0 -28.59)"><tspan>0.060</tspan></text>
<text x="671.5" y="802.5" font-size="27" fill="#000" text-anchor="end" transform="matrix(1 0 0 1.04 0 -32.10)"><tspan>0.040</tspan></text>
<text x="671.5" y="890.2" font-size="27" fill="#000" text-anchor="end" transform="matrix(1 0 0 1.04 0 -35.61)"><tspan>0.020</tspan></text>
<text x="671.5" y="977.9" font-size="27" fill="#000" text-anchor="end" transform="matrix(1 0 0 1.04 0 -39.12)"><tspan>0</tspan></text>
<text x="699.7" y="1014.5" font-size="27" fill="#000" text-anchor="middle" transform="matrix(1 0 0 1.04 0 -40.58)"><tspan>0</tspan></text>
<text x="804.9" y="1014.5" font-size="27" fill="#000" text-anchor="middle" transform="matrix(1 0 0 1.04 0 -40.58)"><tspan>100</tspan></text>
<text x="910" y="1014.5" font-size="27" fill="#000" text-anchor="middle" transform="matrix(1 0 0 1.04 0 -40.58)"><tspan>200</tspan></text>
<text x="1015.2" y="1014.5" font-size="27" fill="#000" text-anchor="middle" transform="matrix(1 0 0 1.04 0 -40.58)"><tspan>300</tspan></text>
<text x="1120.3" y="1014.5" font-size="27" fill="#000" text-anchor="middle" transform="matrix(1 0 0 1.04 0 -40.58)"><tspan>400</tspan></text>
<text x="1225.5" y="1014.5" font-size="27" fill="#000" text-anchor="middle" transform="matrix(1 0 0 1.04 0 -40.58)"><tspan>500</tspan></text>
<text x="961.8" y="1060.1" font-size="27" fill="#000" text-anchor="middle" transform="matrix(1 0 0 1.04 0 -42.40)"><tspan>Time after symptom onset (d)</tspan></text>
<text x="571.5" y="793.4" font-size="27" fill="#000" text-anchor="middle" transform="rotate(-90 571.5 793.4) matrix(1 0 0 1.04 0 -31.74)"><tspan>TET</tspan><tspan dy="8.1" font-size="18.4">751</tspan><tspan dy="-21.6" font-size="18.4">+</tspan><tspan dy="13.5"> (%) of cT</tspan><tspan dy="8.1" font-size="18.4">FH</tspan></text>
<text x="984.8" y="671.2" font-size="27" fill="#000" text-anchor="middle" transform="matrix(1 0 0 1.04 0 -26.85)"><tspan>T</tspan><tspan dy="8.1" font-size="18.4">1/2</tspan><tspan dy="-8.1"> = 227 d</tspan></text>
<text x="984.8" y="708.5" font-size="27" fill="#000" text-anchor="middle" transform="matrix(1 0 0 1.04 0 -28.34)"><tspan>(95% CI 179–287 d)</tspan></text>
<path d="M1418.5 585.4V995.9H1829" stroke="#666" stroke-width="1.6" fill="none"/>
<path d="M1404.3 995.9H1418.5M1404.3 913.8H1418.5M1404.3 831.7H1418.5M1404.3 749.6H1418.5M1404.3 667.5H1418.5M1404.3 585.4H1418.5M1481.3 995.9V1010.2M1576.2 995.9V1010.2M1670.8 995.9V1010.2M1765.1 995.9V1010.2" stroke="#666" stroke-width="1.5" fill="none"/>
<g fill="#800000"><circle cx="1481.6" cy="927.3" r="8.3"/><circle cx="1481.6" cy="962" r="8.3"/><circle cx="1461.3" cy="983" r="8.3"/><circle cx="1502.1" cy="983.5" r="8.3"/><circle cx="1468.1" cy="987.9" r="8.3"/><circle cx="1458" cy="995.9" r="8.3"/><circle cx="1466" cy="995.9" r="8.3"/><circle cx="1474" cy="995.9" r="8.3"/><circle cx="1482" cy="995.9" r="8.3"/><circle cx="1490" cy="995.9" r="8.3"/><circle cx="1498" cy="995.9" r="8.3"/><circle cx="1505" cy="995.9" r="8.3"/></g>
<g fill="#0a3f80"><circle cx="1576.4" cy="893.3" r="8.3"/><circle cx="1576.4" cy="913.9" r="8.3"/><circle cx="1576.4" cy="927.6" r="8.3"/><circle cx="1576.4" cy="944.5" r="8.3"/><circle cx="1576.4" cy="959.4" r="8.3"/><circle cx="1600.2" cy="966.7" r="8.3"/><circle cx="1557.1" cy="968.2" r="8.3"/><circle cx="1552" cy="975.5" r="8.3"/><circle cx="1565.9" cy="979.1" r="8.3"/><circle cx="1586.3" cy="974.7" r="8.3"/><circle cx="1592.9" cy="973.3" r="8.3"/><circle cx="1576.4" cy="970" r="8.3"/><circle cx="1560.3" cy="995.9" r="8.3"/><circle cx="1568.4" cy="995.9" r="8.3"/><circle cx="1576.5" cy="995.9" r="8.3"/><circle cx="1584.6" cy="995.9" r="8.3"/><circle cx="1592.7" cy="995.9" r="8.3"/></g>
<g fill="#138000"><circle cx="1671.1" cy="610.1" r="8.3"/><circle cx="1671.1" cy="657.5" r="8.3"/><circle cx="1647.4" cy="688.1" r="8.3"/><circle cx="1659.2" cy="688.1" r="8.3"/><circle cx="1671.1" cy="684.8" r="8.3"/><circle cx="1682.9" cy="688.1" r="8.3"/><circle cx="1694.8" cy="688.1" r="8.3"/><circle cx="1682.9" cy="706.4" r="8.3"/><circle cx="1647.7" cy="714.9" r="8.3"/><circle cx="1659.2" cy="722.2" r="8.3"/><circle cx="1671.1" cy="722.2" r="8.3"/><circle cx="1659.2" cy="739.6" r="8.3"/><circle cx="1682.9" cy="742.3" r="8.3"/><circle cx="1671.1" cy="749.6" r="8.3"/><circle cx="1665.2" cy="776" r="8.3"/><circle cx="1676.9" cy="778.8" r="8.3"/><circle cx="1671" cy="820.3" r="8.3"/><circle cx="1671" cy="927.4" r="8.3"/><circle cx="1671" cy="995.9" r="8.3"/></g>
<g fill="#800080"><circle cx="1765.4" cy="667.5" r="8.3"/><circle cx="1757.9" cy="790.5" r="8.3"/><circle cx="1773" cy="790.5" r="8.3"/><circle cx="1773" cy="826.5" r="8.3"/><circle cx="1742.2" cy="834.9" r="8.3"/><circle cx="1789" cy="839.7" r="8.3"/><circle cx="1757.9" cy="854.4" r="8.3"/><circle cx="1742.2" cy="859.7" r="8.3"/><circle cx="1773" cy="859.7" r="8.3"/><circle cx="1789" cy="859.7" r="8.3"/><circle cx="1757.9" cy="890.7" r="8.3"/><circle cx="1773" cy="893.2" r="8.3"/><circle cx="1757.9" cy="923.6" r="8.3"/><circle cx="1773" cy="927.2" r="8.3"/><circle cx="1750" cy="944.6" r="8.3"/><circle cx="1765.7" cy="944.6" r="8.3"/><circle cx="1781" cy="944.6" r="8.3"/><circle cx="1765.7" cy="971.8" r="8.3"/><circle cx="1765.7" cy="995.9" r="8.3"/></g>
<path d="M1450.4 995.9H1512.8" stroke="#000" stroke-width="4"/>
<path d="M1481.6 995.9V989.8M1465.2 995.9H1498M1465.2 989.8H1498" stroke="#000" stroke-width="2.2" fill="none"/>
<path d="M1545.1 971.8H1607.7" stroke="#000" stroke-width="4"/>
<path d="M1576.4 995.9V959.7M1559.9 995.9H1592.9M1559.9 959.7H1592.9" stroke="#000" stroke-width="2.2" fill="none"/>
<path d="M1639.4 722.2H1702.8" stroke="#000" stroke-width="4"/>
<path d="M1671.1 776.4V688.1M1654.7 776.4H1687.5M1654.7 688.1H1687.5" stroke="#000" stroke-width="2.2" fill="none"/>
<path d="M1734.3 859.7H1797.1" stroke="#000" stroke-width="4"/>
<path d="M1765.7 944.6V834.9M1749.3 944.6H1782.1M1749.3 834.9H1782.1" stroke="#000" stroke-width="2.2" fill="none"/>
<text x="1388.3" y="1005.3" font-size="27" fill="#000" text-anchor="end" transform="matrix(1 0 0 1.04 0 -40.21)"><tspan>0</tspan></text>
<text x="1388.3" y="923.2" font-size="27" fill="#000" text-anchor="end" transform="matrix(1 0 0 1.04 0 -36.93)"><tspan>20</tspan></text>
<text x="1388.3" y="841.1" font-size="27" fill="#000" text-anchor="end" transform="matrix(1 0 0 1.04 0 -33.64)"><tspan>40</tspan></text>
<text x="1388.3" y="759" font-size="27" fill="#000" text-anchor="end" transform="matrix(1 0 0 1.04 0 -30.36)"><tspan>60</tspan></text>
<text x="1388.3" y="676.9" font-size="27" fill="#000" text-anchor="end" transform="matrix(1 0 0 1.04 0 -27.08)"><tspan>80</tspan></text>
<text x="1388.3" y="594.8" font-size="27" fill="#000" text-anchor="end" transform="matrix(1 0 0 1.04 0 -23.79)"><tspan>100</tspan></text>
<text x="1326.6" y="1050.7" font-size="27" fill="#000" text-anchor="start" transform="matrix(1 0 0 1.04 0 -42.03)"><tspan>CCR6</tspan></text>
<text x="1326.6" y="1095" font-size="27" fill="#000" text-anchor="start" transform="matrix(1 0 0 1.04 0 -43.80)"><tspan>CXCR3</tspan></text>
<text x="1481.3" y="1052.5" font-size="27" fill="#000" text-anchor="middle" transform="matrix(1 0 0 1.04 0 -42.10)"><tspan>+</tspan></text>
<text x="1481.3" y="1096.5" font-size="27" fill="#000" text-anchor="middle" transform="matrix(1 0 0 1.04 0 -43.86)"><tspan>−</tspan></text>
<text x="1576.2" y="1052.5" font-size="27" fill="#000" text-anchor="middle" transform="matrix(1 0 0 1.04 0 -42.10)"><tspan>+</tspan></text>
<text x="1576.2" y="1096.5" font-size="27" fill="#000" text-anchor="middle" transform="matrix(1 0 0 1.04 0 -43.86)"><tspan>+</tspan></text>
<text x="1670.8" y="1052.5" font-size="27" fill="#000" text-anchor="middle" transform="matrix(1 0 0 1.04 0 -42.10)"><tspan>−</tspan></text>
<text x="1670.8" y="1096.5" font-size="27" fill="#000" text-anchor="middle" transform="matrix(1 0 0 1.04 0 -43.86)"><tspan>+</tspan></text>
<text x="1765.1" y="1052.5" font-size="27" fill="#000" text-anchor="middle" transform="matrix(1 0 0 1.04 0 -42.10)"><tspan>−</tspan></text>
<text x="1765.1" y="1096.5" font-size="27" fill="#000" text-anchor="middle" transform="matrix(1 0 0 1.04 0 -43.86)"><tspan>−</tspan></text>
<text x="1318.8" y="792" font-size="27" fill="#000" text-anchor="middle" transform="rotate(-90 1318.8 792) matrix(1 0 0 1.04 0 -31.68)"><tspan>TET</tspan><tspan dy="8.1" font-size="18.4">751</tspan><tspan dy="-21.6" font-size="18.4">+</tspan><tspan dy="13.5"> (%) of cT</tspan><tspan dy="8.1" font-size="18.4">FH</tspan></text>
<text x="-3.1" y="24.3" font-size="32" font-weight="bold">a</text>
<text x="594.8" y="24.1" font-size="32" font-weight="bold">b</text>
<text x="1291.2" y="24.5" font-size="32" font-weight="bold">c</text>
</svg></body></html>
